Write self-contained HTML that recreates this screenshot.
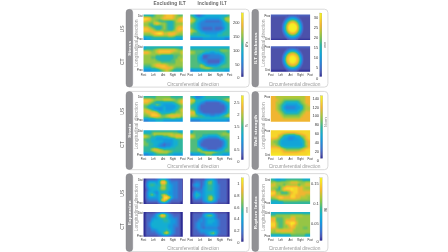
<!DOCTYPE html><html><head><meta charset="utf-8"><style>html,body{margin:0;padding:0;background:#fff;}svg{display:block;will-change:transform;}</style></head><body><svg width="448" height="252" viewBox="0 0 448 252" font-family="Liberation Sans, sans-serif"><defs><filter id="par" x="-20%" y="-20%" width="140%" height="140%" color-interpolation-filters="sRGB"><feGaussianBlur stdDeviation="0.7 1.1"/><feComponentTransfer><feFuncR type="table" tableValues="0.1765 0.2176 0.2586 0.2997 0.3027 0.2990 0.2952 0.2810 0.2624 0.2437 0.2250 0.2063 0.1877 0.1702 0.1547 0.1391 0.1236 0.1080 0.0924 0.0784 0.0784 0.0784 0.0784 0.0784 0.0784 0.0784 0.0909 0.1064 0.1220 0.1376 0.1531 0.1687 0.1998 0.2465 0.2932 0.3399 0.3866 0.4332 0.4781 0.5154 0.5528 0.5901 0.6275 0.6648 0.7021 0.7412 0.7804 0.8196 0.8588 0.8980 0.9373 0.9548 0.9579 0.9610 0.9641 0.9673 0.9681 0.9672 0.9664 0.9655 0.9645 0.9633 0.9620 0.9608"/><feFuncG type="table" tableValues="0.1765 0.2225 0.2686 0.3147 0.3406 0.3630 0.3854 0.4052 0.4239 0.4426 0.4613 0.4799 0.4986 0.5160 0.5316 0.5472 0.5627 0.5783 0.5938 0.6091 0.6215 0.6340 0.6464 0.6589 0.6713 0.6838 0.6898 0.6941 0.6985 0.7028 0.7072 0.7115 0.7178 0.7259 0.7340 0.7420 0.7501 0.7582 0.7653 0.7684 0.7716 0.7747 0.7778 0.7809 0.7840 0.7731 0.7607 0.7482 0.7358 0.7233 0.7109 0.7176 0.7370 0.7565 0.7759 0.7954 0.8174 0.8414 0.8654 0.8894 0.9117 0.9241 0.9366 0.9490"/><feFuncB type="table" tableValues="0.5882 0.6131 0.6380 0.6629 0.6931 0.7242 0.7554 0.7734 0.7859 0.7983 0.8108 0.8232 0.8357 0.8449 0.8492 0.8536 0.8580 0.8623 0.8667 0.8698 0.8624 0.8549 0.8474 0.8400 0.8325 0.8250 0.7986 0.7675 0.7364 0.7053 0.6741 0.6430 0.6041 0.5574 0.5107 0.4641 0.4174 0.3707 0.3296 0.3109 0.2923 0.2736 0.2549 0.2362 0.2176 0.2129 0.2098 0.2067 0.2035 0.2004 0.1973 0.1933 0.1886 0.1839 0.1793 0.1746 0.1696 0.1642 0.1589 0.1536 0.1485 0.1447 0.1410 0.1373"/><feFuncA type="identity"/></feComponentTransfer></filter></defs><rect width="448" height="252" fill="#fff"/><text x="169.70" y="3.89" font-size="4.75" text-anchor="middle" dominant-baseline="central" fill="#666" font-weight="bold" letter-spacing="0.12">Excluding ILT</text><text x="212.20" y="3.83" font-size="4.50" text-anchor="middle" dominant-baseline="central" fill="#666" font-weight="bold" letter-spacing="0.12">Including ILT</text><rect x="127" y="9.20" width="122.2" height="77.90" rx="3.5" fill="#fff" stroke="#d6d6d6" stroke-width="0.9"/><rect x="126.0" y="9.30" width="6.7" height="77.70" rx="3.3" fill="#919195" stroke="#828286" stroke-width="0.4"/><text x="129.20" y="48.15" font-size="4.40" text-anchor="middle" dominant-baseline="central" fill="#ffffff" transform="rotate(-90 129.20 48.15)" font-weight="bold" letter-spacing="0.3">Stress</text><rect x="253" y="9.20" width="74.9" height="77.90" rx="3.5" fill="#fff" stroke="#d6d6d6" stroke-width="0.9"/><rect x="251.9" y="9.30" width="6.7" height="77.70" rx="3.3" fill="#919195" stroke="#828286" stroke-width="0.4"/><text x="255.20" y="48.15" font-size="4.40" text-anchor="middle" dominant-baseline="central" fill="#ffffff" transform="rotate(-90 255.20 48.15)" font-weight="bold" letter-spacing="0.3">ILT thickness</text><text x="121.65" y="29.00" font-size="5.00" text-anchor="middle" dominant-baseline="central" fill="#555" transform="rotate(-90 121.65 29.00)" >US</text><text x="121.65" y="61.70" font-size="5.00" text-anchor="middle" dominant-baseline="central" fill="#555" transform="rotate(-90 121.65 61.70)" >CT</text><clipPath id="c1"><rect x="143.50" y="14.50" width="39.30" height="25.60"/></clipPath><g clip-path="url(#c1)"><g filter="url(#par)" shape-rendering="crispEdges"><linearGradient id="h2" gradientUnits="userSpaceOnUse" x1="144.73" y1="0" x2="181.57" y2="0"><stop offset="0.000" stop-color="#737373"/><stop offset="0.067" stop-color="#737373"/><stop offset="0.133" stop-color="#737373"/><stop offset="0.200" stop-color="#737373"/><stop offset="0.267" stop-color="#8c8c8c"/><stop offset="0.333" stop-color="#a6a6a6"/><stop offset="0.400" stop-color="#a6a6a6"/><stop offset="0.467" stop-color="#a6a6a6"/><stop offset="0.533" stop-color="#bfbfbf"/><stop offset="0.600" stop-color="#d9d9d9"/><stop offset="0.667" stop-color="#d9d9d9"/><stop offset="0.733" stop-color="#d9d9d9"/><stop offset="0.800" stop-color="#bfbfbf"/><stop offset="0.867" stop-color="#a6a6a6"/><stop offset="0.933" stop-color="#8c8c8c"/><stop offset="1.000" stop-color="#8c8c8c"/></linearGradient><rect x="138.59" y="9.33" width="49.12" height="2.66" fill="url(#h2)"/><linearGradient id="h3" gradientUnits="userSpaceOnUse" x1="144.73" y1="0" x2="181.57" y2="0"><stop offset="0.000" stop-color="#737373"/><stop offset="0.067" stop-color="#737373"/><stop offset="0.133" stop-color="#737373"/><stop offset="0.200" stop-color="#737373"/><stop offset="0.267" stop-color="#8c8c8c"/><stop offset="0.333" stop-color="#a6a6a6"/><stop offset="0.400" stop-color="#a6a6a6"/><stop offset="0.467" stop-color="#a6a6a6"/><stop offset="0.533" stop-color="#bfbfbf"/><stop offset="0.600" stop-color="#d9d9d9"/><stop offset="0.667" stop-color="#d9d9d9"/><stop offset="0.733" stop-color="#d9d9d9"/><stop offset="0.800" stop-color="#bfbfbf"/><stop offset="0.867" stop-color="#a6a6a6"/><stop offset="0.933" stop-color="#8c8c8c"/><stop offset="1.000" stop-color="#8c8c8c"/></linearGradient><rect x="138.59" y="11.89" width="49.12" height="2.66" fill="url(#h3)"/><linearGradient id="h4" gradientUnits="userSpaceOnUse" x1="144.73" y1="0" x2="181.57" y2="0"><stop offset="0.000" stop-color="#737373"/><stop offset="0.067" stop-color="#737373"/><stop offset="0.133" stop-color="#737373"/><stop offset="0.200" stop-color="#737373"/><stop offset="0.267" stop-color="#8c8c8c"/><stop offset="0.333" stop-color="#a6a6a6"/><stop offset="0.400" stop-color="#a6a6a6"/><stop offset="0.467" stop-color="#a6a6a6"/><stop offset="0.533" stop-color="#bfbfbf"/><stop offset="0.600" stop-color="#d9d9d9"/><stop offset="0.667" stop-color="#d9d9d9"/><stop offset="0.733" stop-color="#d9d9d9"/><stop offset="0.800" stop-color="#bfbfbf"/><stop offset="0.867" stop-color="#a6a6a6"/><stop offset="0.933" stop-color="#8c8c8c"/><stop offset="1.000" stop-color="#8c8c8c"/></linearGradient><rect x="138.59" y="14.45" width="49.12" height="2.66" fill="url(#h4)"/><linearGradient id="h5" gradientUnits="userSpaceOnUse" x1="144.73" y1="0" x2="181.57" y2="0"><stop offset="0.000" stop-color="#f2f2f2"/><stop offset="0.067" stop-color="#f2f2f2"/><stop offset="0.133" stop-color="#d9d9d9"/><stop offset="0.200" stop-color="#a6a6a6"/><stop offset="0.267" stop-color="#a6a6a6"/><stop offset="0.333" stop-color="#a6a6a6"/><stop offset="0.400" stop-color="#a6a6a6"/><stop offset="0.467" stop-color="#bfbfbf"/><stop offset="0.533" stop-color="#d9d9d9"/><stop offset="0.600" stop-color="#d9d9d9"/><stop offset="0.667" stop-color="#d9d9d9"/><stop offset="0.733" stop-color="#d9d9d9"/><stop offset="0.800" stop-color="#bfbfbf"/><stop offset="0.867" stop-color="#a6a6a6"/><stop offset="0.933" stop-color="#bfbfbf"/><stop offset="1.000" stop-color="#d9d9d9"/></linearGradient><rect x="138.59" y="17.01" width="49.12" height="2.66" fill="url(#h5)"/><linearGradient id="h6" gradientUnits="userSpaceOnUse" x1="144.73" y1="0" x2="181.57" y2="0"><stop offset="0.000" stop-color="#d9d9d9"/><stop offset="0.067" stop-color="#bfbfbf"/><stop offset="0.133" stop-color="#bfbfbf"/><stop offset="0.200" stop-color="#a6a6a6"/><stop offset="0.267" stop-color="#a6a6a6"/><stop offset="0.333" stop-color="#8c8c8c"/><stop offset="0.400" stop-color="#737373"/><stop offset="0.467" stop-color="#737373"/><stop offset="0.533" stop-color="#737373"/><stop offset="0.600" stop-color="#737373"/><stop offset="0.667" stop-color="#737373"/><stop offset="0.733" stop-color="#737373"/><stop offset="0.800" stop-color="#8c8c8c"/><stop offset="0.867" stop-color="#bfbfbf"/><stop offset="0.933" stop-color="#d9d9d9"/><stop offset="1.000" stop-color="#d9d9d9"/></linearGradient><rect x="138.59" y="19.57" width="49.12" height="2.66" fill="url(#h6)"/><linearGradient id="h7" gradientUnits="userSpaceOnUse" x1="144.73" y1="0" x2="181.57" y2="0"><stop offset="0.000" stop-color="#a6a6a6"/><stop offset="0.067" stop-color="#a6a6a6"/><stop offset="0.133" stop-color="#8c8c8c"/><stop offset="0.200" stop-color="#8c8c8c"/><stop offset="0.267" stop-color="#bfbfbf"/><stop offset="0.333" stop-color="#d9d9d9"/><stop offset="0.400" stop-color="#bfbfbf"/><stop offset="0.467" stop-color="#a6a6a6"/><stop offset="0.533" stop-color="#a6a6a6"/><stop offset="0.600" stop-color="#8c8c8c"/><stop offset="0.667" stop-color="#737373"/><stop offset="0.733" stop-color="#737373"/><stop offset="0.800" stop-color="#8c8c8c"/><stop offset="0.867" stop-color="#a6a6a6"/><stop offset="0.933" stop-color="#a6a6a6"/><stop offset="1.000" stop-color="#a6a6a6"/></linearGradient><rect x="138.59" y="22.13" width="49.12" height="2.66" fill="url(#h7)"/><linearGradient id="h8" gradientUnits="userSpaceOnUse" x1="144.73" y1="0" x2="181.57" y2="0"><stop offset="0.000" stop-color="#a6a6a6"/><stop offset="0.067" stop-color="#a6a6a6"/><stop offset="0.133" stop-color="#8c8c8c"/><stop offset="0.200" stop-color="#737373"/><stop offset="0.267" stop-color="#737373"/><stop offset="0.333" stop-color="#737373"/><stop offset="0.400" stop-color="#737373"/><stop offset="0.467" stop-color="#8c8c8c"/><stop offset="0.533" stop-color="#a6a6a6"/><stop offset="0.600" stop-color="#8c8c8c"/><stop offset="0.667" stop-color="#737373"/><stop offset="0.733" stop-color="#737373"/><stop offset="0.800" stop-color="#8c8c8c"/><stop offset="0.867" stop-color="#a6a6a6"/><stop offset="0.933" stop-color="#bfbfbf"/><stop offset="1.000" stop-color="#bfbfbf"/></linearGradient><rect x="138.59" y="24.69" width="49.12" height="2.66" fill="url(#h8)"/><linearGradient id="h9" gradientUnits="userSpaceOnUse" x1="144.73" y1="0" x2="181.57" y2="0"><stop offset="0.000" stop-color="#d9d9d9"/><stop offset="0.067" stop-color="#d9d9d9"/><stop offset="0.133" stop-color="#bfbfbf"/><stop offset="0.200" stop-color="#a6a6a6"/><stop offset="0.267" stop-color="#8c8c8c"/><stop offset="0.333" stop-color="#737373"/><stop offset="0.400" stop-color="#737373"/><stop offset="0.467" stop-color="#8c8c8c"/><stop offset="0.533" stop-color="#a6a6a6"/><stop offset="0.600" stop-color="#8c8c8c"/><stop offset="0.667" stop-color="#737373"/><stop offset="0.733" stop-color="#737373"/><stop offset="0.800" stop-color="#8c8c8c"/><stop offset="0.867" stop-color="#bfbfbf"/><stop offset="0.933" stop-color="#d9d9d9"/><stop offset="1.000" stop-color="#d9d9d9"/></linearGradient><rect x="138.59" y="27.25" width="49.12" height="2.66" fill="url(#h9)"/><linearGradient id="h10" gradientUnits="userSpaceOnUse" x1="144.73" y1="0" x2="181.57" y2="0"><stop offset="0.000" stop-color="#d9d9d9"/><stop offset="0.067" stop-color="#d9d9d9"/><stop offset="0.133" stop-color="#d9d9d9"/><stop offset="0.200" stop-color="#d9d9d9"/><stop offset="0.267" stop-color="#bfbfbf"/><stop offset="0.333" stop-color="#a6a6a6"/><stop offset="0.400" stop-color="#a6a6a6"/><stop offset="0.467" stop-color="#a6a6a6"/><stop offset="0.533" stop-color="#8c8c8c"/><stop offset="0.600" stop-color="#8c8c8c"/><stop offset="0.667" stop-color="#8c8c8c"/><stop offset="0.733" stop-color="#8c8c8c"/><stop offset="0.800" stop-color="#a6a6a6"/><stop offset="0.867" stop-color="#bfbfbf"/><stop offset="0.933" stop-color="#d9d9d9"/><stop offset="1.000" stop-color="#bfbfbf"/></linearGradient><rect x="138.59" y="29.81" width="49.12" height="2.66" fill="url(#h10)"/><linearGradient id="h11" gradientUnits="userSpaceOnUse" x1="144.73" y1="0" x2="181.57" y2="0"><stop offset="0.000" stop-color="#a6a6a6"/><stop offset="0.067" stop-color="#a6a6a6"/><stop offset="0.133" stop-color="#a6a6a6"/><stop offset="0.200" stop-color="#bfbfbf"/><stop offset="0.267" stop-color="#d9d9d9"/><stop offset="0.333" stop-color="#f2f2f2"/><stop offset="0.400" stop-color="#ffffff"/><stop offset="0.467" stop-color="#f2f2f2"/><stop offset="0.533" stop-color="#bfbfbf"/><stop offset="0.600" stop-color="#bfbfbf"/><stop offset="0.667" stop-color="#d9d9d9"/><stop offset="0.733" stop-color="#d9d9d9"/><stop offset="0.800" stop-color="#d9d9d9"/><stop offset="0.867" stop-color="#bfbfbf"/><stop offset="0.933" stop-color="#a6a6a6"/><stop offset="1.000" stop-color="#a6a6a6"/></linearGradient><rect x="138.59" y="32.37" width="49.12" height="2.66" fill="url(#h11)"/><linearGradient id="h12" gradientUnits="userSpaceOnUse" x1="144.73" y1="0" x2="181.57" y2="0"><stop offset="0.000" stop-color="#8c8c8c"/><stop offset="0.067" stop-color="#8c8c8c"/><stop offset="0.133" stop-color="#8c8c8c"/><stop offset="0.200" stop-color="#8c8c8c"/><stop offset="0.267" stop-color="#a6a6a6"/><stop offset="0.333" stop-color="#a6a6a6"/><stop offset="0.400" stop-color="#a6a6a6"/><stop offset="0.467" stop-color="#a6a6a6"/><stop offset="0.533" stop-color="#a6a6a6"/><stop offset="0.600" stop-color="#a6a6a6"/><stop offset="0.667" stop-color="#bfbfbf"/><stop offset="0.733" stop-color="#bfbfbf"/><stop offset="0.800" stop-color="#a6a6a6"/><stop offset="0.867" stop-color="#8c8c8c"/><stop offset="0.933" stop-color="#8c8c8c"/><stop offset="1.000" stop-color="#8c8c8c"/></linearGradient><rect x="138.59" y="34.93" width="49.12" height="2.66" fill="url(#h12)"/><linearGradient id="h13" gradientUnits="userSpaceOnUse" x1="144.73" y1="0" x2="181.57" y2="0"><stop offset="0.000" stop-color="#404040"/><stop offset="0.067" stop-color="#595959"/><stop offset="0.133" stop-color="#595959"/><stop offset="0.200" stop-color="#737373"/><stop offset="0.267" stop-color="#737373"/><stop offset="0.333" stop-color="#737373"/><stop offset="0.400" stop-color="#737373"/><stop offset="0.467" stop-color="#737373"/><stop offset="0.533" stop-color="#737373"/><stop offset="0.600" stop-color="#737373"/><stop offset="0.667" stop-color="#737373"/><stop offset="0.733" stop-color="#737373"/><stop offset="0.800" stop-color="#737373"/><stop offset="0.867" stop-color="#595959"/><stop offset="0.933" stop-color="#595959"/><stop offset="1.000" stop-color="#595959"/></linearGradient><rect x="138.59" y="37.49" width="49.12" height="2.66" fill="url(#h13)"/><linearGradient id="h14" gradientUnits="userSpaceOnUse" x1="144.73" y1="0" x2="181.57" y2="0"><stop offset="0.000" stop-color="#404040"/><stop offset="0.067" stop-color="#595959"/><stop offset="0.133" stop-color="#595959"/><stop offset="0.200" stop-color="#737373"/><stop offset="0.267" stop-color="#737373"/><stop offset="0.333" stop-color="#737373"/><stop offset="0.400" stop-color="#737373"/><stop offset="0.467" stop-color="#737373"/><stop offset="0.533" stop-color="#737373"/><stop offset="0.600" stop-color="#737373"/><stop offset="0.667" stop-color="#737373"/><stop offset="0.733" stop-color="#737373"/><stop offset="0.800" stop-color="#737373"/><stop offset="0.867" stop-color="#595959"/><stop offset="0.933" stop-color="#595959"/><stop offset="1.000" stop-color="#595959"/></linearGradient><rect x="138.59" y="40.05" width="49.12" height="2.66" fill="url(#h14)"/><linearGradient id="h15" gradientUnits="userSpaceOnUse" x1="144.73" y1="0" x2="181.57" y2="0"><stop offset="0.000" stop-color="#404040"/><stop offset="0.067" stop-color="#595959"/><stop offset="0.133" stop-color="#595959"/><stop offset="0.200" stop-color="#737373"/><stop offset="0.267" stop-color="#737373"/><stop offset="0.333" stop-color="#737373"/><stop offset="0.400" stop-color="#737373"/><stop offset="0.467" stop-color="#737373"/><stop offset="0.533" stop-color="#737373"/><stop offset="0.600" stop-color="#737373"/><stop offset="0.667" stop-color="#737373"/><stop offset="0.733" stop-color="#737373"/><stop offset="0.800" stop-color="#737373"/><stop offset="0.867" stop-color="#595959"/><stop offset="0.933" stop-color="#595959"/><stop offset="1.000" stop-color="#595959"/></linearGradient><rect x="138.59" y="42.61" width="49.12" height="2.66" fill="url(#h15)"/></g></g><clipPath id="c16"><rect x="190.30" y="14.50" width="39.30" height="25.60"/></clipPath><g clip-path="url(#c16)"><g filter="url(#par)" shape-rendering="crispEdges"><linearGradient id="h17" gradientUnits="userSpaceOnUse" x1="191.53" y1="0" x2="228.37" y2="0"><stop offset="0.000" stop-color="#808080"/><stop offset="0.067" stop-color="#666666"/><stop offset="0.133" stop-color="#333333"/><stop offset="0.200" stop-color="#1a1a1a"/><stop offset="0.267" stop-color="#333333"/><stop offset="0.333" stop-color="#4c4c4c"/><stop offset="0.400" stop-color="#666666"/><stop offset="0.467" stop-color="#666666"/><stop offset="0.533" stop-color="#666666"/><stop offset="0.600" stop-color="#666666"/><stop offset="0.667" stop-color="#666666"/><stop offset="0.733" stop-color="#666666"/><stop offset="0.800" stop-color="#666666"/><stop offset="0.867" stop-color="#666666"/><stop offset="0.933" stop-color="#666666"/><stop offset="1.000" stop-color="#808080"/></linearGradient><rect x="185.39" y="9.33" width="49.12" height="2.66" fill="url(#h17)"/><linearGradient id="h18" gradientUnits="userSpaceOnUse" x1="191.53" y1="0" x2="228.37" y2="0"><stop offset="0.000" stop-color="#808080"/><stop offset="0.067" stop-color="#666666"/><stop offset="0.133" stop-color="#333333"/><stop offset="0.200" stop-color="#1a1a1a"/><stop offset="0.267" stop-color="#333333"/><stop offset="0.333" stop-color="#4c4c4c"/><stop offset="0.400" stop-color="#666666"/><stop offset="0.467" stop-color="#666666"/><stop offset="0.533" stop-color="#666666"/><stop offset="0.600" stop-color="#666666"/><stop offset="0.667" stop-color="#666666"/><stop offset="0.733" stop-color="#666666"/><stop offset="0.800" stop-color="#666666"/><stop offset="0.867" stop-color="#666666"/><stop offset="0.933" stop-color="#666666"/><stop offset="1.000" stop-color="#808080"/></linearGradient><rect x="185.39" y="11.89" width="49.12" height="2.66" fill="url(#h18)"/><linearGradient id="h19" gradientUnits="userSpaceOnUse" x1="191.53" y1="0" x2="228.37" y2="0"><stop offset="0.000" stop-color="#808080"/><stop offset="0.067" stop-color="#666666"/><stop offset="0.133" stop-color="#333333"/><stop offset="0.200" stop-color="#1a1a1a"/><stop offset="0.267" stop-color="#333333"/><stop offset="0.333" stop-color="#4c4c4c"/><stop offset="0.400" stop-color="#666666"/><stop offset="0.467" stop-color="#666666"/><stop offset="0.533" stop-color="#666666"/><stop offset="0.600" stop-color="#666666"/><stop offset="0.667" stop-color="#666666"/><stop offset="0.733" stop-color="#666666"/><stop offset="0.800" stop-color="#666666"/><stop offset="0.867" stop-color="#666666"/><stop offset="0.933" stop-color="#666666"/><stop offset="1.000" stop-color="#808080"/></linearGradient><rect x="185.39" y="14.45" width="49.12" height="2.66" fill="url(#h19)"/><linearGradient id="h20" gradientUnits="userSpaceOnUse" x1="191.53" y1="0" x2="228.37" y2="0"><stop offset="0.000" stop-color="#b2b2b2"/><stop offset="0.067" stop-color="#999999"/><stop offset="0.133" stop-color="#808080"/><stop offset="0.200" stop-color="#666666"/><stop offset="0.267" stop-color="#666666"/><stop offset="0.333" stop-color="#666666"/><stop offset="0.400" stop-color="#4c4c4c"/><stop offset="0.467" stop-color="#4c4c4c"/><stop offset="0.533" stop-color="#4c4c4c"/><stop offset="0.600" stop-color="#4c4c4c"/><stop offset="0.667" stop-color="#4c4c4c"/><stop offset="0.733" stop-color="#4c4c4c"/><stop offset="0.800" stop-color="#666666"/><stop offset="0.867" stop-color="#808080"/><stop offset="0.933" stop-color="#b2b2b2"/><stop offset="1.000" stop-color="#b2b2b2"/></linearGradient><rect x="185.39" y="17.01" width="49.12" height="2.66" fill="url(#h20)"/><linearGradient id="h21" gradientUnits="userSpaceOnUse" x1="191.53" y1="0" x2="228.37" y2="0"><stop offset="0.000" stop-color="#cccccc"/><stop offset="0.067" stop-color="#b2b2b2"/><stop offset="0.133" stop-color="#808080"/><stop offset="0.200" stop-color="#666666"/><stop offset="0.267" stop-color="#4c4c4c"/><stop offset="0.333" stop-color="#333333"/><stop offset="0.400" stop-color="#1a1a1a"/><stop offset="0.467" stop-color="#1a1a1a"/><stop offset="0.533" stop-color="#1a1a1a"/><stop offset="0.600" stop-color="#1a1a1a"/><stop offset="0.667" stop-color="#1a1a1a"/><stop offset="0.733" stop-color="#1a1a1a"/><stop offset="0.800" stop-color="#333333"/><stop offset="0.867" stop-color="#666666"/><stop offset="0.933" stop-color="#999999"/><stop offset="1.000" stop-color="#b2b2b2"/></linearGradient><rect x="185.39" y="19.57" width="49.12" height="2.66" fill="url(#h21)"/><linearGradient id="h22" gradientUnits="userSpaceOnUse" x1="191.53" y1="0" x2="228.37" y2="0"><stop offset="0.000" stop-color="#999999"/><stop offset="0.067" stop-color="#808080"/><stop offset="0.133" stop-color="#666666"/><stop offset="0.200" stop-color="#4c4c4c"/><stop offset="0.267" stop-color="#333333"/><stop offset="0.333" stop-color="#333333"/><stop offset="0.400" stop-color="#333333"/><stop offset="0.467" stop-color="#333333"/><stop offset="0.533" stop-color="#333333"/><stop offset="0.600" stop-color="#333333"/><stop offset="0.667" stop-color="#333333"/><stop offset="0.733" stop-color="#333333"/><stop offset="0.800" stop-color="#333333"/><stop offset="0.867" stop-color="#4c4c4c"/><stop offset="0.933" stop-color="#666666"/><stop offset="1.000" stop-color="#808080"/></linearGradient><rect x="185.39" y="22.13" width="49.12" height="2.66" fill="url(#h22)"/><linearGradient id="h23" gradientUnits="userSpaceOnUse" x1="191.53" y1="0" x2="228.37" y2="0"><stop offset="0.000" stop-color="#808080"/><stop offset="0.067" stop-color="#808080"/><stop offset="0.133" stop-color="#666666"/><stop offset="0.200" stop-color="#4c4c4c"/><stop offset="0.267" stop-color="#333333"/><stop offset="0.333" stop-color="#333333"/><stop offset="0.400" stop-color="#333333"/><stop offset="0.467" stop-color="#333333"/><stop offset="0.533" stop-color="#333333"/><stop offset="0.600" stop-color="#333333"/><stop offset="0.667" stop-color="#333333"/><stop offset="0.733" stop-color="#333333"/><stop offset="0.800" stop-color="#333333"/><stop offset="0.867" stop-color="#4c4c4c"/><stop offset="0.933" stop-color="#666666"/><stop offset="1.000" stop-color="#808080"/></linearGradient><rect x="185.39" y="24.69" width="49.12" height="2.66" fill="url(#h23)"/><linearGradient id="h24" gradientUnits="userSpaceOnUse" x1="191.53" y1="0" x2="228.37" y2="0"><stop offset="0.000" stop-color="#999999"/><stop offset="0.067" stop-color="#808080"/><stop offset="0.133" stop-color="#666666"/><stop offset="0.200" stop-color="#4c4c4c"/><stop offset="0.267" stop-color="#333333"/><stop offset="0.333" stop-color="#1a1a1a"/><stop offset="0.400" stop-color="#1a1a1a"/><stop offset="0.467" stop-color="#1a1a1a"/><stop offset="0.533" stop-color="#1a1a1a"/><stop offset="0.600" stop-color="#333333"/><stop offset="0.667" stop-color="#1a1a1a"/><stop offset="0.733" stop-color="#1a1a1a"/><stop offset="0.800" stop-color="#1a1a1a"/><stop offset="0.867" stop-color="#333333"/><stop offset="0.933" stop-color="#666666"/><stop offset="1.000" stop-color="#808080"/></linearGradient><rect x="185.39" y="27.25" width="49.12" height="2.66" fill="url(#h24)"/><linearGradient id="h25" gradientUnits="userSpaceOnUse" x1="191.53" y1="0" x2="228.37" y2="0"><stop offset="0.000" stop-color="#cccccc"/><stop offset="0.067" stop-color="#b2b2b2"/><stop offset="0.133" stop-color="#999999"/><stop offset="0.200" stop-color="#666666"/><stop offset="0.267" stop-color="#4c4c4c"/><stop offset="0.333" stop-color="#333333"/><stop offset="0.400" stop-color="#333333"/><stop offset="0.467" stop-color="#333333"/><stop offset="0.533" stop-color="#333333"/><stop offset="0.600" stop-color="#333333"/><stop offset="0.667" stop-color="#333333"/><stop offset="0.733" stop-color="#333333"/><stop offset="0.800" stop-color="#4c4c4c"/><stop offset="0.867" stop-color="#666666"/><stop offset="0.933" stop-color="#808080"/><stop offset="1.000" stop-color="#808080"/></linearGradient><rect x="185.39" y="29.81" width="49.12" height="2.66" fill="url(#h25)"/><linearGradient id="h26" gradientUnits="userSpaceOnUse" x1="191.53" y1="0" x2="228.37" y2="0"><stop offset="0.000" stop-color="#999999"/><stop offset="0.067" stop-color="#808080"/><stop offset="0.133" stop-color="#808080"/><stop offset="0.200" stop-color="#808080"/><stop offset="0.267" stop-color="#666666"/><stop offset="0.333" stop-color="#666666"/><stop offset="0.400" stop-color="#4c4c4c"/><stop offset="0.467" stop-color="#4c4c4c"/><stop offset="0.533" stop-color="#4c4c4c"/><stop offset="0.600" stop-color="#4c4c4c"/><stop offset="0.667" stop-color="#4c4c4c"/><stop offset="0.733" stop-color="#666666"/><stop offset="0.800" stop-color="#666666"/><stop offset="0.867" stop-color="#808080"/><stop offset="0.933" stop-color="#808080"/><stop offset="1.000" stop-color="#808080"/></linearGradient><rect x="185.39" y="32.37" width="49.12" height="2.66" fill="url(#h26)"/><linearGradient id="h27" gradientUnits="userSpaceOnUse" x1="191.53" y1="0" x2="228.37" y2="0"><stop offset="0.000" stop-color="#808080"/><stop offset="0.067" stop-color="#808080"/><stop offset="0.133" stop-color="#808080"/><stop offset="0.200" stop-color="#808080"/><stop offset="0.267" stop-color="#808080"/><stop offset="0.333" stop-color="#808080"/><stop offset="0.400" stop-color="#808080"/><stop offset="0.467" stop-color="#808080"/><stop offset="0.533" stop-color="#666666"/><stop offset="0.600" stop-color="#666666"/><stop offset="0.667" stop-color="#666666"/><stop offset="0.733" stop-color="#808080"/><stop offset="0.800" stop-color="#808080"/><stop offset="0.867" stop-color="#808080"/><stop offset="0.933" stop-color="#808080"/><stop offset="1.000" stop-color="#808080"/></linearGradient><rect x="185.39" y="34.93" width="49.12" height="2.66" fill="url(#h27)"/><linearGradient id="h28" gradientUnits="userSpaceOnUse" x1="191.53" y1="0" x2="228.37" y2="0"><stop offset="0.000" stop-color="#333333"/><stop offset="0.067" stop-color="#333333"/><stop offset="0.133" stop-color="#333333"/><stop offset="0.200" stop-color="#333333"/><stop offset="0.267" stop-color="#333333"/><stop offset="0.333" stop-color="#4c4c4c"/><stop offset="0.400" stop-color="#4c4c4c"/><stop offset="0.467" stop-color="#4c4c4c"/><stop offset="0.533" stop-color="#4c4c4c"/><stop offset="0.600" stop-color="#4c4c4c"/><stop offset="0.667" stop-color="#4c4c4c"/><stop offset="0.733" stop-color="#4c4c4c"/><stop offset="0.800" stop-color="#4c4c4c"/><stop offset="0.867" stop-color="#4c4c4c"/><stop offset="0.933" stop-color="#333333"/><stop offset="1.000" stop-color="#333333"/></linearGradient><rect x="185.39" y="37.49" width="49.12" height="2.66" fill="url(#h28)"/><linearGradient id="h29" gradientUnits="userSpaceOnUse" x1="191.53" y1="0" x2="228.37" y2="0"><stop offset="0.000" stop-color="#333333"/><stop offset="0.067" stop-color="#333333"/><stop offset="0.133" stop-color="#333333"/><stop offset="0.200" stop-color="#333333"/><stop offset="0.267" stop-color="#333333"/><stop offset="0.333" stop-color="#4c4c4c"/><stop offset="0.400" stop-color="#4c4c4c"/><stop offset="0.467" stop-color="#4c4c4c"/><stop offset="0.533" stop-color="#4c4c4c"/><stop offset="0.600" stop-color="#4c4c4c"/><stop offset="0.667" stop-color="#4c4c4c"/><stop offset="0.733" stop-color="#4c4c4c"/><stop offset="0.800" stop-color="#4c4c4c"/><stop offset="0.867" stop-color="#4c4c4c"/><stop offset="0.933" stop-color="#333333"/><stop offset="1.000" stop-color="#333333"/></linearGradient><rect x="185.39" y="40.05" width="49.12" height="2.66" fill="url(#h29)"/><linearGradient id="h30" gradientUnits="userSpaceOnUse" x1="191.53" y1="0" x2="228.37" y2="0"><stop offset="0.000" stop-color="#333333"/><stop offset="0.067" stop-color="#333333"/><stop offset="0.133" stop-color="#333333"/><stop offset="0.200" stop-color="#333333"/><stop offset="0.267" stop-color="#333333"/><stop offset="0.333" stop-color="#4c4c4c"/><stop offset="0.400" stop-color="#4c4c4c"/><stop offset="0.467" stop-color="#4c4c4c"/><stop offset="0.533" stop-color="#4c4c4c"/><stop offset="0.600" stop-color="#4c4c4c"/><stop offset="0.667" stop-color="#4c4c4c"/><stop offset="0.733" stop-color="#4c4c4c"/><stop offset="0.800" stop-color="#4c4c4c"/><stop offset="0.867" stop-color="#4c4c4c"/><stop offset="0.933" stop-color="#333333"/><stop offset="1.000" stop-color="#333333"/></linearGradient><rect x="185.39" y="42.61" width="49.12" height="2.66" fill="url(#h30)"/></g></g><clipPath id="c31"><rect x="143.50" y="46.30" width="39.30" height="25.40"/></clipPath><g clip-path="url(#c31)"><g filter="url(#par)" shape-rendering="crispEdges"><linearGradient id="h32" gradientUnits="userSpaceOnUse" x1="144.73" y1="0" x2="181.57" y2="0"><stop offset="0.000" stop-color="#595959"/><stop offset="0.067" stop-color="#737373"/><stop offset="0.133" stop-color="#737373"/><stop offset="0.200" stop-color="#737373"/><stop offset="0.267" stop-color="#737373"/><stop offset="0.333" stop-color="#737373"/><stop offset="0.400" stop-color="#737373"/><stop offset="0.467" stop-color="#737373"/><stop offset="0.533" stop-color="#737373"/><stop offset="0.600" stop-color="#737373"/><stop offset="0.667" stop-color="#737373"/><stop offset="0.733" stop-color="#737373"/><stop offset="0.800" stop-color="#737373"/><stop offset="0.867" stop-color="#737373"/><stop offset="0.933" stop-color="#737373"/><stop offset="1.000" stop-color="#595959"/></linearGradient><rect x="138.59" y="41.17" width="49.12" height="2.64" fill="url(#h32)"/><linearGradient id="h33" gradientUnits="userSpaceOnUse" x1="144.73" y1="0" x2="181.57" y2="0"><stop offset="0.000" stop-color="#595959"/><stop offset="0.067" stop-color="#737373"/><stop offset="0.133" stop-color="#737373"/><stop offset="0.200" stop-color="#737373"/><stop offset="0.267" stop-color="#737373"/><stop offset="0.333" stop-color="#737373"/><stop offset="0.400" stop-color="#737373"/><stop offset="0.467" stop-color="#737373"/><stop offset="0.533" stop-color="#737373"/><stop offset="0.600" stop-color="#737373"/><stop offset="0.667" stop-color="#737373"/><stop offset="0.733" stop-color="#737373"/><stop offset="0.800" stop-color="#737373"/><stop offset="0.867" stop-color="#737373"/><stop offset="0.933" stop-color="#737373"/><stop offset="1.000" stop-color="#595959"/></linearGradient><rect x="138.59" y="43.71" width="49.12" height="2.64" fill="url(#h33)"/><linearGradient id="h34" gradientUnits="userSpaceOnUse" x1="144.73" y1="0" x2="181.57" y2="0"><stop offset="0.000" stop-color="#595959"/><stop offset="0.067" stop-color="#737373"/><stop offset="0.133" stop-color="#737373"/><stop offset="0.200" stop-color="#737373"/><stop offset="0.267" stop-color="#737373"/><stop offset="0.333" stop-color="#737373"/><stop offset="0.400" stop-color="#737373"/><stop offset="0.467" stop-color="#737373"/><stop offset="0.533" stop-color="#737373"/><stop offset="0.600" stop-color="#737373"/><stop offset="0.667" stop-color="#737373"/><stop offset="0.733" stop-color="#737373"/><stop offset="0.800" stop-color="#737373"/><stop offset="0.867" stop-color="#737373"/><stop offset="0.933" stop-color="#737373"/><stop offset="1.000" stop-color="#595959"/></linearGradient><rect x="138.59" y="46.25" width="49.12" height="2.64" fill="url(#h34)"/><linearGradient id="h35" gradientUnits="userSpaceOnUse" x1="144.73" y1="0" x2="181.57" y2="0"><stop offset="0.000" stop-color="#8c8c8c"/><stop offset="0.067" stop-color="#8c8c8c"/><stop offset="0.133" stop-color="#8c8c8c"/><stop offset="0.200" stop-color="#8c8c8c"/><stop offset="0.267" stop-color="#a6a6a6"/><stop offset="0.333" stop-color="#bfbfbf"/><stop offset="0.400" stop-color="#d9d9d9"/><stop offset="0.467" stop-color="#d9d9d9"/><stop offset="0.533" stop-color="#d9d9d9"/><stop offset="0.600" stop-color="#d9d9d9"/><stop offset="0.667" stop-color="#d9d9d9"/><stop offset="0.733" stop-color="#d9d9d9"/><stop offset="0.800" stop-color="#d9d9d9"/><stop offset="0.867" stop-color="#bfbfbf"/><stop offset="0.933" stop-color="#a6a6a6"/><stop offset="1.000" stop-color="#a6a6a6"/></linearGradient><rect x="138.59" y="48.79" width="49.12" height="2.64" fill="url(#h35)"/><linearGradient id="h36" gradientUnits="userSpaceOnUse" x1="144.73" y1="0" x2="181.57" y2="0"><stop offset="0.000" stop-color="#d9d9d9"/><stop offset="0.067" stop-color="#d9d9d9"/><stop offset="0.133" stop-color="#bfbfbf"/><stop offset="0.200" stop-color="#a6a6a6"/><stop offset="0.267" stop-color="#a6a6a6"/><stop offset="0.333" stop-color="#bfbfbf"/><stop offset="0.400" stop-color="#d9d9d9"/><stop offset="0.467" stop-color="#d9d9d9"/><stop offset="0.533" stop-color="#d9d9d9"/><stop offset="0.600" stop-color="#d9d9d9"/><stop offset="0.667" stop-color="#d9d9d9"/><stop offset="0.733" stop-color="#bfbfbf"/><stop offset="0.800" stop-color="#a6a6a6"/><stop offset="0.867" stop-color="#a6a6a6"/><stop offset="0.933" stop-color="#a6a6a6"/><stop offset="1.000" stop-color="#bfbfbf"/></linearGradient><rect x="138.59" y="51.33" width="49.12" height="2.64" fill="url(#h36)"/><linearGradient id="h37" gradientUnits="userSpaceOnUse" x1="144.73" y1="0" x2="181.57" y2="0"><stop offset="0.000" stop-color="#a6a6a6"/><stop offset="0.067" stop-color="#a6a6a6"/><stop offset="0.133" stop-color="#a6a6a6"/><stop offset="0.200" stop-color="#a6a6a6"/><stop offset="0.267" stop-color="#a6a6a6"/><stop offset="0.333" stop-color="#8c8c8c"/><stop offset="0.400" stop-color="#8c8c8c"/><stop offset="0.467" stop-color="#737373"/><stop offset="0.533" stop-color="#737373"/><stop offset="0.600" stop-color="#737373"/><stop offset="0.667" stop-color="#737373"/><stop offset="0.733" stop-color="#737373"/><stop offset="0.800" stop-color="#8c8c8c"/><stop offset="0.867" stop-color="#8c8c8c"/><stop offset="0.933" stop-color="#8c8c8c"/><stop offset="1.000" stop-color="#a6a6a6"/></linearGradient><rect x="138.59" y="53.87" width="49.12" height="2.64" fill="url(#h37)"/><linearGradient id="h38" gradientUnits="userSpaceOnUse" x1="144.73" y1="0" x2="181.57" y2="0"><stop offset="0.000" stop-color="#a6a6a6"/><stop offset="0.067" stop-color="#a6a6a6"/><stop offset="0.133" stop-color="#a6a6a6"/><stop offset="0.200" stop-color="#8c8c8c"/><stop offset="0.267" stop-color="#8c8c8c"/><stop offset="0.333" stop-color="#737373"/><stop offset="0.400" stop-color="#737373"/><stop offset="0.467" stop-color="#737373"/><stop offset="0.533" stop-color="#737373"/><stop offset="0.600" stop-color="#737373"/><stop offset="0.667" stop-color="#737373"/><stop offset="0.733" stop-color="#737373"/><stop offset="0.800" stop-color="#8c8c8c"/><stop offset="0.867" stop-color="#8c8c8c"/><stop offset="0.933" stop-color="#a6a6a6"/><stop offset="1.000" stop-color="#a6a6a6"/></linearGradient><rect x="138.59" y="56.41" width="49.12" height="2.64" fill="url(#h38)"/><linearGradient id="h39" gradientUnits="userSpaceOnUse" x1="144.73" y1="0" x2="181.57" y2="0"><stop offset="0.000" stop-color="#a6a6a6"/><stop offset="0.067" stop-color="#a6a6a6"/><stop offset="0.133" stop-color="#a6a6a6"/><stop offset="0.200" stop-color="#a6a6a6"/><stop offset="0.267" stop-color="#a6a6a6"/><stop offset="0.333" stop-color="#8c8c8c"/><stop offset="0.400" stop-color="#737373"/><stop offset="0.467" stop-color="#737373"/><stop offset="0.533" stop-color="#737373"/><stop offset="0.600" stop-color="#737373"/><stop offset="0.667" stop-color="#737373"/><stop offset="0.733" stop-color="#8c8c8c"/><stop offset="0.800" stop-color="#8c8c8c"/><stop offset="0.867" stop-color="#a6a6a6"/><stop offset="0.933" stop-color="#a6a6a6"/><stop offset="1.000" stop-color="#bfbfbf"/></linearGradient><rect x="138.59" y="58.95" width="49.12" height="2.64" fill="url(#h39)"/><linearGradient id="h40" gradientUnits="userSpaceOnUse" x1="144.73" y1="0" x2="181.57" y2="0"><stop offset="0.000" stop-color="#a6a6a6"/><stop offset="0.067" stop-color="#a6a6a6"/><stop offset="0.133" stop-color="#a6a6a6"/><stop offset="0.200" stop-color="#a6a6a6"/><stop offset="0.267" stop-color="#a6a6a6"/><stop offset="0.333" stop-color="#a6a6a6"/><stop offset="0.400" stop-color="#a6a6a6"/><stop offset="0.467" stop-color="#8c8c8c"/><stop offset="0.533" stop-color="#8c8c8c"/><stop offset="0.600" stop-color="#8c8c8c"/><stop offset="0.667" stop-color="#8c8c8c"/><stop offset="0.733" stop-color="#8c8c8c"/><stop offset="0.800" stop-color="#8c8c8c"/><stop offset="0.867" stop-color="#a6a6a6"/><stop offset="0.933" stop-color="#a6a6a6"/><stop offset="1.000" stop-color="#a6a6a6"/></linearGradient><rect x="138.59" y="61.49" width="49.12" height="2.64" fill="url(#h40)"/><linearGradient id="h41" gradientUnits="userSpaceOnUse" x1="144.73" y1="0" x2="181.57" y2="0"><stop offset="0.000" stop-color="#8c8c8c"/><stop offset="0.067" stop-color="#8c8c8c"/><stop offset="0.133" stop-color="#8c8c8c"/><stop offset="0.200" stop-color="#a6a6a6"/><stop offset="0.267" stop-color="#bfbfbf"/><stop offset="0.333" stop-color="#d9d9d9"/><stop offset="0.400" stop-color="#d9d9d9"/><stop offset="0.467" stop-color="#d9d9d9"/><stop offset="0.533" stop-color="#d9d9d9"/><stop offset="0.600" stop-color="#bfbfbf"/><stop offset="0.667" stop-color="#a6a6a6"/><stop offset="0.733" stop-color="#a6a6a6"/><stop offset="0.800" stop-color="#a6a6a6"/><stop offset="0.867" stop-color="#a6a6a6"/><stop offset="0.933" stop-color="#a6a6a6"/><stop offset="1.000" stop-color="#a6a6a6"/></linearGradient><rect x="138.59" y="64.03" width="49.12" height="2.64" fill="url(#h41)"/><linearGradient id="h42" gradientUnits="userSpaceOnUse" x1="144.73" y1="0" x2="181.57" y2="0"><stop offset="0.000" stop-color="#737373"/><stop offset="0.067" stop-color="#737373"/><stop offset="0.133" stop-color="#737373"/><stop offset="0.200" stop-color="#8c8c8c"/><stop offset="0.267" stop-color="#8c8c8c"/><stop offset="0.333" stop-color="#a6a6a6"/><stop offset="0.400" stop-color="#bfbfbf"/><stop offset="0.467" stop-color="#d9d9d9"/><stop offset="0.533" stop-color="#d9d9d9"/><stop offset="0.600" stop-color="#d9d9d9"/><stop offset="0.667" stop-color="#d9d9d9"/><stop offset="0.733" stop-color="#d9d9d9"/><stop offset="0.800" stop-color="#a6a6a6"/><stop offset="0.867" stop-color="#8c8c8c"/><stop offset="0.933" stop-color="#8c8c8c"/><stop offset="1.000" stop-color="#8c8c8c"/></linearGradient><rect x="138.59" y="66.57" width="49.12" height="2.64" fill="url(#h42)"/><linearGradient id="h43" gradientUnits="userSpaceOnUse" x1="144.73" y1="0" x2="181.57" y2="0"><stop offset="0.000" stop-color="#404040"/><stop offset="0.067" stop-color="#404040"/><stop offset="0.133" stop-color="#404040"/><stop offset="0.200" stop-color="#595959"/><stop offset="0.267" stop-color="#595959"/><stop offset="0.333" stop-color="#595959"/><stop offset="0.400" stop-color="#737373"/><stop offset="0.467" stop-color="#8c8c8c"/><stop offset="0.533" stop-color="#a6a6a6"/><stop offset="0.600" stop-color="#bfbfbf"/><stop offset="0.667" stop-color="#a6a6a6"/><stop offset="0.733" stop-color="#8c8c8c"/><stop offset="0.800" stop-color="#737373"/><stop offset="0.867" stop-color="#737373"/><stop offset="0.933" stop-color="#737373"/><stop offset="1.000" stop-color="#737373"/></linearGradient><rect x="138.59" y="69.11" width="49.12" height="2.64" fill="url(#h43)"/><linearGradient id="h44" gradientUnits="userSpaceOnUse" x1="144.73" y1="0" x2="181.57" y2="0"><stop offset="0.000" stop-color="#404040"/><stop offset="0.067" stop-color="#404040"/><stop offset="0.133" stop-color="#404040"/><stop offset="0.200" stop-color="#595959"/><stop offset="0.267" stop-color="#595959"/><stop offset="0.333" stop-color="#595959"/><stop offset="0.400" stop-color="#737373"/><stop offset="0.467" stop-color="#8c8c8c"/><stop offset="0.533" stop-color="#a6a6a6"/><stop offset="0.600" stop-color="#bfbfbf"/><stop offset="0.667" stop-color="#a6a6a6"/><stop offset="0.733" stop-color="#8c8c8c"/><stop offset="0.800" stop-color="#737373"/><stop offset="0.867" stop-color="#737373"/><stop offset="0.933" stop-color="#737373"/><stop offset="1.000" stop-color="#737373"/></linearGradient><rect x="138.59" y="71.65" width="49.12" height="2.64" fill="url(#h44)"/><linearGradient id="h45" gradientUnits="userSpaceOnUse" x1="144.73" y1="0" x2="181.57" y2="0"><stop offset="0.000" stop-color="#404040"/><stop offset="0.067" stop-color="#404040"/><stop offset="0.133" stop-color="#404040"/><stop offset="0.200" stop-color="#595959"/><stop offset="0.267" stop-color="#595959"/><stop offset="0.333" stop-color="#595959"/><stop offset="0.400" stop-color="#737373"/><stop offset="0.467" stop-color="#8c8c8c"/><stop offset="0.533" stop-color="#a6a6a6"/><stop offset="0.600" stop-color="#bfbfbf"/><stop offset="0.667" stop-color="#a6a6a6"/><stop offset="0.733" stop-color="#8c8c8c"/><stop offset="0.800" stop-color="#737373"/><stop offset="0.867" stop-color="#737373"/><stop offset="0.933" stop-color="#737373"/><stop offset="1.000" stop-color="#737373"/></linearGradient><rect x="138.59" y="74.19" width="49.12" height="2.64" fill="url(#h45)"/></g></g><clipPath id="c46"><rect x="190.30" y="46.30" width="39.30" height="25.40"/></clipPath><g clip-path="url(#c46)"><g filter="url(#par)" shape-rendering="crispEdges"><rect x="185.39" y="41.17" width="49.12" height="2.64" fill="#666666"/><rect x="185.39" y="43.71" width="49.12" height="2.64" fill="#666666"/><rect x="185.39" y="46.25" width="49.12" height="2.64" fill="#666666"/><linearGradient id="h47" gradientUnits="userSpaceOnUse" x1="191.53" y1="0" x2="228.37" y2="0"><stop offset="0.000" stop-color="#8c8c8c"/><stop offset="0.067" stop-color="#8c8c8c"/><stop offset="0.133" stop-color="#8c8c8c"/><stop offset="0.200" stop-color="#8c8c8c"/><stop offset="0.267" stop-color="#8c8c8c"/><stop offset="0.333" stop-color="#8c8c8c"/><stop offset="0.400" stop-color="#8c8c8c"/><stop offset="0.467" stop-color="#8c8c8c"/><stop offset="0.533" stop-color="#8c8c8c"/><stop offset="0.600" stop-color="#8c8c8c"/><stop offset="0.667" stop-color="#8c8c8c"/><stop offset="0.733" stop-color="#8c8c8c"/><stop offset="0.800" stop-color="#a6a6a6"/><stop offset="0.867" stop-color="#a6a6a6"/><stop offset="0.933" stop-color="#a6a6a6"/><stop offset="1.000" stop-color="#999999"/></linearGradient><rect x="185.39" y="48.79" width="49.12" height="2.64" fill="url(#h47)"/><linearGradient id="h48" gradientUnits="userSpaceOnUse" x1="191.53" y1="0" x2="228.37" y2="0"><stop offset="0.000" stop-color="#b2b2b2"/><stop offset="0.067" stop-color="#a6a6a6"/><stop offset="0.133" stop-color="#8c8c8c"/><stop offset="0.200" stop-color="#8c8c8c"/><stop offset="0.267" stop-color="#8c8c8c"/><stop offset="0.333" stop-color="#808080"/><stop offset="0.400" stop-color="#666666"/><stop offset="0.467" stop-color="#666666"/><stop offset="0.533" stop-color="#4c4c4c"/><stop offset="0.600" stop-color="#4c4c4c"/><stop offset="0.667" stop-color="#666666"/><stop offset="0.733" stop-color="#666666"/><stop offset="0.800" stop-color="#808080"/><stop offset="0.867" stop-color="#8c8c8c"/><stop offset="0.933" stop-color="#8c8c8c"/><stop offset="1.000" stop-color="#8c8c8c"/></linearGradient><rect x="185.39" y="51.33" width="49.12" height="2.64" fill="url(#h48)"/><linearGradient id="h49" gradientUnits="userSpaceOnUse" x1="191.53" y1="0" x2="228.37" y2="0"><stop offset="0.000" stop-color="#8c8c8c"/><stop offset="0.067" stop-color="#8c8c8c"/><stop offset="0.133" stop-color="#8c8c8c"/><stop offset="0.200" stop-color="#808080"/><stop offset="0.267" stop-color="#666666"/><stop offset="0.333" stop-color="#1a1a1a"/><stop offset="0.400" stop-color="#1a1a1a"/><stop offset="0.467" stop-color="#1a1a1a"/><stop offset="0.533" stop-color="#333333"/><stop offset="0.600" stop-color="#333333"/><stop offset="0.667" stop-color="#333333"/><stop offset="0.733" stop-color="#333333"/><stop offset="0.800" stop-color="#4c4c4c"/><stop offset="0.867" stop-color="#666666"/><stop offset="0.933" stop-color="#8c8c8c"/><stop offset="1.000" stop-color="#8c8c8c"/></linearGradient><rect x="185.39" y="53.87" width="49.12" height="2.64" fill="url(#h49)"/><linearGradient id="h50" gradientUnits="userSpaceOnUse" x1="191.53" y1="0" x2="228.37" y2="0"><stop offset="0.000" stop-color="#8c8c8c"/><stop offset="0.067" stop-color="#8c8c8c"/><stop offset="0.133" stop-color="#8c8c8c"/><stop offset="0.200" stop-color="#666666"/><stop offset="0.267" stop-color="#4c4c4c"/><stop offset="0.333" stop-color="#1a1a1a"/><stop offset="0.400" stop-color="#1a1a1a"/><stop offset="0.467" stop-color="#333333"/><stop offset="0.533" stop-color="#333333"/><stop offset="0.600" stop-color="#333333"/><stop offset="0.667" stop-color="#333333"/><stop offset="0.733" stop-color="#333333"/><stop offset="0.800" stop-color="#333333"/><stop offset="0.867" stop-color="#4c4c4c"/><stop offset="0.933" stop-color="#808080"/><stop offset="1.000" stop-color="#8c8c8c"/></linearGradient><rect x="185.39" y="56.41" width="49.12" height="2.64" fill="url(#h50)"/><linearGradient id="h51" gradientUnits="userSpaceOnUse" x1="191.53" y1="0" x2="228.37" y2="0"><stop offset="0.000" stop-color="#8c8c8c"/><stop offset="0.067" stop-color="#8c8c8c"/><stop offset="0.133" stop-color="#8c8c8c"/><stop offset="0.200" stop-color="#666666"/><stop offset="0.267" stop-color="#4c4c4c"/><stop offset="0.333" stop-color="#333333"/><stop offset="0.400" stop-color="#333333"/><stop offset="0.467" stop-color="#1a1a1a"/><stop offset="0.533" stop-color="#1a1a1a"/><stop offset="0.600" stop-color="#1a1a1a"/><stop offset="0.667" stop-color="#1a1a1a"/><stop offset="0.733" stop-color="#1a1a1a"/><stop offset="0.800" stop-color="#333333"/><stop offset="0.867" stop-color="#4c4c4c"/><stop offset="0.933" stop-color="#808080"/><stop offset="1.000" stop-color="#8c8c8c"/></linearGradient><rect x="185.39" y="58.95" width="49.12" height="2.64" fill="url(#h51)"/><linearGradient id="h52" gradientUnits="userSpaceOnUse" x1="191.53" y1="0" x2="228.37" y2="0"><stop offset="0.000" stop-color="#8c8c8c"/><stop offset="0.067" stop-color="#8c8c8c"/><stop offset="0.133" stop-color="#8c8c8c"/><stop offset="0.200" stop-color="#808080"/><stop offset="0.267" stop-color="#666666"/><stop offset="0.333" stop-color="#4c4c4c"/><stop offset="0.400" stop-color="#333333"/><stop offset="0.467" stop-color="#1a1a1a"/><stop offset="0.533" stop-color="#1a1a1a"/><stop offset="0.600" stop-color="#1a1a1a"/><stop offset="0.667" stop-color="#1a1a1a"/><stop offset="0.733" stop-color="#1a1a1a"/><stop offset="0.800" stop-color="#4c4c4c"/><stop offset="0.867" stop-color="#666666"/><stop offset="0.933" stop-color="#808080"/><stop offset="1.000" stop-color="#8c8c8c"/></linearGradient><rect x="185.39" y="61.49" width="49.12" height="2.64" fill="url(#h52)"/><linearGradient id="h53" gradientUnits="userSpaceOnUse" x1="191.53" y1="0" x2="228.37" y2="0"><stop offset="0.000" stop-color="#8c8c8c"/><stop offset="0.067" stop-color="#8c8c8c"/><stop offset="0.133" stop-color="#8c8c8c"/><stop offset="0.200" stop-color="#8c8c8c"/><stop offset="0.267" stop-color="#b2b2b2"/><stop offset="0.333" stop-color="#999999"/><stop offset="0.400" stop-color="#666666"/><stop offset="0.467" stop-color="#4c4c4c"/><stop offset="0.533" stop-color="#4c4c4c"/><stop offset="0.600" stop-color="#4c4c4c"/><stop offset="0.667" stop-color="#4c4c4c"/><stop offset="0.733" stop-color="#666666"/><stop offset="0.800" stop-color="#808080"/><stop offset="0.867" stop-color="#8c8c8c"/><stop offset="0.933" stop-color="#8c8c8c"/><stop offset="1.000" stop-color="#8c8c8c"/></linearGradient><rect x="185.39" y="64.03" width="49.12" height="2.64" fill="url(#h53)"/><linearGradient id="h54" gradientUnits="userSpaceOnUse" x1="191.53" y1="0" x2="228.37" y2="0"><stop offset="0.000" stop-color="#8c8c8c"/><stop offset="0.067" stop-color="#8c8c8c"/><stop offset="0.133" stop-color="#8c8c8c"/><stop offset="0.200" stop-color="#8c8c8c"/><stop offset="0.267" stop-color="#999999"/><stop offset="0.333" stop-color="#b2b2b2"/><stop offset="0.400" stop-color="#cccccc"/><stop offset="0.467" stop-color="#cccccc"/><stop offset="0.533" stop-color="#b2b2b2"/><stop offset="0.600" stop-color="#999999"/><stop offset="0.667" stop-color="#8c8c8c"/><stop offset="0.733" stop-color="#8c8c8c"/><stop offset="0.800" stop-color="#8c8c8c"/><stop offset="0.867" stop-color="#8c8c8c"/><stop offset="0.933" stop-color="#8c8c8c"/><stop offset="1.000" stop-color="#8c8c8c"/></linearGradient><rect x="185.39" y="66.57" width="49.12" height="2.64" fill="url(#h54)"/><linearGradient id="h55" gradientUnits="userSpaceOnUse" x1="191.53" y1="0" x2="228.37" y2="0"><stop offset="0.000" stop-color="#333333"/><stop offset="0.067" stop-color="#4c4c4c"/><stop offset="0.133" stop-color="#4c4c4c"/><stop offset="0.200" stop-color="#4c4c4c"/><stop offset="0.267" stop-color="#666666"/><stop offset="0.333" stop-color="#666666"/><stop offset="0.400" stop-color="#666666"/><stop offset="0.467" stop-color="#666666"/><stop offset="0.533" stop-color="#666666"/><stop offset="0.600" stop-color="#666666"/><stop offset="0.667" stop-color="#666666"/><stop offset="0.733" stop-color="#666666"/><stop offset="0.800" stop-color="#666666"/><stop offset="0.867" stop-color="#666666"/><stop offset="0.933" stop-color="#4c4c4c"/><stop offset="1.000" stop-color="#4c4c4c"/></linearGradient><rect x="185.39" y="69.11" width="49.12" height="2.64" fill="url(#h55)"/><linearGradient id="h56" gradientUnits="userSpaceOnUse" x1="191.53" y1="0" x2="228.37" y2="0"><stop offset="0.000" stop-color="#333333"/><stop offset="0.067" stop-color="#4c4c4c"/><stop offset="0.133" stop-color="#4c4c4c"/><stop offset="0.200" stop-color="#4c4c4c"/><stop offset="0.267" stop-color="#666666"/><stop offset="0.333" stop-color="#666666"/><stop offset="0.400" stop-color="#666666"/><stop offset="0.467" stop-color="#666666"/><stop offset="0.533" stop-color="#666666"/><stop offset="0.600" stop-color="#666666"/><stop offset="0.667" stop-color="#666666"/><stop offset="0.733" stop-color="#666666"/><stop offset="0.800" stop-color="#666666"/><stop offset="0.867" stop-color="#666666"/><stop offset="0.933" stop-color="#4c4c4c"/><stop offset="1.000" stop-color="#4c4c4c"/></linearGradient><rect x="185.39" y="71.65" width="49.12" height="2.64" fill="url(#h56)"/><linearGradient id="h57" gradientUnits="userSpaceOnUse" x1="191.53" y1="0" x2="228.37" y2="0"><stop offset="0.000" stop-color="#333333"/><stop offset="0.067" stop-color="#4c4c4c"/><stop offset="0.133" stop-color="#4c4c4c"/><stop offset="0.200" stop-color="#4c4c4c"/><stop offset="0.267" stop-color="#666666"/><stop offset="0.333" stop-color="#666666"/><stop offset="0.400" stop-color="#666666"/><stop offset="0.467" stop-color="#666666"/><stop offset="0.533" stop-color="#666666"/><stop offset="0.600" stop-color="#666666"/><stop offset="0.667" stop-color="#666666"/><stop offset="0.733" stop-color="#666666"/><stop offset="0.800" stop-color="#666666"/><stop offset="0.867" stop-color="#666666"/><stop offset="0.933" stop-color="#4c4c4c"/><stop offset="1.000" stop-color="#4c4c4c"/></linearGradient><rect x="185.39" y="74.19" width="49.12" height="2.64" fill="url(#h57)"/></g></g><clipPath id="c58"><rect x="270.80" y="14.50" width="39.30" height="25.60"/></clipPath><g clip-path="url(#c58)"><g filter="url(#par)" shape-rendering="crispEdges"><rect x="192.20" y="11.89" width="196.50" height="1.38" fill="#1a1a1a"/><rect x="192.20" y="13.17" width="196.50" height="1.38" fill="#1a1a1a"/><rect x="192.20" y="14.45" width="196.50" height="1.38" fill="#1a1a1a"/><rect x="192.20" y="15.73" width="196.50" height="1.38" fill="#0d0d0d"/><rect x="192.20" y="17.01" width="196.50" height="1.38" fill="#0d0d0d"/><rect x="192.20" y="18.29" width="196.50" height="1.38" fill="#0d0d0d"/><rect x="192.20" y="19.57" width="196.50" height="1.38" fill="#0d0d0d"/><rect x="192.20" y="20.85" width="196.50" height="1.38" fill="#0d0d0d"/><rect x="192.20" y="22.13" width="196.50" height="1.38" fill="#0d0d0d"/><rect x="192.20" y="23.41" width="196.50" height="1.38" fill="#0d0d0d"/><rect x="192.20" y="24.69" width="196.50" height="1.38" fill="#0d0d0d"/><rect x="192.20" y="25.97" width="196.50" height="1.38" fill="#0d0d0d"/><rect x="192.20" y="27.25" width="196.50" height="1.38" fill="#0d0d0d"/><rect x="192.20" y="28.53" width="196.50" height="1.38" fill="#0d0d0d"/><rect x="192.20" y="29.81" width="196.50" height="1.38" fill="#0d0d0d"/><rect x="192.20" y="31.09" width="196.50" height="1.38" fill="#0d0d0d"/><rect x="192.20" y="32.37" width="196.50" height="1.38" fill="#0d0d0d"/><rect x="192.20" y="33.65" width="196.50" height="1.38" fill="#0d0d0d"/><rect x="192.20" y="34.93" width="196.50" height="1.38" fill="#0d0d0d"/><rect x="192.20" y="36.21" width="196.50" height="1.38" fill="#0d0d0d"/><rect x="192.20" y="37.49" width="196.50" height="1.38" fill="#0d0d0d"/><rect x="192.20" y="38.77" width="196.50" height="1.38" fill="#000000"/><rect x="192.20" y="40.05" width="196.50" height="1.38" fill="#000000"/><rect x="192.20" y="41.33" width="196.50" height="1.38" fill="#000000"/><radialGradient id="rg59"><stop offset="0.000" stop-color="#ffffff"/><stop offset="0.250" stop-color="#fcfcfc"/><stop offset="0.330" stop-color="#f2f2f2"/><stop offset="0.420" stop-color="#cccccc"/><stop offset="0.540" stop-color="#999999"/><stop offset="0.670" stop-color="#666666"/><stop offset="0.790" stop-color="#333333"/><stop offset="0.920" stop-color="#111111"/><stop offset="1.000" stop-color="#0c0c0c"/></radialGradient><ellipse cx="292.60" cy="27.70" rx="12.00" ry="13.50" fill="url(#rg59)"/></g></g><clipPath id="c60"><rect x="270.80" y="46.30" width="39.30" height="25.40"/></clipPath><g clip-path="url(#c60)"><g filter="url(#par)" shape-rendering="crispEdges"><rect x="192.20" y="43.71" width="196.50" height="1.37" fill="#1a1a1a"/><rect x="192.20" y="44.98" width="196.50" height="1.37" fill="#1a1a1a"/><rect x="192.20" y="46.25" width="196.50" height="1.37" fill="#1a1a1a"/><rect x="192.20" y="47.52" width="196.50" height="1.37" fill="#0d0d0d"/><rect x="192.20" y="48.79" width="196.50" height="1.37" fill="#0d0d0d"/><rect x="192.20" y="50.06" width="196.50" height="1.37" fill="#0d0d0d"/><rect x="192.20" y="51.33" width="196.50" height="1.37" fill="#0d0d0d"/><rect x="192.20" y="52.60" width="196.50" height="1.37" fill="#0d0d0d"/><rect x="192.20" y="53.87" width="196.50" height="1.37" fill="#0d0d0d"/><rect x="192.20" y="55.14" width="196.50" height="1.37" fill="#0d0d0d"/><rect x="192.20" y="56.41" width="196.50" height="1.37" fill="#0d0d0d"/><rect x="192.20" y="57.68" width="196.50" height="1.37" fill="#0d0d0d"/><rect x="192.20" y="58.95" width="196.50" height="1.37" fill="#0d0d0d"/><rect x="192.20" y="60.22" width="196.50" height="1.37" fill="#0d0d0d"/><rect x="192.20" y="61.49" width="196.50" height="1.37" fill="#0d0d0d"/><rect x="192.20" y="62.76" width="196.50" height="1.37" fill="#0d0d0d"/><rect x="192.20" y="64.03" width="196.50" height="1.37" fill="#0d0d0d"/><rect x="192.20" y="65.30" width="196.50" height="1.37" fill="#0d0d0d"/><rect x="192.20" y="66.57" width="196.50" height="1.37" fill="#0d0d0d"/><rect x="192.20" y="67.84" width="196.50" height="1.37" fill="#0d0d0d"/><rect x="192.20" y="69.11" width="196.50" height="1.37" fill="#0d0d0d"/><rect x="192.20" y="70.38" width="196.50" height="1.37" fill="#000000"/><rect x="192.20" y="71.65" width="196.50" height="1.37" fill="#000000"/><rect x="192.20" y="72.92" width="196.50" height="1.37" fill="#000000"/><radialGradient id="rg61"><stop offset="0.000" stop-color="#ffffff"/><stop offset="0.170" stop-color="#fcfcfc"/><stop offset="0.250" stop-color="#f2f2f2"/><stop offset="0.460" stop-color="#cccccc"/><stop offset="0.570" stop-color="#999999"/><stop offset="0.670" stop-color="#666666"/><stop offset="0.790" stop-color="#333333"/><stop offset="0.920" stop-color="#111111"/><stop offset="1.000" stop-color="#0c0c0c"/></radialGradient><ellipse cx="292.60" cy="59.50" rx="12.00" ry="12.90" fill="url(#rg61)"/></g></g><text x="142.60" y="16.07" font-size="2.70" text-anchor="end" dominant-baseline="central" fill="#222" >Dist</text><text x="142.60" y="39.38" font-size="2.70" text-anchor="end" dominant-baseline="central" fill="#222" >Prox</text><text x="270.00" y="16.07" font-size="2.70" text-anchor="end" dominant-baseline="central" fill="#222" >Prox</text><text x="270.00" y="39.38" font-size="2.70" text-anchor="end" dominant-baseline="central" fill="#222" >Dist</text><text x="142.60" y="47.87" font-size="2.70" text-anchor="end" dominant-baseline="central" fill="#222" >Dist</text><text x="142.60" y="70.97" font-size="2.70" text-anchor="end" dominant-baseline="central" fill="#222" >Prox</text><text x="270.00" y="47.87" font-size="2.70" text-anchor="end" dominant-baseline="central" fill="#222" >Prox</text><text x="270.00" y="70.97" font-size="2.70" text-anchor="end" dominant-baseline="central" fill="#222" >Dist</text><text x="143.50" y="75.38" font-size="2.70" text-anchor="middle" dominant-baseline="central" fill="#333" >Post</text><text x="153.32" y="75.38" font-size="2.70" text-anchor="middle" dominant-baseline="central" fill="#333" >Left</text><text x="163.15" y="75.38" font-size="2.70" text-anchor="middle" dominant-baseline="central" fill="#333" >Ant</text><text x="172.97" y="75.38" font-size="2.70" text-anchor="middle" dominant-baseline="central" fill="#333" >Right</text><text x="182.80" y="75.38" font-size="2.70" text-anchor="middle" dominant-baseline="central" fill="#333" >Post</text><text x="190.30" y="75.38" font-size="2.70" text-anchor="middle" dominant-baseline="central" fill="#333" >Post</text><text x="200.12" y="75.38" font-size="2.70" text-anchor="middle" dominant-baseline="central" fill="#333" >Left</text><text x="209.95" y="75.38" font-size="2.70" text-anchor="middle" dominant-baseline="central" fill="#333" >Ant</text><text x="219.78" y="75.38" font-size="2.70" text-anchor="middle" dominant-baseline="central" fill="#333" >Right</text><text x="229.60" y="75.38" font-size="2.70" text-anchor="middle" dominant-baseline="central" fill="#333" >Post</text><text x="270.80" y="75.38" font-size="2.70" text-anchor="middle" dominant-baseline="central" fill="#333" >Post</text><text x="280.62" y="75.38" font-size="2.70" text-anchor="middle" dominant-baseline="central" fill="#333" >Left</text><text x="290.45" y="75.38" font-size="2.70" text-anchor="middle" dominant-baseline="central" fill="#333" >Ant</text><text x="300.28" y="75.38" font-size="2.70" text-anchor="middle" dominant-baseline="central" fill="#333" >Right</text><text x="310.10" y="75.38" font-size="2.70" text-anchor="middle" dominant-baseline="central" fill="#333" >Post</text><text x="136.25" y="43.10" font-size="5.00" text-anchor="middle" dominant-baseline="central" fill="#9c9c9c" transform="rotate(-90 136.25 43.10)" >Longitudinal direction</text><text x="263.15" y="43.10" font-size="5.00" text-anchor="middle" dominant-baseline="central" fill="#9c9c9c" transform="rotate(-90 263.15 43.10)" >Longitudinal direction</text><text x="193.00" y="84.20" font-size="4.80" text-anchor="middle" dominant-baseline="central" fill="#999" >Circumferential direction</text><text x="294.50" y="84.20" font-size="4.80" text-anchor="middle" dominant-baseline="central" fill="#999" >Circumferential direction</text><linearGradient id="g62" x1="0" y1="0" x2="0" y2="1"><stop offset="0.000" stop-color="#f5f223"/><stop offset="0.062" stop-color="#f6e327"/><stop offset="0.125" stop-color="#f7cc2c"/><stop offset="0.188" stop-color="#f4b831"/><stop offset="0.250" stop-color="#d3be34"/><stop offset="0.312" stop-color="#acc73b"/><stop offset="0.375" stop-color="#87c44e"/><stop offset="0.438" stop-color="#5cbe71"/><stop offset="0.500" stop-color="#2fb69f"/><stop offset="0.562" stop-color="#1db2bf"/><stop offset="0.625" stop-color="#14aad5"/><stop offset="0.688" stop-color="#149edc"/><stop offset="0.750" stop-color="#218edb"/><stop offset="0.812" stop-color="#317ed4"/><stop offset="0.875" stop-color="#436cc8"/><stop offset="0.938" stop-color="#4d56b0"/><stop offset="1.000" stop-color="#2d2d96"/></linearGradient><rect x="241.20" y="12.90" width="2.30" height="63.90" fill="url(#g62)" stroke="#666" stroke-width="0.15"/><text x="239.60" y="22.90" font-size="4.00" text-anchor="end" dominant-baseline="central" fill="#383838" >200</text><text x="239.60" y="36.60" font-size="4.00" text-anchor="end" dominant-baseline="central" fill="#383838" >150</text><text x="239.60" y="50.35" font-size="4.00" text-anchor="end" dominant-baseline="central" fill="#383838" >100</text><text x="239.60" y="64.10" font-size="4.00" text-anchor="end" dominant-baseline="central" fill="#383838" >50</text><text x="239.60" y="77.80" font-size="4.00" text-anchor="end" dominant-baseline="central" fill="#383838" >0</text><text x="246.82" y="44.50" font-size="3.30" text-anchor="middle" dominant-baseline="central" fill="#444" transform="rotate(-90 246.82 44.50)" >kPa</text><linearGradient id="g63" x1="0" y1="0" x2="0" y2="1"><stop offset="0.000" stop-color="#f5f223"/><stop offset="0.062" stop-color="#f6e327"/><stop offset="0.125" stop-color="#f7cc2c"/><stop offset="0.188" stop-color="#f4b831"/><stop offset="0.250" stop-color="#d3be34"/><stop offset="0.312" stop-color="#acc73b"/><stop offset="0.375" stop-color="#87c44e"/><stop offset="0.438" stop-color="#5cbe71"/><stop offset="0.500" stop-color="#2fb69f"/><stop offset="0.562" stop-color="#1db2bf"/><stop offset="0.625" stop-color="#14aad5"/><stop offset="0.688" stop-color="#149edc"/><stop offset="0.750" stop-color="#218edb"/><stop offset="0.812" stop-color="#317ed4"/><stop offset="0.875" stop-color="#436cc8"/><stop offset="0.938" stop-color="#4d56b0"/><stop offset="1.000" stop-color="#2d2d96"/></linearGradient><rect x="319.60" y="13.00" width="2.30" height="63.60" fill="url(#g63)" stroke="#666" stroke-width="0.15"/><text x="318.20" y="17.20" font-size="4.00" text-anchor="end" dominant-baseline="central" fill="#383838" >30</text><text x="318.20" y="27.30" font-size="4.00" text-anchor="end" dominant-baseline="central" fill="#383838" >25</text><text x="318.20" y="37.50" font-size="4.00" text-anchor="end" dominant-baseline="central" fill="#383838" >20</text><text x="318.20" y="47.60" font-size="4.00" text-anchor="end" dominant-baseline="central" fill="#383838" >15</text><text x="318.20" y="57.70" font-size="4.00" text-anchor="end" dominant-baseline="central" fill="#383838" >10</text><text x="318.20" y="67.90" font-size="4.00" text-anchor="end" dominant-baseline="central" fill="#383838" >5</text><text x="318.20" y="78.00" font-size="4.00" text-anchor="end" dominant-baseline="central" fill="#383838" >0</text><text x="325.22" y="44.80" font-size="3.30" text-anchor="middle" dominant-baseline="central" fill="#444" transform="rotate(-90 325.22 44.80)" >mm</text><rect x="127" y="91.40" width="122.2" height="78.30" rx="3.5" fill="#fff" stroke="#d6d6d6" stroke-width="0.9"/><rect x="126.0" y="91.50" width="6.7" height="78.10" rx="3.3" fill="#919195" stroke="#828286" stroke-width="0.4"/><text x="129.20" y="130.55" font-size="4.40" text-anchor="middle" dominant-baseline="central" fill="#ffffff" transform="rotate(-90 129.20 130.55)" font-weight="bold" letter-spacing="0.3">Strain</text><rect x="253" y="91.40" width="74.9" height="78.30" rx="3.5" fill="#fff" stroke="#d6d6d6" stroke-width="0.9"/><rect x="251.9" y="91.50" width="6.7" height="78.10" rx="3.3" fill="#919195" stroke="#828286" stroke-width="0.4"/><text x="255.20" y="130.55" font-size="4.40" text-anchor="middle" dominant-baseline="central" fill="#ffffff" transform="rotate(-90 255.20 130.55)" font-weight="bold" letter-spacing="0.3">Wall strength</text><text x="121.65" y="111.20" font-size="5.00" text-anchor="middle" dominant-baseline="central" fill="#555" transform="rotate(-90 121.65 111.20)" >US</text><text x="121.65" y="144.60" font-size="5.00" text-anchor="middle" dominant-baseline="central" fill="#555" transform="rotate(-90 121.65 144.60)" >CT</text><clipPath id="c64"><rect x="143.50" y="96.10" width="39.30" height="25.60"/></clipPath><g clip-path="url(#c64)"><g filter="url(#par)" shape-rendering="crispEdges"><linearGradient id="h65" gradientUnits="userSpaceOnUse" x1="144.73" y1="0" x2="181.57" y2="0"><stop offset="0.000" stop-color="#808080"/><stop offset="0.067" stop-color="#808080"/><stop offset="0.133" stop-color="#808080"/><stop offset="0.200" stop-color="#808080"/><stop offset="0.267" stop-color="#808080"/><stop offset="0.333" stop-color="#999999"/><stop offset="0.400" stop-color="#999999"/><stop offset="0.467" stop-color="#999999"/><stop offset="0.533" stop-color="#999999"/><stop offset="0.600" stop-color="#999999"/><stop offset="0.667" stop-color="#999999"/><stop offset="0.733" stop-color="#808080"/><stop offset="0.800" stop-color="#808080"/><stop offset="0.867" stop-color="#808080"/><stop offset="0.933" stop-color="#808080"/><stop offset="1.000" stop-color="#808080"/></linearGradient><rect x="138.59" y="90.93" width="49.12" height="2.66" fill="url(#h65)"/><linearGradient id="h66" gradientUnits="userSpaceOnUse" x1="144.73" y1="0" x2="181.57" y2="0"><stop offset="0.000" stop-color="#808080"/><stop offset="0.067" stop-color="#808080"/><stop offset="0.133" stop-color="#808080"/><stop offset="0.200" stop-color="#808080"/><stop offset="0.267" stop-color="#808080"/><stop offset="0.333" stop-color="#999999"/><stop offset="0.400" stop-color="#999999"/><stop offset="0.467" stop-color="#999999"/><stop offset="0.533" stop-color="#999999"/><stop offset="0.600" stop-color="#999999"/><stop offset="0.667" stop-color="#999999"/><stop offset="0.733" stop-color="#808080"/><stop offset="0.800" stop-color="#808080"/><stop offset="0.867" stop-color="#808080"/><stop offset="0.933" stop-color="#808080"/><stop offset="1.000" stop-color="#808080"/></linearGradient><rect x="138.59" y="93.49" width="49.12" height="2.66" fill="url(#h66)"/><linearGradient id="h67" gradientUnits="userSpaceOnUse" x1="144.73" y1="0" x2="181.57" y2="0"><stop offset="0.000" stop-color="#808080"/><stop offset="0.067" stop-color="#808080"/><stop offset="0.133" stop-color="#808080"/><stop offset="0.200" stop-color="#808080"/><stop offset="0.267" stop-color="#808080"/><stop offset="0.333" stop-color="#999999"/><stop offset="0.400" stop-color="#999999"/><stop offset="0.467" stop-color="#999999"/><stop offset="0.533" stop-color="#999999"/><stop offset="0.600" stop-color="#999999"/><stop offset="0.667" stop-color="#999999"/><stop offset="0.733" stop-color="#808080"/><stop offset="0.800" stop-color="#808080"/><stop offset="0.867" stop-color="#808080"/><stop offset="0.933" stop-color="#808080"/><stop offset="1.000" stop-color="#808080"/></linearGradient><rect x="138.59" y="96.05" width="49.12" height="2.66" fill="url(#h67)"/><linearGradient id="h68" gradientUnits="userSpaceOnUse" x1="144.73" y1="0" x2="181.57" y2="0"><stop offset="0.000" stop-color="#e6e6e6"/><stop offset="0.067" stop-color="#e6e6e6"/><stop offset="0.133" stop-color="#e6e6e6"/><stop offset="0.200" stop-color="#cccccc"/><stop offset="0.267" stop-color="#b2b2b2"/><stop offset="0.333" stop-color="#b2b2b2"/><stop offset="0.400" stop-color="#b2b2b2"/><stop offset="0.467" stop-color="#b2b2b2"/><stop offset="0.533" stop-color="#cccccc"/><stop offset="0.600" stop-color="#cccccc"/><stop offset="0.667" stop-color="#cccccc"/><stop offset="0.733" stop-color="#cccccc"/><stop offset="0.800" stop-color="#b2b2b2"/><stop offset="0.867" stop-color="#999999"/><stop offset="0.933" stop-color="#b2b2b2"/><stop offset="1.000" stop-color="#cccccc"/></linearGradient><rect x="138.59" y="98.61" width="49.12" height="2.66" fill="url(#h68)"/><linearGradient id="h69" gradientUnits="userSpaceOnUse" x1="144.73" y1="0" x2="181.57" y2="0"><stop offset="0.000" stop-color="#cccccc"/><stop offset="0.067" stop-color="#cccccc"/><stop offset="0.133" stop-color="#b2b2b2"/><stop offset="0.200" stop-color="#999999"/><stop offset="0.267" stop-color="#808080"/><stop offset="0.333" stop-color="#666666"/><stop offset="0.400" stop-color="#666666"/><stop offset="0.467" stop-color="#666666"/><stop offset="0.533" stop-color="#666666"/><stop offset="0.600" stop-color="#666666"/><stop offset="0.667" stop-color="#666666"/><stop offset="0.733" stop-color="#666666"/><stop offset="0.800" stop-color="#808080"/><stop offset="0.867" stop-color="#999999"/><stop offset="0.933" stop-color="#b2b2b2"/><stop offset="1.000" stop-color="#cccccc"/></linearGradient><rect x="138.59" y="101.17" width="49.12" height="2.66" fill="url(#h69)"/><linearGradient id="h70" gradientUnits="userSpaceOnUse" x1="144.73" y1="0" x2="181.57" y2="0"><stop offset="0.000" stop-color="#999999"/><stop offset="0.067" stop-color="#999999"/><stop offset="0.133" stop-color="#808080"/><stop offset="0.200" stop-color="#666666"/><stop offset="0.267" stop-color="#808080"/><stop offset="0.333" stop-color="#b2b2b2"/><stop offset="0.400" stop-color="#999999"/><stop offset="0.467" stop-color="#666666"/><stop offset="0.533" stop-color="#4c4c4c"/><stop offset="0.600" stop-color="#4c4c4c"/><stop offset="0.667" stop-color="#4c4c4c"/><stop offset="0.733" stop-color="#4c4c4c"/><stop offset="0.800" stop-color="#4c4c4c"/><stop offset="0.867" stop-color="#666666"/><stop offset="0.933" stop-color="#808080"/><stop offset="1.000" stop-color="#999999"/></linearGradient><rect x="138.59" y="103.73" width="49.12" height="2.66" fill="url(#h70)"/><linearGradient id="h71" gradientUnits="userSpaceOnUse" x1="144.73" y1="0" x2="181.57" y2="0"><stop offset="0.000" stop-color="#999999"/><stop offset="0.067" stop-color="#808080"/><stop offset="0.133" stop-color="#666666"/><stop offset="0.200" stop-color="#666666"/><stop offset="0.267" stop-color="#4c4c4c"/><stop offset="0.333" stop-color="#4c4c4c"/><stop offset="0.400" stop-color="#4c4c4c"/><stop offset="0.467" stop-color="#4c4c4c"/><stop offset="0.533" stop-color="#666666"/><stop offset="0.600" stop-color="#4c4c4c"/><stop offset="0.667" stop-color="#4c4c4c"/><stop offset="0.733" stop-color="#4c4c4c"/><stop offset="0.800" stop-color="#4c4c4c"/><stop offset="0.867" stop-color="#666666"/><stop offset="0.933" stop-color="#808080"/><stop offset="1.000" stop-color="#999999"/></linearGradient><rect x="138.59" y="106.29" width="49.12" height="2.66" fill="url(#h71)"/><linearGradient id="h72" gradientUnits="userSpaceOnUse" x1="144.73" y1="0" x2="181.57" y2="0"><stop offset="0.000" stop-color="#cccccc"/><stop offset="0.067" stop-color="#cccccc"/><stop offset="0.133" stop-color="#b2b2b2"/><stop offset="0.200" stop-color="#808080"/><stop offset="0.267" stop-color="#666666"/><stop offset="0.333" stop-color="#4c4c4c"/><stop offset="0.400" stop-color="#333333"/><stop offset="0.467" stop-color="#4c4c4c"/><stop offset="0.533" stop-color="#666666"/><stop offset="0.600" stop-color="#4c4c4c"/><stop offset="0.667" stop-color="#4c4c4c"/><stop offset="0.733" stop-color="#4c4c4c"/><stop offset="0.800" stop-color="#666666"/><stop offset="0.867" stop-color="#808080"/><stop offset="0.933" stop-color="#999999"/><stop offset="1.000" stop-color="#cccccc"/></linearGradient><rect x="138.59" y="108.85" width="49.12" height="2.66" fill="url(#h72)"/><linearGradient id="h73" gradientUnits="userSpaceOnUse" x1="144.73" y1="0" x2="181.57" y2="0"><stop offset="0.000" stop-color="#b2b2b2"/><stop offset="0.067" stop-color="#cccccc"/><stop offset="0.133" stop-color="#cccccc"/><stop offset="0.200" stop-color="#cccccc"/><stop offset="0.267" stop-color="#cccccc"/><stop offset="0.333" stop-color="#b2b2b2"/><stop offset="0.400" stop-color="#808080"/><stop offset="0.467" stop-color="#666666"/><stop offset="0.533" stop-color="#666666"/><stop offset="0.600" stop-color="#666666"/><stop offset="0.667" stop-color="#666666"/><stop offset="0.733" stop-color="#808080"/><stop offset="0.800" stop-color="#808080"/><stop offset="0.867" stop-color="#999999"/><stop offset="0.933" stop-color="#999999"/><stop offset="1.000" stop-color="#b2b2b2"/></linearGradient><rect x="138.59" y="111.41" width="49.12" height="2.66" fill="url(#h73)"/><linearGradient id="h74" gradientUnits="userSpaceOnUse" x1="144.73" y1="0" x2="181.57" y2="0"><stop offset="0.000" stop-color="#999999"/><stop offset="0.067" stop-color="#999999"/><stop offset="0.133" stop-color="#b2b2b2"/><stop offset="0.200" stop-color="#e6e6e6"/><stop offset="0.267" stop-color="#e6e6e6"/><stop offset="0.333" stop-color="#e6e6e6"/><stop offset="0.400" stop-color="#cccccc"/><stop offset="0.467" stop-color="#999999"/><stop offset="0.533" stop-color="#999999"/><stop offset="0.600" stop-color="#b2b2b2"/><stop offset="0.667" stop-color="#cccccc"/><stop offset="0.733" stop-color="#cccccc"/><stop offset="0.800" stop-color="#cccccc"/><stop offset="0.867" stop-color="#cccccc"/><stop offset="0.933" stop-color="#cccccc"/><stop offset="1.000" stop-color="#b2b2b2"/></linearGradient><rect x="138.59" y="113.97" width="49.12" height="2.66" fill="url(#h74)"/><linearGradient id="h75" gradientUnits="userSpaceOnUse" x1="144.73" y1="0" x2="181.57" y2="0"><stop offset="0.000" stop-color="#808080"/><stop offset="0.067" stop-color="#808080"/><stop offset="0.133" stop-color="#808080"/><stop offset="0.200" stop-color="#808080"/><stop offset="0.267" stop-color="#999999"/><stop offset="0.333" stop-color="#999999"/><stop offset="0.400" stop-color="#999999"/><stop offset="0.467" stop-color="#999999"/><stop offset="0.533" stop-color="#999999"/><stop offset="0.600" stop-color="#999999"/><stop offset="0.667" stop-color="#999999"/><stop offset="0.733" stop-color="#b2b2b2"/><stop offset="0.800" stop-color="#b2b2b2"/><stop offset="0.867" stop-color="#999999"/><stop offset="0.933" stop-color="#999999"/><stop offset="1.000" stop-color="#808080"/></linearGradient><rect x="138.59" y="116.53" width="49.12" height="2.66" fill="url(#h75)"/><linearGradient id="h76" gradientUnits="userSpaceOnUse" x1="144.73" y1="0" x2="181.57" y2="0"><stop offset="0.000" stop-color="#333333"/><stop offset="0.067" stop-color="#333333"/><stop offset="0.133" stop-color="#4c4c4c"/><stop offset="0.200" stop-color="#4c4c4c"/><stop offset="0.267" stop-color="#4c4c4c"/><stop offset="0.333" stop-color="#666666"/><stop offset="0.400" stop-color="#666666"/><stop offset="0.467" stop-color="#666666"/><stop offset="0.533" stop-color="#4c4c4c"/><stop offset="0.600" stop-color="#4c4c4c"/><stop offset="0.667" stop-color="#4c4c4c"/><stop offset="0.733" stop-color="#4c4c4c"/><stop offset="0.800" stop-color="#4c4c4c"/><stop offset="0.867" stop-color="#4c4c4c"/><stop offset="0.933" stop-color="#4c4c4c"/><stop offset="1.000" stop-color="#4c4c4c"/></linearGradient><rect x="138.59" y="119.09" width="49.12" height="2.66" fill="url(#h76)"/><linearGradient id="h77" gradientUnits="userSpaceOnUse" x1="144.73" y1="0" x2="181.57" y2="0"><stop offset="0.000" stop-color="#333333"/><stop offset="0.067" stop-color="#333333"/><stop offset="0.133" stop-color="#4c4c4c"/><stop offset="0.200" stop-color="#4c4c4c"/><stop offset="0.267" stop-color="#4c4c4c"/><stop offset="0.333" stop-color="#666666"/><stop offset="0.400" stop-color="#666666"/><stop offset="0.467" stop-color="#666666"/><stop offset="0.533" stop-color="#4c4c4c"/><stop offset="0.600" stop-color="#4c4c4c"/><stop offset="0.667" stop-color="#4c4c4c"/><stop offset="0.733" stop-color="#4c4c4c"/><stop offset="0.800" stop-color="#4c4c4c"/><stop offset="0.867" stop-color="#4c4c4c"/><stop offset="0.933" stop-color="#4c4c4c"/><stop offset="1.000" stop-color="#4c4c4c"/></linearGradient><rect x="138.59" y="121.65" width="49.12" height="2.66" fill="url(#h77)"/><linearGradient id="h78" gradientUnits="userSpaceOnUse" x1="144.73" y1="0" x2="181.57" y2="0"><stop offset="0.000" stop-color="#333333"/><stop offset="0.067" stop-color="#333333"/><stop offset="0.133" stop-color="#4c4c4c"/><stop offset="0.200" stop-color="#4c4c4c"/><stop offset="0.267" stop-color="#4c4c4c"/><stop offset="0.333" stop-color="#666666"/><stop offset="0.400" stop-color="#666666"/><stop offset="0.467" stop-color="#666666"/><stop offset="0.533" stop-color="#4c4c4c"/><stop offset="0.600" stop-color="#4c4c4c"/><stop offset="0.667" stop-color="#4c4c4c"/><stop offset="0.733" stop-color="#4c4c4c"/><stop offset="0.800" stop-color="#4c4c4c"/><stop offset="0.867" stop-color="#4c4c4c"/><stop offset="0.933" stop-color="#4c4c4c"/><stop offset="1.000" stop-color="#4c4c4c"/></linearGradient><rect x="138.59" y="124.21" width="49.12" height="2.66" fill="url(#h78)"/></g></g><clipPath id="c79"><rect x="190.30" y="96.10" width="39.30" height="25.60"/></clipPath><g clip-path="url(#c79)"><g filter="url(#par)" shape-rendering="crispEdges"><linearGradient id="h80" gradientUnits="userSpaceOnUse" x1="191.53" y1="0" x2="228.37" y2="0"><stop offset="0.000" stop-color="#808080"/><stop offset="0.067" stop-color="#666666"/><stop offset="0.133" stop-color="#333333"/><stop offset="0.200" stop-color="#333333"/><stop offset="0.267" stop-color="#4c4c4c"/><stop offset="0.333" stop-color="#666666"/><stop offset="0.400" stop-color="#808080"/><stop offset="0.467" stop-color="#808080"/><stop offset="0.533" stop-color="#808080"/><stop offset="0.600" stop-color="#808080"/><stop offset="0.667" stop-color="#808080"/><stop offset="0.733" stop-color="#808080"/><stop offset="0.800" stop-color="#808080"/><stop offset="0.867" stop-color="#808080"/><stop offset="0.933" stop-color="#808080"/><stop offset="1.000" stop-color="#808080"/></linearGradient><rect x="185.39" y="90.93" width="49.12" height="2.66" fill="url(#h80)"/><linearGradient id="h81" gradientUnits="userSpaceOnUse" x1="191.53" y1="0" x2="228.37" y2="0"><stop offset="0.000" stop-color="#808080"/><stop offset="0.067" stop-color="#666666"/><stop offset="0.133" stop-color="#333333"/><stop offset="0.200" stop-color="#333333"/><stop offset="0.267" stop-color="#4c4c4c"/><stop offset="0.333" stop-color="#666666"/><stop offset="0.400" stop-color="#808080"/><stop offset="0.467" stop-color="#808080"/><stop offset="0.533" stop-color="#808080"/><stop offset="0.600" stop-color="#808080"/><stop offset="0.667" stop-color="#808080"/><stop offset="0.733" stop-color="#808080"/><stop offset="0.800" stop-color="#808080"/><stop offset="0.867" stop-color="#808080"/><stop offset="0.933" stop-color="#808080"/><stop offset="1.000" stop-color="#808080"/></linearGradient><rect x="185.39" y="93.49" width="49.12" height="2.66" fill="url(#h81)"/><linearGradient id="h82" gradientUnits="userSpaceOnUse" x1="191.53" y1="0" x2="228.37" y2="0"><stop offset="0.000" stop-color="#808080"/><stop offset="0.067" stop-color="#666666"/><stop offset="0.133" stop-color="#333333"/><stop offset="0.200" stop-color="#333333"/><stop offset="0.267" stop-color="#4c4c4c"/><stop offset="0.333" stop-color="#666666"/><stop offset="0.400" stop-color="#808080"/><stop offset="0.467" stop-color="#808080"/><stop offset="0.533" stop-color="#808080"/><stop offset="0.600" stop-color="#808080"/><stop offset="0.667" stop-color="#808080"/><stop offset="0.733" stop-color="#808080"/><stop offset="0.800" stop-color="#808080"/><stop offset="0.867" stop-color="#808080"/><stop offset="0.933" stop-color="#808080"/><stop offset="1.000" stop-color="#808080"/></linearGradient><rect x="185.39" y="96.05" width="49.12" height="2.66" fill="url(#h82)"/><linearGradient id="h83" gradientUnits="userSpaceOnUse" x1="191.53" y1="0" x2="228.37" y2="0"><stop offset="0.000" stop-color="#cccccc"/><stop offset="0.067" stop-color="#cccccc"/><stop offset="0.133" stop-color="#808080"/><stop offset="0.200" stop-color="#808080"/><stop offset="0.267" stop-color="#808080"/><stop offset="0.333" stop-color="#808080"/><stop offset="0.400" stop-color="#666666"/><stop offset="0.467" stop-color="#666666"/><stop offset="0.533" stop-color="#666666"/><stop offset="0.600" stop-color="#666666"/><stop offset="0.667" stop-color="#666666"/><stop offset="0.733" stop-color="#808080"/><stop offset="0.800" stop-color="#808080"/><stop offset="0.867" stop-color="#999999"/><stop offset="0.933" stop-color="#b2b2b2"/><stop offset="1.000" stop-color="#cccccc"/></linearGradient><rect x="185.39" y="98.61" width="49.12" height="2.66" fill="url(#h83)"/><linearGradient id="h84" gradientUnits="userSpaceOnUse" x1="191.53" y1="0" x2="228.37" y2="0"><stop offset="0.000" stop-color="#b2b2b2"/><stop offset="0.067" stop-color="#999999"/><stop offset="0.133" stop-color="#666666"/><stop offset="0.200" stop-color="#666666"/><stop offset="0.267" stop-color="#4c4c4c"/><stop offset="0.333" stop-color="#333333"/><stop offset="0.400" stop-color="#1a1a1a"/><stop offset="0.467" stop-color="#1a1a1a"/><stop offset="0.533" stop-color="#1a1a1a"/><stop offset="0.600" stop-color="#1a1a1a"/><stop offset="0.667" stop-color="#1a1a1a"/><stop offset="0.733" stop-color="#1a1a1a"/><stop offset="0.800" stop-color="#333333"/><stop offset="0.867" stop-color="#4c4c4c"/><stop offset="0.933" stop-color="#666666"/><stop offset="1.000" stop-color="#808080"/></linearGradient><rect x="185.39" y="101.17" width="49.12" height="2.66" fill="url(#h84)"/><linearGradient id="h85" gradientUnits="userSpaceOnUse" x1="191.53" y1="0" x2="228.37" y2="0"><stop offset="0.000" stop-color="#808080"/><stop offset="0.067" stop-color="#666666"/><stop offset="0.133" stop-color="#666666"/><stop offset="0.200" stop-color="#4c4c4c"/><stop offset="0.267" stop-color="#1a1a1a"/><stop offset="0.333" stop-color="#1a1a1a"/><stop offset="0.400" stop-color="#1a1a1a"/><stop offset="0.467" stop-color="#1a1a1a"/><stop offset="0.533" stop-color="#1a1a1a"/><stop offset="0.600" stop-color="#1a1a1a"/><stop offset="0.667" stop-color="#1a1a1a"/><stop offset="0.733" stop-color="#1a1a1a"/><stop offset="0.800" stop-color="#1a1a1a"/><stop offset="0.867" stop-color="#1a1a1a"/><stop offset="0.933" stop-color="#4c4c4c"/><stop offset="1.000" stop-color="#666666"/></linearGradient><rect x="185.39" y="103.73" width="49.12" height="2.66" fill="url(#h85)"/><linearGradient id="h86" gradientUnits="userSpaceOnUse" x1="191.53" y1="0" x2="228.37" y2="0"><stop offset="0.000" stop-color="#808080"/><stop offset="0.067" stop-color="#808080"/><stop offset="0.133" stop-color="#666666"/><stop offset="0.200" stop-color="#333333"/><stop offset="0.267" stop-color="#1a1a1a"/><stop offset="0.333" stop-color="#1a1a1a"/><stop offset="0.400" stop-color="#1a1a1a"/><stop offset="0.467" stop-color="#1a1a1a"/><stop offset="0.533" stop-color="#1a1a1a"/><stop offset="0.600" stop-color="#1a1a1a"/><stop offset="0.667" stop-color="#1a1a1a"/><stop offset="0.733" stop-color="#1a1a1a"/><stop offset="0.800" stop-color="#1a1a1a"/><stop offset="0.867" stop-color="#1a1a1a"/><stop offset="0.933" stop-color="#333333"/><stop offset="1.000" stop-color="#666666"/></linearGradient><rect x="185.39" y="106.29" width="49.12" height="2.66" fill="url(#h86)"/><linearGradient id="h87" gradientUnits="userSpaceOnUse" x1="191.53" y1="0" x2="228.37" y2="0"><stop offset="0.000" stop-color="#999999"/><stop offset="0.067" stop-color="#808080"/><stop offset="0.133" stop-color="#666666"/><stop offset="0.200" stop-color="#333333"/><stop offset="0.267" stop-color="#1a1a1a"/><stop offset="0.333" stop-color="#1a1a1a"/><stop offset="0.400" stop-color="#1a1a1a"/><stop offset="0.467" stop-color="#1a1a1a"/><stop offset="0.533" stop-color="#1a1a1a"/><stop offset="0.600" stop-color="#1a1a1a"/><stop offset="0.667" stop-color="#1a1a1a"/><stop offset="0.733" stop-color="#1a1a1a"/><stop offset="0.800" stop-color="#1a1a1a"/><stop offset="0.867" stop-color="#1a1a1a"/><stop offset="0.933" stop-color="#333333"/><stop offset="1.000" stop-color="#808080"/></linearGradient><rect x="185.39" y="108.85" width="49.12" height="2.66" fill="url(#h87)"/><linearGradient id="h88" gradientUnits="userSpaceOnUse" x1="191.53" y1="0" x2="228.37" y2="0"><stop offset="0.000" stop-color="#cccccc"/><stop offset="0.067" stop-color="#cccccc"/><stop offset="0.133" stop-color="#666666"/><stop offset="0.200" stop-color="#4c4c4c"/><stop offset="0.267" stop-color="#333333"/><stop offset="0.333" stop-color="#1a1a1a"/><stop offset="0.400" stop-color="#1a1a1a"/><stop offset="0.467" stop-color="#1a1a1a"/><stop offset="0.533" stop-color="#1a1a1a"/><stop offset="0.600" stop-color="#1a1a1a"/><stop offset="0.667" stop-color="#1a1a1a"/><stop offset="0.733" stop-color="#1a1a1a"/><stop offset="0.800" stop-color="#1a1a1a"/><stop offset="0.867" stop-color="#333333"/><stop offset="0.933" stop-color="#4c4c4c"/><stop offset="1.000" stop-color="#808080"/></linearGradient><rect x="185.39" y="111.41" width="49.12" height="2.66" fill="url(#h88)"/><linearGradient id="h89" gradientUnits="userSpaceOnUse" x1="191.53" y1="0" x2="228.37" y2="0"><stop offset="0.000" stop-color="#b2b2b2"/><stop offset="0.067" stop-color="#b2b2b2"/><stop offset="0.133" stop-color="#999999"/><stop offset="0.200" stop-color="#808080"/><stop offset="0.267" stop-color="#808080"/><stop offset="0.333" stop-color="#666666"/><stop offset="0.400" stop-color="#4c4c4c"/><stop offset="0.467" stop-color="#4c4c4c"/><stop offset="0.533" stop-color="#333333"/><stop offset="0.600" stop-color="#333333"/><stop offset="0.667" stop-color="#4c4c4c"/><stop offset="0.733" stop-color="#4c4c4c"/><stop offset="0.800" stop-color="#666666"/><stop offset="0.867" stop-color="#808080"/><stop offset="0.933" stop-color="#999999"/><stop offset="1.000" stop-color="#b2b2b2"/></linearGradient><rect x="185.39" y="113.97" width="49.12" height="2.66" fill="url(#h89)"/><rect x="185.39" y="116.53" width="49.12" height="2.66" fill="#808080"/><linearGradient id="h90" gradientUnits="userSpaceOnUse" x1="191.53" y1="0" x2="228.37" y2="0"><stop offset="0.000" stop-color="#333333"/><stop offset="0.067" stop-color="#333333"/><stop offset="0.133" stop-color="#333333"/><stop offset="0.200" stop-color="#333333"/><stop offset="0.267" stop-color="#4c4c4c"/><stop offset="0.333" stop-color="#4c4c4c"/><stop offset="0.400" stop-color="#4c4c4c"/><stop offset="0.467" stop-color="#4c4c4c"/><stop offset="0.533" stop-color="#4c4c4c"/><stop offset="0.600" stop-color="#4c4c4c"/><stop offset="0.667" stop-color="#4c4c4c"/><stop offset="0.733" stop-color="#4c4c4c"/><stop offset="0.800" stop-color="#4c4c4c"/><stop offset="0.867" stop-color="#4c4c4c"/><stop offset="0.933" stop-color="#4c4c4c"/><stop offset="1.000" stop-color="#333333"/></linearGradient><rect x="185.39" y="119.09" width="49.12" height="2.66" fill="url(#h90)"/><linearGradient id="h91" gradientUnits="userSpaceOnUse" x1="191.53" y1="0" x2="228.37" y2="0"><stop offset="0.000" stop-color="#333333"/><stop offset="0.067" stop-color="#333333"/><stop offset="0.133" stop-color="#333333"/><stop offset="0.200" stop-color="#333333"/><stop offset="0.267" stop-color="#4c4c4c"/><stop offset="0.333" stop-color="#4c4c4c"/><stop offset="0.400" stop-color="#4c4c4c"/><stop offset="0.467" stop-color="#4c4c4c"/><stop offset="0.533" stop-color="#4c4c4c"/><stop offset="0.600" stop-color="#4c4c4c"/><stop offset="0.667" stop-color="#4c4c4c"/><stop offset="0.733" stop-color="#4c4c4c"/><stop offset="0.800" stop-color="#4c4c4c"/><stop offset="0.867" stop-color="#4c4c4c"/><stop offset="0.933" stop-color="#4c4c4c"/><stop offset="1.000" stop-color="#333333"/></linearGradient><rect x="185.39" y="121.65" width="49.12" height="2.66" fill="url(#h91)"/><linearGradient id="h92" gradientUnits="userSpaceOnUse" x1="191.53" y1="0" x2="228.37" y2="0"><stop offset="0.000" stop-color="#333333"/><stop offset="0.067" stop-color="#333333"/><stop offset="0.133" stop-color="#333333"/><stop offset="0.200" stop-color="#333333"/><stop offset="0.267" stop-color="#4c4c4c"/><stop offset="0.333" stop-color="#4c4c4c"/><stop offset="0.400" stop-color="#4c4c4c"/><stop offset="0.467" stop-color="#4c4c4c"/><stop offset="0.533" stop-color="#4c4c4c"/><stop offset="0.600" stop-color="#4c4c4c"/><stop offset="0.667" stop-color="#4c4c4c"/><stop offset="0.733" stop-color="#4c4c4c"/><stop offset="0.800" stop-color="#4c4c4c"/><stop offset="0.867" stop-color="#4c4c4c"/><stop offset="0.933" stop-color="#4c4c4c"/><stop offset="1.000" stop-color="#333333"/></linearGradient><rect x="185.39" y="124.21" width="49.12" height="2.66" fill="url(#h92)"/></g></g><clipPath id="c93"><rect x="143.50" y="130.30" width="39.30" height="25.50"/></clipPath><g clip-path="url(#c93)"><g filter="url(#par)" shape-rendering="crispEdges"><linearGradient id="h94" gradientUnits="userSpaceOnUse" x1="144.73" y1="0" x2="181.57" y2="0"><stop offset="0.000" stop-color="#666666"/><stop offset="0.067" stop-color="#666666"/><stop offset="0.133" stop-color="#666666"/><stop offset="0.200" stop-color="#808080"/><stop offset="0.267" stop-color="#808080"/><stop offset="0.333" stop-color="#808080"/><stop offset="0.400" stop-color="#808080"/><stop offset="0.467" stop-color="#808080"/><stop offset="0.533" stop-color="#808080"/><stop offset="0.600" stop-color="#808080"/><stop offset="0.667" stop-color="#808080"/><stop offset="0.733" stop-color="#808080"/><stop offset="0.800" stop-color="#808080"/><stop offset="0.867" stop-color="#808080"/><stop offset="0.933" stop-color="#666666"/><stop offset="1.000" stop-color="#666666"/></linearGradient><rect x="138.59" y="125.15" width="49.12" height="2.65" fill="url(#h94)"/><linearGradient id="h95" gradientUnits="userSpaceOnUse" x1="144.73" y1="0" x2="181.57" y2="0"><stop offset="0.000" stop-color="#666666"/><stop offset="0.067" stop-color="#666666"/><stop offset="0.133" stop-color="#666666"/><stop offset="0.200" stop-color="#808080"/><stop offset="0.267" stop-color="#808080"/><stop offset="0.333" stop-color="#808080"/><stop offset="0.400" stop-color="#808080"/><stop offset="0.467" stop-color="#808080"/><stop offset="0.533" stop-color="#808080"/><stop offset="0.600" stop-color="#808080"/><stop offset="0.667" stop-color="#808080"/><stop offset="0.733" stop-color="#808080"/><stop offset="0.800" stop-color="#808080"/><stop offset="0.867" stop-color="#808080"/><stop offset="0.933" stop-color="#666666"/><stop offset="1.000" stop-color="#666666"/></linearGradient><rect x="138.59" y="127.70" width="49.12" height="2.65" fill="url(#h95)"/><linearGradient id="h96" gradientUnits="userSpaceOnUse" x1="144.73" y1="0" x2="181.57" y2="0"><stop offset="0.000" stop-color="#666666"/><stop offset="0.067" stop-color="#666666"/><stop offset="0.133" stop-color="#666666"/><stop offset="0.200" stop-color="#808080"/><stop offset="0.267" stop-color="#808080"/><stop offset="0.333" stop-color="#808080"/><stop offset="0.400" stop-color="#808080"/><stop offset="0.467" stop-color="#808080"/><stop offset="0.533" stop-color="#808080"/><stop offset="0.600" stop-color="#808080"/><stop offset="0.667" stop-color="#808080"/><stop offset="0.733" stop-color="#808080"/><stop offset="0.800" stop-color="#808080"/><stop offset="0.867" stop-color="#808080"/><stop offset="0.933" stop-color="#666666"/><stop offset="1.000" stop-color="#666666"/></linearGradient><rect x="138.59" y="130.25" width="49.12" height="2.65" fill="url(#h96)"/><linearGradient id="h97" gradientUnits="userSpaceOnUse" x1="144.73" y1="0" x2="181.57" y2="0"><stop offset="0.000" stop-color="#808080"/><stop offset="0.067" stop-color="#808080"/><stop offset="0.133" stop-color="#808080"/><stop offset="0.200" stop-color="#999999"/><stop offset="0.267" stop-color="#cccccc"/><stop offset="0.333" stop-color="#cccccc"/><stop offset="0.400" stop-color="#cccccc"/><stop offset="0.467" stop-color="#cccccc"/><stop offset="0.533" stop-color="#cccccc"/><stop offset="0.600" stop-color="#cccccc"/><stop offset="0.667" stop-color="#cccccc"/><stop offset="0.733" stop-color="#cccccc"/><stop offset="0.800" stop-color="#b2b2b2"/><stop offset="0.867" stop-color="#b2b2b2"/><stop offset="0.933" stop-color="#b2b2b2"/><stop offset="1.000" stop-color="#999999"/></linearGradient><rect x="138.59" y="132.80" width="49.12" height="2.65" fill="url(#h97)"/><linearGradient id="h98" gradientUnits="userSpaceOnUse" x1="144.73" y1="0" x2="181.57" y2="0"><stop offset="0.000" stop-color="#cccccc"/><stop offset="0.067" stop-color="#b2b2b2"/><stop offset="0.133" stop-color="#999999"/><stop offset="0.200" stop-color="#808080"/><stop offset="0.267" stop-color="#808080"/><stop offset="0.333" stop-color="#666666"/><stop offset="0.400" stop-color="#666666"/><stop offset="0.467" stop-color="#666666"/><stop offset="0.533" stop-color="#808080"/><stop offset="0.600" stop-color="#808080"/><stop offset="0.667" stop-color="#999999"/><stop offset="0.733" stop-color="#b2b2b2"/><stop offset="0.800" stop-color="#b2b2b2"/><stop offset="0.867" stop-color="#cccccc"/><stop offset="0.933" stop-color="#cccccc"/><stop offset="1.000" stop-color="#cccccc"/></linearGradient><rect x="138.59" y="135.35" width="49.12" height="2.65" fill="url(#h98)"/><linearGradient id="h99" gradientUnits="userSpaceOnUse" x1="144.73" y1="0" x2="181.57" y2="0"><stop offset="0.000" stop-color="#808080"/><stop offset="0.067" stop-color="#808080"/><stop offset="0.133" stop-color="#808080"/><stop offset="0.200" stop-color="#666666"/><stop offset="0.267" stop-color="#666666"/><stop offset="0.333" stop-color="#4c4c4c"/><stop offset="0.400" stop-color="#4c4c4c"/><stop offset="0.467" stop-color="#4c4c4c"/><stop offset="0.533" stop-color="#4c4c4c"/><stop offset="0.600" stop-color="#4c4c4c"/><stop offset="0.667" stop-color="#4c4c4c"/><stop offset="0.733" stop-color="#4c4c4c"/><stop offset="0.800" stop-color="#666666"/><stop offset="0.867" stop-color="#808080"/><stop offset="0.933" stop-color="#808080"/><stop offset="1.000" stop-color="#808080"/></linearGradient><rect x="138.59" y="137.90" width="49.12" height="2.65" fill="url(#h99)"/><linearGradient id="h100" gradientUnits="userSpaceOnUse" x1="144.73" y1="0" x2="181.57" y2="0"><stop offset="0.000" stop-color="#999999"/><stop offset="0.067" stop-color="#808080"/><stop offset="0.133" stop-color="#808080"/><stop offset="0.200" stop-color="#666666"/><stop offset="0.267" stop-color="#666666"/><stop offset="0.333" stop-color="#666666"/><stop offset="0.400" stop-color="#666666"/><stop offset="0.467" stop-color="#666666"/><stop offset="0.533" stop-color="#4c4c4c"/><stop offset="0.600" stop-color="#4c4c4c"/><stop offset="0.667" stop-color="#4c4c4c"/><stop offset="0.733" stop-color="#4c4c4c"/><stop offset="0.800" stop-color="#666666"/><stop offset="0.867" stop-color="#666666"/><stop offset="0.933" stop-color="#808080"/><stop offset="1.000" stop-color="#808080"/></linearGradient><rect x="138.59" y="140.45" width="49.12" height="2.65" fill="url(#h100)"/><linearGradient id="h101" gradientUnits="userSpaceOnUse" x1="144.73" y1="0" x2="181.57" y2="0"><stop offset="0.000" stop-color="#999999"/><stop offset="0.067" stop-color="#999999"/><stop offset="0.133" stop-color="#808080"/><stop offset="0.200" stop-color="#808080"/><stop offset="0.267" stop-color="#666666"/><stop offset="0.333" stop-color="#666666"/><stop offset="0.400" stop-color="#4c4c4c"/><stop offset="0.467" stop-color="#333333"/><stop offset="0.533" stop-color="#1a1a1a"/><stop offset="0.600" stop-color="#333333"/><stop offset="0.667" stop-color="#333333"/><stop offset="0.733" stop-color="#4c4c4c"/><stop offset="0.800" stop-color="#666666"/><stop offset="0.867" stop-color="#666666"/><stop offset="0.933" stop-color="#808080"/><stop offset="1.000" stop-color="#808080"/></linearGradient><rect x="138.59" y="143.00" width="49.12" height="2.65" fill="url(#h101)"/><linearGradient id="h102" gradientUnits="userSpaceOnUse" x1="144.73" y1="0" x2="181.57" y2="0"><stop offset="0.000" stop-color="#808080"/><stop offset="0.067" stop-color="#808080"/><stop offset="0.133" stop-color="#808080"/><stop offset="0.200" stop-color="#666666"/><stop offset="0.267" stop-color="#666666"/><stop offset="0.333" stop-color="#4c4c4c"/><stop offset="0.400" stop-color="#333333"/><stop offset="0.467" stop-color="#333333"/><stop offset="0.533" stop-color="#333333"/><stop offset="0.600" stop-color="#4c4c4c"/><stop offset="0.667" stop-color="#4c4c4c"/><stop offset="0.733" stop-color="#666666"/><stop offset="0.800" stop-color="#666666"/><stop offset="0.867" stop-color="#808080"/><stop offset="0.933" stop-color="#808080"/><stop offset="1.000" stop-color="#808080"/></linearGradient><rect x="138.59" y="145.55" width="49.12" height="2.65" fill="url(#h102)"/><linearGradient id="h103" gradientUnits="userSpaceOnUse" x1="144.73" y1="0" x2="181.57" y2="0"><stop offset="0.000" stop-color="#808080"/><stop offset="0.067" stop-color="#808080"/><stop offset="0.133" stop-color="#808080"/><stop offset="0.200" stop-color="#b2b2b2"/><stop offset="0.267" stop-color="#cccccc"/><stop offset="0.333" stop-color="#cccccc"/><stop offset="0.400" stop-color="#b2b2b2"/><stop offset="0.467" stop-color="#999999"/><stop offset="0.533" stop-color="#808080"/><stop offset="0.600" stop-color="#808080"/><stop offset="0.667" stop-color="#808080"/><stop offset="0.733" stop-color="#808080"/><stop offset="0.800" stop-color="#808080"/><stop offset="0.867" stop-color="#808080"/><stop offset="0.933" stop-color="#808080"/><stop offset="1.000" stop-color="#808080"/></linearGradient><rect x="138.59" y="148.10" width="49.12" height="2.65" fill="url(#h103)"/><linearGradient id="h104" gradientUnits="userSpaceOnUse" x1="144.73" y1="0" x2="181.57" y2="0"><stop offset="0.000" stop-color="#808080"/><stop offset="0.067" stop-color="#808080"/><stop offset="0.133" stop-color="#808080"/><stop offset="0.200" stop-color="#808080"/><stop offset="0.267" stop-color="#999999"/><stop offset="0.333" stop-color="#b2b2b2"/><stop offset="0.400" stop-color="#cccccc"/><stop offset="0.467" stop-color="#cccccc"/><stop offset="0.533" stop-color="#cccccc"/><stop offset="0.600" stop-color="#cccccc"/><stop offset="0.667" stop-color="#b2b2b2"/><stop offset="0.733" stop-color="#999999"/><stop offset="0.800" stop-color="#808080"/><stop offset="0.867" stop-color="#808080"/><stop offset="0.933" stop-color="#808080"/><stop offset="1.000" stop-color="#808080"/></linearGradient><rect x="138.59" y="150.65" width="49.12" height="2.65" fill="url(#h104)"/><linearGradient id="h105" gradientUnits="userSpaceOnUse" x1="144.73" y1="0" x2="181.57" y2="0"><stop offset="0.000" stop-color="#333333"/><stop offset="0.067" stop-color="#333333"/><stop offset="0.133" stop-color="#4c4c4c"/><stop offset="0.200" stop-color="#4c4c4c"/><stop offset="0.267" stop-color="#666666"/><stop offset="0.333" stop-color="#808080"/><stop offset="0.400" stop-color="#808080"/><stop offset="0.467" stop-color="#808080"/><stop offset="0.533" stop-color="#808080"/><stop offset="0.600" stop-color="#808080"/><stop offset="0.667" stop-color="#666666"/><stop offset="0.733" stop-color="#666666"/><stop offset="0.800" stop-color="#4c4c4c"/><stop offset="0.867" stop-color="#4c4c4c"/><stop offset="0.933" stop-color="#4c4c4c"/><stop offset="1.000" stop-color="#4c4c4c"/></linearGradient><rect x="138.59" y="153.20" width="49.12" height="2.65" fill="url(#h105)"/><linearGradient id="h106" gradientUnits="userSpaceOnUse" x1="144.73" y1="0" x2="181.57" y2="0"><stop offset="0.000" stop-color="#333333"/><stop offset="0.067" stop-color="#333333"/><stop offset="0.133" stop-color="#4c4c4c"/><stop offset="0.200" stop-color="#4c4c4c"/><stop offset="0.267" stop-color="#666666"/><stop offset="0.333" stop-color="#808080"/><stop offset="0.400" stop-color="#808080"/><stop offset="0.467" stop-color="#808080"/><stop offset="0.533" stop-color="#808080"/><stop offset="0.600" stop-color="#808080"/><stop offset="0.667" stop-color="#666666"/><stop offset="0.733" stop-color="#666666"/><stop offset="0.800" stop-color="#4c4c4c"/><stop offset="0.867" stop-color="#4c4c4c"/><stop offset="0.933" stop-color="#4c4c4c"/><stop offset="1.000" stop-color="#4c4c4c"/></linearGradient><rect x="138.59" y="155.75" width="49.12" height="2.65" fill="url(#h106)"/><linearGradient id="h107" gradientUnits="userSpaceOnUse" x1="144.73" y1="0" x2="181.57" y2="0"><stop offset="0.000" stop-color="#333333"/><stop offset="0.067" stop-color="#333333"/><stop offset="0.133" stop-color="#4c4c4c"/><stop offset="0.200" stop-color="#4c4c4c"/><stop offset="0.267" stop-color="#666666"/><stop offset="0.333" stop-color="#808080"/><stop offset="0.400" stop-color="#808080"/><stop offset="0.467" stop-color="#808080"/><stop offset="0.533" stop-color="#808080"/><stop offset="0.600" stop-color="#808080"/><stop offset="0.667" stop-color="#666666"/><stop offset="0.733" stop-color="#666666"/><stop offset="0.800" stop-color="#4c4c4c"/><stop offset="0.867" stop-color="#4c4c4c"/><stop offset="0.933" stop-color="#4c4c4c"/><stop offset="1.000" stop-color="#4c4c4c"/></linearGradient><rect x="138.59" y="158.30" width="49.12" height="2.65" fill="url(#h107)"/></g></g><clipPath id="c108"><rect x="190.30" y="130.30" width="39.30" height="25.50"/></clipPath><g clip-path="url(#c108)"><g filter="url(#par)" shape-rendering="crispEdges"><linearGradient id="h109" gradientUnits="userSpaceOnUse" x1="191.53" y1="0" x2="228.37" y2="0"><stop offset="0.000" stop-color="#666666"/><stop offset="0.067" stop-color="#8c8c8c"/><stop offset="0.133" stop-color="#8c8c8c"/><stop offset="0.200" stop-color="#8c8c8c"/><stop offset="0.267" stop-color="#8c8c8c"/><stop offset="0.333" stop-color="#8c8c8c"/><stop offset="0.400" stop-color="#8c8c8c"/><stop offset="0.467" stop-color="#8c8c8c"/><stop offset="0.533" stop-color="#8c8c8c"/><stop offset="0.600" stop-color="#8c8c8c"/><stop offset="0.667" stop-color="#8c8c8c"/><stop offset="0.733" stop-color="#8c8c8c"/><stop offset="0.800" stop-color="#8c8c8c"/><stop offset="0.867" stop-color="#8c8c8c"/><stop offset="0.933" stop-color="#8c8c8c"/><stop offset="1.000" stop-color="#666666"/></linearGradient><rect x="185.39" y="125.15" width="49.12" height="2.65" fill="url(#h109)"/><linearGradient id="h110" gradientUnits="userSpaceOnUse" x1="191.53" y1="0" x2="228.37" y2="0"><stop offset="0.000" stop-color="#666666"/><stop offset="0.067" stop-color="#8c8c8c"/><stop offset="0.133" stop-color="#8c8c8c"/><stop offset="0.200" stop-color="#8c8c8c"/><stop offset="0.267" stop-color="#8c8c8c"/><stop offset="0.333" stop-color="#8c8c8c"/><stop offset="0.400" stop-color="#8c8c8c"/><stop offset="0.467" stop-color="#8c8c8c"/><stop offset="0.533" stop-color="#8c8c8c"/><stop offset="0.600" stop-color="#8c8c8c"/><stop offset="0.667" stop-color="#8c8c8c"/><stop offset="0.733" stop-color="#8c8c8c"/><stop offset="0.800" stop-color="#8c8c8c"/><stop offset="0.867" stop-color="#8c8c8c"/><stop offset="0.933" stop-color="#8c8c8c"/><stop offset="1.000" stop-color="#666666"/></linearGradient><rect x="185.39" y="127.70" width="49.12" height="2.65" fill="url(#h110)"/><linearGradient id="h111" gradientUnits="userSpaceOnUse" x1="191.53" y1="0" x2="228.37" y2="0"><stop offset="0.000" stop-color="#666666"/><stop offset="0.067" stop-color="#8c8c8c"/><stop offset="0.133" stop-color="#8c8c8c"/><stop offset="0.200" stop-color="#8c8c8c"/><stop offset="0.267" stop-color="#8c8c8c"/><stop offset="0.333" stop-color="#8c8c8c"/><stop offset="0.400" stop-color="#8c8c8c"/><stop offset="0.467" stop-color="#8c8c8c"/><stop offset="0.533" stop-color="#8c8c8c"/><stop offset="0.600" stop-color="#8c8c8c"/><stop offset="0.667" stop-color="#8c8c8c"/><stop offset="0.733" stop-color="#8c8c8c"/><stop offset="0.800" stop-color="#8c8c8c"/><stop offset="0.867" stop-color="#8c8c8c"/><stop offset="0.933" stop-color="#8c8c8c"/><stop offset="1.000" stop-color="#666666"/></linearGradient><rect x="185.39" y="130.25" width="49.12" height="2.65" fill="url(#h111)"/><linearGradient id="h112" gradientUnits="userSpaceOnUse" x1="191.53" y1="0" x2="228.37" y2="0"><stop offset="0.000" stop-color="#999999"/><stop offset="0.067" stop-color="#999999"/><stop offset="0.133" stop-color="#8c8c8c"/><stop offset="0.200" stop-color="#8c8c8c"/><stop offset="0.267" stop-color="#8c8c8c"/><stop offset="0.333" stop-color="#8c8c8c"/><stop offset="0.400" stop-color="#8c8c8c"/><stop offset="0.467" stop-color="#8c8c8c"/><stop offset="0.533" stop-color="#8c8c8c"/><stop offset="0.600" stop-color="#8c8c8c"/><stop offset="0.667" stop-color="#8c8c8c"/><stop offset="0.733" stop-color="#999999"/><stop offset="0.800" stop-color="#999999"/><stop offset="0.867" stop-color="#b2b2b2"/><stop offset="0.933" stop-color="#b2b2b2"/><stop offset="1.000" stop-color="#b2b2b2"/></linearGradient><rect x="185.39" y="132.80" width="49.12" height="2.65" fill="url(#h112)"/><linearGradient id="h113" gradientUnits="userSpaceOnUse" x1="191.53" y1="0" x2="228.37" y2="0"><stop offset="0.000" stop-color="#cccccc"/><stop offset="0.067" stop-color="#b2b2b2"/><stop offset="0.133" stop-color="#8c8c8c"/><stop offset="0.200" stop-color="#8c8c8c"/><stop offset="0.267" stop-color="#8c8c8c"/><stop offset="0.333" stop-color="#666666"/><stop offset="0.400" stop-color="#666666"/><stop offset="0.467" stop-color="#4c4c4c"/><stop offset="0.533" stop-color="#4c4c4c"/><stop offset="0.600" stop-color="#4c4c4c"/><stop offset="0.667" stop-color="#4c4c4c"/><stop offset="0.733" stop-color="#666666"/><stop offset="0.800" stop-color="#8c8c8c"/><stop offset="0.867" stop-color="#8c8c8c"/><stop offset="0.933" stop-color="#8c8c8c"/><stop offset="1.000" stop-color="#999999"/></linearGradient><rect x="185.39" y="135.35" width="49.12" height="2.65" fill="url(#h113)"/><linearGradient id="h114" gradientUnits="userSpaceOnUse" x1="191.53" y1="0" x2="228.37" y2="0"><stop offset="0.000" stop-color="#8c8c8c"/><stop offset="0.067" stop-color="#8c8c8c"/><stop offset="0.133" stop-color="#8c8c8c"/><stop offset="0.200" stop-color="#8c8c8c"/><stop offset="0.267" stop-color="#4c4c4c"/><stop offset="0.333" stop-color="#333333"/><stop offset="0.400" stop-color="#1a1a1a"/><stop offset="0.467" stop-color="#1a1a1a"/><stop offset="0.533" stop-color="#1a1a1a"/><stop offset="0.600" stop-color="#1a1a1a"/><stop offset="0.667" stop-color="#1a1a1a"/><stop offset="0.733" stop-color="#1a1a1a"/><stop offset="0.800" stop-color="#4c4c4c"/><stop offset="0.867" stop-color="#666666"/><stop offset="0.933" stop-color="#8c8c8c"/><stop offset="1.000" stop-color="#8c8c8c"/></linearGradient><rect x="185.39" y="137.90" width="49.12" height="2.65" fill="url(#h114)"/><linearGradient id="h115" gradientUnits="userSpaceOnUse" x1="191.53" y1="0" x2="228.37" y2="0"><stop offset="0.000" stop-color="#8c8c8c"/><stop offset="0.067" stop-color="#8c8c8c"/><stop offset="0.133" stop-color="#8c8c8c"/><stop offset="0.200" stop-color="#4c4c4c"/><stop offset="0.267" stop-color="#333333"/><stop offset="0.333" stop-color="#1a1a1a"/><stop offset="0.400" stop-color="#1a1a1a"/><stop offset="0.467" stop-color="#1a1a1a"/><stop offset="0.533" stop-color="#1a1a1a"/><stop offset="0.600" stop-color="#1a1a1a"/><stop offset="0.667" stop-color="#1a1a1a"/><stop offset="0.733" stop-color="#1a1a1a"/><stop offset="0.800" stop-color="#1a1a1a"/><stop offset="0.867" stop-color="#333333"/><stop offset="0.933" stop-color="#666666"/><stop offset="1.000" stop-color="#8c8c8c"/></linearGradient><rect x="185.39" y="140.45" width="49.12" height="2.65" fill="url(#h115)"/><linearGradient id="h116" gradientUnits="userSpaceOnUse" x1="191.53" y1="0" x2="228.37" y2="0"><stop offset="0.000" stop-color="#8c8c8c"/><stop offset="0.067" stop-color="#8c8c8c"/><stop offset="0.133" stop-color="#8c8c8c"/><stop offset="0.200" stop-color="#4c4c4c"/><stop offset="0.267" stop-color="#1a1a1a"/><stop offset="0.333" stop-color="#1a1a1a"/><stop offset="0.400" stop-color="#1a1a1a"/><stop offset="0.467" stop-color="#1a1a1a"/><stop offset="0.533" stop-color="#1a1a1a"/><stop offset="0.600" stop-color="#1a1a1a"/><stop offset="0.667" stop-color="#1a1a1a"/><stop offset="0.733" stop-color="#1a1a1a"/><stop offset="0.800" stop-color="#1a1a1a"/><stop offset="0.867" stop-color="#333333"/><stop offset="0.933" stop-color="#666666"/><stop offset="1.000" stop-color="#8c8c8c"/></linearGradient><rect x="185.39" y="143.00" width="49.12" height="2.65" fill="url(#h116)"/><linearGradient id="h117" gradientUnits="userSpaceOnUse" x1="191.53" y1="0" x2="228.37" y2="0"><stop offset="0.000" stop-color="#8c8c8c"/><stop offset="0.067" stop-color="#8c8c8c"/><stop offset="0.133" stop-color="#8c8c8c"/><stop offset="0.200" stop-color="#666666"/><stop offset="0.267" stop-color="#333333"/><stop offset="0.333" stop-color="#1a1a1a"/><stop offset="0.400" stop-color="#1a1a1a"/><stop offset="0.467" stop-color="#1a1a1a"/><stop offset="0.533" stop-color="#1a1a1a"/><stop offset="0.600" stop-color="#1a1a1a"/><stop offset="0.667" stop-color="#1a1a1a"/><stop offset="0.733" stop-color="#1a1a1a"/><stop offset="0.800" stop-color="#1a1a1a"/><stop offset="0.867" stop-color="#4c4c4c"/><stop offset="0.933" stop-color="#666666"/><stop offset="1.000" stop-color="#8c8c8c"/></linearGradient><rect x="185.39" y="145.55" width="49.12" height="2.65" fill="url(#h117)"/><linearGradient id="h118" gradientUnits="userSpaceOnUse" x1="191.53" y1="0" x2="228.37" y2="0"><stop offset="0.000" stop-color="#8c8c8c"/><stop offset="0.067" stop-color="#8c8c8c"/><stop offset="0.133" stop-color="#8c8c8c"/><stop offset="0.200" stop-color="#b2b2b2"/><stop offset="0.267" stop-color="#8c8c8c"/><stop offset="0.333" stop-color="#4c4c4c"/><stop offset="0.400" stop-color="#333333"/><stop offset="0.467" stop-color="#1a1a1a"/><stop offset="0.533" stop-color="#1a1a1a"/><stop offset="0.600" stop-color="#1a1a1a"/><stop offset="0.667" stop-color="#1a1a1a"/><stop offset="0.733" stop-color="#333333"/><stop offset="0.800" stop-color="#4c4c4c"/><stop offset="0.867" stop-color="#666666"/><stop offset="0.933" stop-color="#8c8c8c"/><stop offset="1.000" stop-color="#8c8c8c"/></linearGradient><rect x="185.39" y="148.10" width="49.12" height="2.65" fill="url(#h118)"/><linearGradient id="h119" gradientUnits="userSpaceOnUse" x1="191.53" y1="0" x2="228.37" y2="0"><stop offset="0.000" stop-color="#8c8c8c"/><stop offset="0.067" stop-color="#8c8c8c"/><stop offset="0.133" stop-color="#8c8c8c"/><stop offset="0.200" stop-color="#8c8c8c"/><stop offset="0.267" stop-color="#b2b2b2"/><stop offset="0.333" stop-color="#cccccc"/><stop offset="0.400" stop-color="#cccccc"/><stop offset="0.467" stop-color="#cccccc"/><stop offset="0.533" stop-color="#cccccc"/><stop offset="0.600" stop-color="#cccccc"/><stop offset="0.667" stop-color="#b2b2b2"/><stop offset="0.733" stop-color="#999999"/><stop offset="0.800" stop-color="#8c8c8c"/><stop offset="0.867" stop-color="#8c8c8c"/><stop offset="0.933" stop-color="#8c8c8c"/><stop offset="1.000" stop-color="#8c8c8c"/></linearGradient><rect x="185.39" y="150.65" width="49.12" height="2.65" fill="url(#h119)"/><linearGradient id="h120" gradientUnits="userSpaceOnUse" x1="191.53" y1="0" x2="228.37" y2="0"><stop offset="0.000" stop-color="#333333"/><stop offset="0.067" stop-color="#4c4c4c"/><stop offset="0.133" stop-color="#4c4c4c"/><stop offset="0.200" stop-color="#4c4c4c"/><stop offset="0.267" stop-color="#666666"/><stop offset="0.333" stop-color="#666666"/><stop offset="0.400" stop-color="#8c8c8c"/><stop offset="0.467" stop-color="#8c8c8c"/><stop offset="0.533" stop-color="#8c8c8c"/><stop offset="0.600" stop-color="#666666"/><stop offset="0.667" stop-color="#666666"/><stop offset="0.733" stop-color="#666666"/><stop offset="0.800" stop-color="#666666"/><stop offset="0.867" stop-color="#4c4c4c"/><stop offset="0.933" stop-color="#4c4c4c"/><stop offset="1.000" stop-color="#4c4c4c"/></linearGradient><rect x="185.39" y="153.20" width="49.12" height="2.65" fill="url(#h120)"/><linearGradient id="h121" gradientUnits="userSpaceOnUse" x1="191.53" y1="0" x2="228.37" y2="0"><stop offset="0.000" stop-color="#333333"/><stop offset="0.067" stop-color="#4c4c4c"/><stop offset="0.133" stop-color="#4c4c4c"/><stop offset="0.200" stop-color="#4c4c4c"/><stop offset="0.267" stop-color="#666666"/><stop offset="0.333" stop-color="#666666"/><stop offset="0.400" stop-color="#8c8c8c"/><stop offset="0.467" stop-color="#8c8c8c"/><stop offset="0.533" stop-color="#8c8c8c"/><stop offset="0.600" stop-color="#666666"/><stop offset="0.667" stop-color="#666666"/><stop offset="0.733" stop-color="#666666"/><stop offset="0.800" stop-color="#666666"/><stop offset="0.867" stop-color="#4c4c4c"/><stop offset="0.933" stop-color="#4c4c4c"/><stop offset="1.000" stop-color="#4c4c4c"/></linearGradient><rect x="185.39" y="155.75" width="49.12" height="2.65" fill="url(#h121)"/><linearGradient id="h122" gradientUnits="userSpaceOnUse" x1="191.53" y1="0" x2="228.37" y2="0"><stop offset="0.000" stop-color="#333333"/><stop offset="0.067" stop-color="#4c4c4c"/><stop offset="0.133" stop-color="#4c4c4c"/><stop offset="0.200" stop-color="#4c4c4c"/><stop offset="0.267" stop-color="#666666"/><stop offset="0.333" stop-color="#666666"/><stop offset="0.400" stop-color="#8c8c8c"/><stop offset="0.467" stop-color="#8c8c8c"/><stop offset="0.533" stop-color="#8c8c8c"/><stop offset="0.600" stop-color="#666666"/><stop offset="0.667" stop-color="#666666"/><stop offset="0.733" stop-color="#666666"/><stop offset="0.800" stop-color="#666666"/><stop offset="0.867" stop-color="#4c4c4c"/><stop offset="0.933" stop-color="#4c4c4c"/><stop offset="1.000" stop-color="#4c4c4c"/></linearGradient><rect x="185.39" y="158.30" width="49.12" height="2.65" fill="url(#h122)"/></g></g><clipPath id="c123"><rect x="270.80" y="96.10" width="39.30" height="25.60"/></clipPath><g clip-path="url(#c123)"><g filter="url(#par)" shape-rendering="crispEdges"><linearGradient id="h124" gradientUnits="userSpaceOnUse" x1="272.03" y1="0" x2="308.87" y2="0"><stop offset="0.000" stop-color="#cccccc"/><stop offset="0.067" stop-color="#cccccc"/><stop offset="0.133" stop-color="#b2b2b2"/><stop offset="0.200" stop-color="#b2b2b2"/><stop offset="0.267" stop-color="#b2b2b2"/><stop offset="0.333" stop-color="#b2b2b2"/><stop offset="0.400" stop-color="#b2b2b2"/><stop offset="0.467" stop-color="#b2b2b2"/><stop offset="0.533" stop-color="#b2b2b2"/><stop offset="0.600" stop-color="#b2b2b2"/><stop offset="0.667" stop-color="#b2b2b2"/><stop offset="0.733" stop-color="#b2b2b2"/><stop offset="0.800" stop-color="#b2b2b2"/><stop offset="0.867" stop-color="#b2b2b2"/><stop offset="0.933" stop-color="#cccccc"/><stop offset="1.000" stop-color="#cccccc"/></linearGradient><rect x="265.89" y="90.93" width="49.12" height="2.66" fill="url(#h124)"/><linearGradient id="h125" gradientUnits="userSpaceOnUse" x1="272.03" y1="0" x2="308.87" y2="0"><stop offset="0.000" stop-color="#cccccc"/><stop offset="0.067" stop-color="#cccccc"/><stop offset="0.133" stop-color="#b2b2b2"/><stop offset="0.200" stop-color="#b2b2b2"/><stop offset="0.267" stop-color="#b2b2b2"/><stop offset="0.333" stop-color="#b2b2b2"/><stop offset="0.400" stop-color="#b2b2b2"/><stop offset="0.467" stop-color="#b2b2b2"/><stop offset="0.533" stop-color="#b2b2b2"/><stop offset="0.600" stop-color="#b2b2b2"/><stop offset="0.667" stop-color="#b2b2b2"/><stop offset="0.733" stop-color="#b2b2b2"/><stop offset="0.800" stop-color="#b2b2b2"/><stop offset="0.867" stop-color="#b2b2b2"/><stop offset="0.933" stop-color="#cccccc"/><stop offset="1.000" stop-color="#cccccc"/></linearGradient><rect x="265.89" y="93.49" width="49.12" height="2.66" fill="url(#h125)"/><linearGradient id="h126" gradientUnits="userSpaceOnUse" x1="272.03" y1="0" x2="308.87" y2="0"><stop offset="0.000" stop-color="#cccccc"/><stop offset="0.067" stop-color="#cccccc"/><stop offset="0.133" stop-color="#b2b2b2"/><stop offset="0.200" stop-color="#b2b2b2"/><stop offset="0.267" stop-color="#b2b2b2"/><stop offset="0.333" stop-color="#b2b2b2"/><stop offset="0.400" stop-color="#b2b2b2"/><stop offset="0.467" stop-color="#b2b2b2"/><stop offset="0.533" stop-color="#b2b2b2"/><stop offset="0.600" stop-color="#b2b2b2"/><stop offset="0.667" stop-color="#b2b2b2"/><stop offset="0.733" stop-color="#b2b2b2"/><stop offset="0.800" stop-color="#b2b2b2"/><stop offset="0.867" stop-color="#b2b2b2"/><stop offset="0.933" stop-color="#cccccc"/><stop offset="1.000" stop-color="#cccccc"/></linearGradient><rect x="265.89" y="96.05" width="49.12" height="2.66" fill="url(#h126)"/><linearGradient id="h127" gradientUnits="userSpaceOnUse" x1="272.03" y1="0" x2="308.87" y2="0"><stop offset="0.000" stop-color="#cccccc"/><stop offset="0.067" stop-color="#cccccc"/><stop offset="0.133" stop-color="#cccccc"/><stop offset="0.200" stop-color="#b2b2b2"/><stop offset="0.267" stop-color="#b2b2b2"/><stop offset="0.333" stop-color="#999999"/><stop offset="0.400" stop-color="#999999"/><stop offset="0.467" stop-color="#999999"/><stop offset="0.533" stop-color="#999999"/><stop offset="0.600" stop-color="#999999"/><stop offset="0.667" stop-color="#999999"/><stop offset="0.733" stop-color="#999999"/><stop offset="0.800" stop-color="#b2b2b2"/><stop offset="0.867" stop-color="#b2b2b2"/><stop offset="0.933" stop-color="#cccccc"/><stop offset="1.000" stop-color="#cccccc"/></linearGradient><rect x="265.89" y="98.61" width="49.12" height="2.66" fill="url(#h127)"/><linearGradient id="h128" gradientUnits="userSpaceOnUse" x1="272.03" y1="0" x2="308.87" y2="0"><stop offset="0.000" stop-color="#cccccc"/><stop offset="0.067" stop-color="#cccccc"/><stop offset="0.133" stop-color="#b2b2b2"/><stop offset="0.200" stop-color="#b2b2b2"/><stop offset="0.267" stop-color="#999999"/><stop offset="0.333" stop-color="#808080"/><stop offset="0.400" stop-color="#666666"/><stop offset="0.467" stop-color="#666666"/><stop offset="0.533" stop-color="#666666"/><stop offset="0.600" stop-color="#666666"/><stop offset="0.667" stop-color="#666666"/><stop offset="0.733" stop-color="#808080"/><stop offset="0.800" stop-color="#999999"/><stop offset="0.867" stop-color="#b2b2b2"/><stop offset="0.933" stop-color="#cccccc"/><stop offset="1.000" stop-color="#cccccc"/></linearGradient><rect x="265.89" y="101.17" width="49.12" height="2.66" fill="url(#h128)"/><linearGradient id="h129" gradientUnits="userSpaceOnUse" x1="272.03" y1="0" x2="308.87" y2="0"><stop offset="0.000" stop-color="#cccccc"/><stop offset="0.067" stop-color="#cccccc"/><stop offset="0.133" stop-color="#b2b2b2"/><stop offset="0.200" stop-color="#999999"/><stop offset="0.267" stop-color="#808080"/><stop offset="0.333" stop-color="#666666"/><stop offset="0.400" stop-color="#4c4c4c"/><stop offset="0.467" stop-color="#4c4c4c"/><stop offset="0.533" stop-color="#4c4c4c"/><stop offset="0.600" stop-color="#4c4c4c"/><stop offset="0.667" stop-color="#4c4c4c"/><stop offset="0.733" stop-color="#666666"/><stop offset="0.800" stop-color="#808080"/><stop offset="0.867" stop-color="#999999"/><stop offset="0.933" stop-color="#b2b2b2"/><stop offset="1.000" stop-color="#cccccc"/></linearGradient><rect x="265.89" y="103.73" width="49.12" height="2.66" fill="url(#h129)"/><linearGradient id="h130" gradientUnits="userSpaceOnUse" x1="272.03" y1="0" x2="308.87" y2="0"><stop offset="0.000" stop-color="#cccccc"/><stop offset="0.067" stop-color="#cccccc"/><stop offset="0.133" stop-color="#b2b2b2"/><stop offset="0.200" stop-color="#999999"/><stop offset="0.267" stop-color="#808080"/><stop offset="0.333" stop-color="#4c4c4c"/><stop offset="0.400" stop-color="#333333"/><stop offset="0.467" stop-color="#333333"/><stop offset="0.533" stop-color="#333333"/><stop offset="0.600" stop-color="#333333"/><stop offset="0.667" stop-color="#4c4c4c"/><stop offset="0.733" stop-color="#4c4c4c"/><stop offset="0.800" stop-color="#666666"/><stop offset="0.867" stop-color="#999999"/><stop offset="0.933" stop-color="#b2b2b2"/><stop offset="1.000" stop-color="#b2b2b2"/></linearGradient><rect x="265.89" y="106.29" width="49.12" height="2.66" fill="url(#h130)"/><linearGradient id="h131" gradientUnits="userSpaceOnUse" x1="272.03" y1="0" x2="308.87" y2="0"><stop offset="0.000" stop-color="#cccccc"/><stop offset="0.067" stop-color="#cccccc"/><stop offset="0.133" stop-color="#b2b2b2"/><stop offset="0.200" stop-color="#999999"/><stop offset="0.267" stop-color="#808080"/><stop offset="0.333" stop-color="#666666"/><stop offset="0.400" stop-color="#4c4c4c"/><stop offset="0.467" stop-color="#4c4c4c"/><stop offset="0.533" stop-color="#4c4c4c"/><stop offset="0.600" stop-color="#4c4c4c"/><stop offset="0.667" stop-color="#4c4c4c"/><stop offset="0.733" stop-color="#666666"/><stop offset="0.800" stop-color="#808080"/><stop offset="0.867" stop-color="#999999"/><stop offset="0.933" stop-color="#b2b2b2"/><stop offset="1.000" stop-color="#b2b2b2"/></linearGradient><rect x="265.89" y="108.85" width="49.12" height="2.66" fill="url(#h131)"/><linearGradient id="h132" gradientUnits="userSpaceOnUse" x1="272.03" y1="0" x2="308.87" y2="0"><stop offset="0.000" stop-color="#cccccc"/><stop offset="0.067" stop-color="#cccccc"/><stop offset="0.133" stop-color="#cccccc"/><stop offset="0.200" stop-color="#b2b2b2"/><stop offset="0.267" stop-color="#999999"/><stop offset="0.333" stop-color="#808080"/><stop offset="0.400" stop-color="#666666"/><stop offset="0.467" stop-color="#666666"/><stop offset="0.533" stop-color="#666666"/><stop offset="0.600" stop-color="#666666"/><stop offset="0.667" stop-color="#666666"/><stop offset="0.733" stop-color="#808080"/><stop offset="0.800" stop-color="#999999"/><stop offset="0.867" stop-color="#b2b2b2"/><stop offset="0.933" stop-color="#cccccc"/><stop offset="1.000" stop-color="#cccccc"/></linearGradient><rect x="265.89" y="111.41" width="49.12" height="2.66" fill="url(#h132)"/><linearGradient id="h133" gradientUnits="userSpaceOnUse" x1="272.03" y1="0" x2="308.87" y2="0"><stop offset="0.000" stop-color="#cccccc"/><stop offset="0.067" stop-color="#cccccc"/><stop offset="0.133" stop-color="#cccccc"/><stop offset="0.200" stop-color="#cccccc"/><stop offset="0.267" stop-color="#b2b2b2"/><stop offset="0.333" stop-color="#999999"/><stop offset="0.400" stop-color="#999999"/><stop offset="0.467" stop-color="#999999"/><stop offset="0.533" stop-color="#999999"/><stop offset="0.600" stop-color="#999999"/><stop offset="0.667" stop-color="#999999"/><stop offset="0.733" stop-color="#999999"/><stop offset="0.800" stop-color="#b2b2b2"/><stop offset="0.867" stop-color="#cccccc"/><stop offset="0.933" stop-color="#cccccc"/><stop offset="1.000" stop-color="#cccccc"/></linearGradient><rect x="265.89" y="113.97" width="49.12" height="2.66" fill="url(#h133)"/><linearGradient id="h134" gradientUnits="userSpaceOnUse" x1="272.03" y1="0" x2="308.87" y2="0"><stop offset="0.000" stop-color="#cccccc"/><stop offset="0.067" stop-color="#cccccc"/><stop offset="0.133" stop-color="#cccccc"/><stop offset="0.200" stop-color="#cccccc"/><stop offset="0.267" stop-color="#cccccc"/><stop offset="0.333" stop-color="#b2b2b2"/><stop offset="0.400" stop-color="#b2b2b2"/><stop offset="0.467" stop-color="#b2b2b2"/><stop offset="0.533" stop-color="#b2b2b2"/><stop offset="0.600" stop-color="#b2b2b2"/><stop offset="0.667" stop-color="#b2b2b2"/><stop offset="0.733" stop-color="#b2b2b2"/><stop offset="0.800" stop-color="#cccccc"/><stop offset="0.867" stop-color="#cccccc"/><stop offset="0.933" stop-color="#cccccc"/><stop offset="1.000" stop-color="#cccccc"/></linearGradient><rect x="265.89" y="116.53" width="49.12" height="2.66" fill="url(#h134)"/><rect x="265.89" y="119.09" width="49.12" height="2.66" fill="#cccccc"/><rect x="265.89" y="121.65" width="49.12" height="2.66" fill="#cccccc"/><rect x="265.89" y="124.21" width="49.12" height="2.66" fill="#cccccc"/></g></g><clipPath id="c135"><rect x="270.80" y="130.30" width="39.30" height="25.50"/></clipPath><g clip-path="url(#c135)"><g filter="url(#par)" shape-rendering="crispEdges"><rect x="265.89" y="125.15" width="49.12" height="2.65" fill="#e6e6e6"/><rect x="265.89" y="127.70" width="49.12" height="2.65" fill="#e6e6e6"/><rect x="265.89" y="130.25" width="49.12" height="2.65" fill="#e6e6e6"/><linearGradient id="h136" gradientUnits="userSpaceOnUse" x1="272.03" y1="0" x2="308.87" y2="0"><stop offset="0.000" stop-color="#e6e6e6"/><stop offset="0.067" stop-color="#e6e6e6"/><stop offset="0.133" stop-color="#e6e6e6"/><stop offset="0.200" stop-color="#e6e6e6"/><stop offset="0.267" stop-color="#cccccc"/><stop offset="0.333" stop-color="#b2b2b2"/><stop offset="0.400" stop-color="#999999"/><stop offset="0.467" stop-color="#999999"/><stop offset="0.533" stop-color="#999999"/><stop offset="0.600" stop-color="#999999"/><stop offset="0.667" stop-color="#b2b2b2"/><stop offset="0.733" stop-color="#cccccc"/><stop offset="0.800" stop-color="#d9d9d9"/><stop offset="0.867" stop-color="#e6e6e6"/><stop offset="0.933" stop-color="#e6e6e6"/><stop offset="1.000" stop-color="#e6e6e6"/></linearGradient><rect x="265.89" y="132.80" width="49.12" height="2.65" fill="url(#h136)"/><linearGradient id="h137" gradientUnits="userSpaceOnUse" x1="272.03" y1="0" x2="308.87" y2="0"><stop offset="0.000" stop-color="#e6e6e6"/><stop offset="0.067" stop-color="#e6e6e6"/><stop offset="0.133" stop-color="#e6e6e6"/><stop offset="0.200" stop-color="#b2b2b2"/><stop offset="0.267" stop-color="#999999"/><stop offset="0.333" stop-color="#666666"/><stop offset="0.400" stop-color="#666666"/><stop offset="0.467" stop-color="#4c4c4c"/><stop offset="0.533" stop-color="#4c4c4c"/><stop offset="0.600" stop-color="#4c4c4c"/><stop offset="0.667" stop-color="#666666"/><stop offset="0.733" stop-color="#666666"/><stop offset="0.800" stop-color="#999999"/><stop offset="0.867" stop-color="#b2b2b2"/><stop offset="0.933" stop-color="#d9d9d9"/><stop offset="1.000" stop-color="#e6e6e6"/></linearGradient><rect x="265.89" y="135.35" width="49.12" height="2.65" fill="url(#h137)"/><linearGradient id="h138" gradientUnits="userSpaceOnUse" x1="272.03" y1="0" x2="308.87" y2="0"><stop offset="0.000" stop-color="#cccccc"/><stop offset="0.067" stop-color="#cccccc"/><stop offset="0.133" stop-color="#b2b2b2"/><stop offset="0.200" stop-color="#999999"/><stop offset="0.267" stop-color="#666666"/><stop offset="0.333" stop-color="#595959"/><stop offset="0.400" stop-color="#4c4c4c"/><stop offset="0.467" stop-color="#333333"/><stop offset="0.533" stop-color="#333333"/><stop offset="0.600" stop-color="#4c4c4c"/><stop offset="0.667" stop-color="#4c4c4c"/><stop offset="0.733" stop-color="#595959"/><stop offset="0.800" stop-color="#666666"/><stop offset="0.867" stop-color="#999999"/><stop offset="0.933" stop-color="#cccccc"/><stop offset="1.000" stop-color="#e6e6e6"/></linearGradient><rect x="265.89" y="137.90" width="49.12" height="2.65" fill="url(#h138)"/><linearGradient id="h139" gradientUnits="userSpaceOnUse" x1="272.03" y1="0" x2="308.87" y2="0"><stop offset="0.000" stop-color="#b2b2b2"/><stop offset="0.067" stop-color="#999999"/><stop offset="0.133" stop-color="#999999"/><stop offset="0.200" stop-color="#808080"/><stop offset="0.267" stop-color="#595959"/><stop offset="0.333" stop-color="#595959"/><stop offset="0.400" stop-color="#595959"/><stop offset="0.467" stop-color="#595959"/><stop offset="0.533" stop-color="#595959"/><stop offset="0.600" stop-color="#595959"/><stop offset="0.667" stop-color="#595959"/><stop offset="0.733" stop-color="#595959"/><stop offset="0.800" stop-color="#666666"/><stop offset="0.867" stop-color="#808080"/><stop offset="0.933" stop-color="#b2b2b2"/><stop offset="1.000" stop-color="#cccccc"/></linearGradient><rect x="265.89" y="140.45" width="49.12" height="2.65" fill="url(#h139)"/><linearGradient id="h140" gradientUnits="userSpaceOnUse" x1="272.03" y1="0" x2="308.87" y2="0"><stop offset="0.000" stop-color="#b2b2b2"/><stop offset="0.067" stop-color="#b2b2b2"/><stop offset="0.133" stop-color="#999999"/><stop offset="0.200" stop-color="#808080"/><stop offset="0.267" stop-color="#595959"/><stop offset="0.333" stop-color="#595959"/><stop offset="0.400" stop-color="#595959"/><stop offset="0.467" stop-color="#595959"/><stop offset="0.533" stop-color="#595959"/><stop offset="0.600" stop-color="#595959"/><stop offset="0.667" stop-color="#595959"/><stop offset="0.733" stop-color="#595959"/><stop offset="0.800" stop-color="#595959"/><stop offset="0.867" stop-color="#808080"/><stop offset="0.933" stop-color="#b2b2b2"/><stop offset="1.000" stop-color="#cccccc"/></linearGradient><rect x="265.89" y="143.00" width="49.12" height="2.65" fill="url(#h140)"/><linearGradient id="h141" gradientUnits="userSpaceOnUse" x1="272.03" y1="0" x2="308.87" y2="0"><stop offset="0.000" stop-color="#cccccc"/><stop offset="0.067" stop-color="#cccccc"/><stop offset="0.133" stop-color="#cccccc"/><stop offset="0.200" stop-color="#b2b2b2"/><stop offset="0.267" stop-color="#808080"/><stop offset="0.333" stop-color="#666666"/><stop offset="0.400" stop-color="#666666"/><stop offset="0.467" stop-color="#666666"/><stop offset="0.533" stop-color="#666666"/><stop offset="0.600" stop-color="#666666"/><stop offset="0.667" stop-color="#666666"/><stop offset="0.733" stop-color="#666666"/><stop offset="0.800" stop-color="#666666"/><stop offset="0.867" stop-color="#808080"/><stop offset="0.933" stop-color="#999999"/><stop offset="1.000" stop-color="#cccccc"/></linearGradient><rect x="265.89" y="145.55" width="49.12" height="2.65" fill="url(#h141)"/><linearGradient id="h142" gradientUnits="userSpaceOnUse" x1="272.03" y1="0" x2="308.87" y2="0"><stop offset="0.000" stop-color="#e6e6e6"/><stop offset="0.067" stop-color="#e6e6e6"/><stop offset="0.133" stop-color="#e6e6e6"/><stop offset="0.200" stop-color="#e6e6e6"/><stop offset="0.267" stop-color="#cccccc"/><stop offset="0.333" stop-color="#b2b2b2"/><stop offset="0.400" stop-color="#999999"/><stop offset="0.467" stop-color="#999999"/><stop offset="0.533" stop-color="#999999"/><stop offset="0.600" stop-color="#999999"/><stop offset="0.667" stop-color="#999999"/><stop offset="0.733" stop-color="#999999"/><stop offset="0.800" stop-color="#b2b2b2"/><stop offset="0.867" stop-color="#cccccc"/><stop offset="0.933" stop-color="#e6e6e6"/><stop offset="1.000" stop-color="#e6e6e6"/></linearGradient><rect x="265.89" y="148.10" width="49.12" height="2.65" fill="url(#h142)"/><linearGradient id="h143" gradientUnits="userSpaceOnUse" x1="272.03" y1="0" x2="308.87" y2="0"><stop offset="0.000" stop-color="#e6e6e6"/><stop offset="0.067" stop-color="#e6e6e6"/><stop offset="0.133" stop-color="#e6e6e6"/><stop offset="0.200" stop-color="#e6e6e6"/><stop offset="0.267" stop-color="#e6e6e6"/><stop offset="0.333" stop-color="#cccccc"/><stop offset="0.400" stop-color="#cccccc"/><stop offset="0.467" stop-color="#cccccc"/><stop offset="0.533" stop-color="#cccccc"/><stop offset="0.600" stop-color="#cccccc"/><stop offset="0.667" stop-color="#cccccc"/><stop offset="0.733" stop-color="#d9d9d9"/><stop offset="0.800" stop-color="#e6e6e6"/><stop offset="0.867" stop-color="#e6e6e6"/><stop offset="0.933" stop-color="#e6e6e6"/><stop offset="1.000" stop-color="#e6e6e6"/></linearGradient><rect x="265.89" y="150.65" width="49.12" height="2.65" fill="url(#h143)"/><linearGradient id="h144" gradientUnits="userSpaceOnUse" x1="272.03" y1="0" x2="308.87" y2="0"><stop offset="0.000" stop-color="#f2f2f2"/><stop offset="0.067" stop-color="#f2f2f2"/><stop offset="0.133" stop-color="#f2f2f2"/><stop offset="0.200" stop-color="#f2f2f2"/><stop offset="0.267" stop-color="#e6e6e6"/><stop offset="0.333" stop-color="#e6e6e6"/><stop offset="0.400" stop-color="#e6e6e6"/><stop offset="0.467" stop-color="#e6e6e6"/><stop offset="0.533" stop-color="#e6e6e6"/><stop offset="0.600" stop-color="#e6e6e6"/><stop offset="0.667" stop-color="#e6e6e6"/><stop offset="0.733" stop-color="#e6e6e6"/><stop offset="0.800" stop-color="#e6e6e6"/><stop offset="0.867" stop-color="#e6e6e6"/><stop offset="0.933" stop-color="#e6e6e6"/><stop offset="1.000" stop-color="#f2f2f2"/></linearGradient><rect x="265.89" y="153.20" width="49.12" height="2.65" fill="url(#h144)"/><linearGradient id="h145" gradientUnits="userSpaceOnUse" x1="272.03" y1="0" x2="308.87" y2="0"><stop offset="0.000" stop-color="#f2f2f2"/><stop offset="0.067" stop-color="#f2f2f2"/><stop offset="0.133" stop-color="#f2f2f2"/><stop offset="0.200" stop-color="#f2f2f2"/><stop offset="0.267" stop-color="#e6e6e6"/><stop offset="0.333" stop-color="#e6e6e6"/><stop offset="0.400" stop-color="#e6e6e6"/><stop offset="0.467" stop-color="#e6e6e6"/><stop offset="0.533" stop-color="#e6e6e6"/><stop offset="0.600" stop-color="#e6e6e6"/><stop offset="0.667" stop-color="#e6e6e6"/><stop offset="0.733" stop-color="#e6e6e6"/><stop offset="0.800" stop-color="#e6e6e6"/><stop offset="0.867" stop-color="#e6e6e6"/><stop offset="0.933" stop-color="#e6e6e6"/><stop offset="1.000" stop-color="#f2f2f2"/></linearGradient><rect x="265.89" y="155.75" width="49.12" height="2.65" fill="url(#h145)"/><linearGradient id="h146" gradientUnits="userSpaceOnUse" x1="272.03" y1="0" x2="308.87" y2="0"><stop offset="0.000" stop-color="#f2f2f2"/><stop offset="0.067" stop-color="#f2f2f2"/><stop offset="0.133" stop-color="#f2f2f2"/><stop offset="0.200" stop-color="#f2f2f2"/><stop offset="0.267" stop-color="#e6e6e6"/><stop offset="0.333" stop-color="#e6e6e6"/><stop offset="0.400" stop-color="#e6e6e6"/><stop offset="0.467" stop-color="#e6e6e6"/><stop offset="0.533" stop-color="#e6e6e6"/><stop offset="0.600" stop-color="#e6e6e6"/><stop offset="0.667" stop-color="#e6e6e6"/><stop offset="0.733" stop-color="#e6e6e6"/><stop offset="0.800" stop-color="#e6e6e6"/><stop offset="0.867" stop-color="#e6e6e6"/><stop offset="0.933" stop-color="#e6e6e6"/><stop offset="1.000" stop-color="#f2f2f2"/></linearGradient><rect x="265.89" y="158.30" width="49.12" height="2.65" fill="url(#h146)"/></g></g><text x="142.60" y="97.67" font-size="2.70" text-anchor="end" dominant-baseline="central" fill="#222" >Dist</text><text x="142.60" y="120.97" font-size="2.70" text-anchor="end" dominant-baseline="central" fill="#222" >Prox</text><text x="270.00" y="97.67" font-size="2.70" text-anchor="end" dominant-baseline="central" fill="#222" >Prox</text><text x="270.00" y="120.97" font-size="2.70" text-anchor="end" dominant-baseline="central" fill="#222" >Dist</text><text x="142.60" y="131.88" font-size="2.70" text-anchor="end" dominant-baseline="central" fill="#222" >Dist</text><text x="142.60" y="155.08" font-size="2.70" text-anchor="end" dominant-baseline="central" fill="#222" >Prox</text><text x="270.00" y="131.88" font-size="2.70" text-anchor="end" dominant-baseline="central" fill="#222" >Prox</text><text x="270.00" y="155.08" font-size="2.70" text-anchor="end" dominant-baseline="central" fill="#222" >Dist</text><text x="143.50" y="159.48" font-size="2.70" text-anchor="middle" dominant-baseline="central" fill="#333" >Post</text><text x="153.32" y="159.48" font-size="2.70" text-anchor="middle" dominant-baseline="central" fill="#333" >Left</text><text x="163.15" y="159.48" font-size="2.70" text-anchor="middle" dominant-baseline="central" fill="#333" >Ant</text><text x="172.97" y="159.48" font-size="2.70" text-anchor="middle" dominant-baseline="central" fill="#333" >Right</text><text x="182.80" y="159.48" font-size="2.70" text-anchor="middle" dominant-baseline="central" fill="#333" >Post</text><text x="190.30" y="159.48" font-size="2.70" text-anchor="middle" dominant-baseline="central" fill="#333" >Post</text><text x="200.12" y="159.48" font-size="2.70" text-anchor="middle" dominant-baseline="central" fill="#333" >Left</text><text x="209.95" y="159.48" font-size="2.70" text-anchor="middle" dominant-baseline="central" fill="#333" >Ant</text><text x="219.78" y="159.48" font-size="2.70" text-anchor="middle" dominant-baseline="central" fill="#333" >Right</text><text x="229.60" y="159.48" font-size="2.70" text-anchor="middle" dominant-baseline="central" fill="#333" >Post</text><text x="270.80" y="159.48" font-size="2.70" text-anchor="middle" dominant-baseline="central" fill="#333" >Post</text><text x="280.62" y="159.48" font-size="2.70" text-anchor="middle" dominant-baseline="central" fill="#333" >Left</text><text x="290.45" y="159.48" font-size="2.70" text-anchor="middle" dominant-baseline="central" fill="#333" >Ant</text><text x="300.28" y="159.48" font-size="2.70" text-anchor="middle" dominant-baseline="central" fill="#333" >Right</text><text x="310.10" y="159.48" font-size="2.70" text-anchor="middle" dominant-baseline="central" fill="#333" >Post</text><text x="136.25" y="125.95" font-size="5.00" text-anchor="middle" dominant-baseline="central" fill="#9c9c9c" transform="rotate(-90 136.25 125.95)" >Longitudinal direction</text><text x="263.15" y="125.95" font-size="5.00" text-anchor="middle" dominant-baseline="central" fill="#9c9c9c" transform="rotate(-90 263.15 125.95)" >Longitudinal direction</text><text x="193.00" y="166.70" font-size="4.80" text-anchor="middle" dominant-baseline="central" fill="#999" >Circumferential direction</text><text x="294.50" y="166.70" font-size="4.80" text-anchor="middle" dominant-baseline="central" fill="#999" >Circumferential direction</text><linearGradient id="g147" x1="0" y1="0" x2="0" y2="1"><stop offset="0.000" stop-color="#f5f223"/><stop offset="0.062" stop-color="#f6e327"/><stop offset="0.125" stop-color="#f7cc2c"/><stop offset="0.188" stop-color="#f4b831"/><stop offset="0.250" stop-color="#d3be34"/><stop offset="0.312" stop-color="#acc73b"/><stop offset="0.375" stop-color="#87c44e"/><stop offset="0.438" stop-color="#5cbe71"/><stop offset="0.500" stop-color="#2fb69f"/><stop offset="0.562" stop-color="#1db2bf"/><stop offset="0.625" stop-color="#14aad5"/><stop offset="0.688" stop-color="#149edc"/><stop offset="0.750" stop-color="#218edb"/><stop offset="0.812" stop-color="#317ed4"/><stop offset="0.875" stop-color="#436cc8"/><stop offset="0.938" stop-color="#4d56b0"/><stop offset="1.000" stop-color="#2d2d96"/></linearGradient><rect x="241.20" y="95.60" width="2.30" height="64.10" fill="url(#g147)" stroke="#666" stroke-width="0.15"/><text x="239.60" y="102.90" font-size="4.00" text-anchor="end" dominant-baseline="central" fill="#383838" >2.5</text><text x="239.60" y="114.50" font-size="4.00" text-anchor="end" dominant-baseline="central" fill="#383838" >2</text><text x="239.60" y="126.10" font-size="4.00" text-anchor="end" dominant-baseline="central" fill="#383838" >1.5</text><text x="239.60" y="137.80" font-size="4.00" text-anchor="end" dominant-baseline="central" fill="#383838" >1</text><text x="239.60" y="149.40" font-size="4.00" text-anchor="end" dominant-baseline="central" fill="#383838" >0.5</text><text x="239.60" y="161.00" font-size="4.00" text-anchor="end" dominant-baseline="central" fill="#383838" >0</text><text x="246.62" y="125.50" font-size="3.30" text-anchor="middle" dominant-baseline="central" fill="#444" transform="rotate(-90 246.62 125.50)" >%</text><linearGradient id="g148" x1="0" y1="0" x2="0" y2="1"><stop offset="0.000" stop-color="#f5f223"/><stop offset="0.062" stop-color="#f6e327"/><stop offset="0.125" stop-color="#f7cc2c"/><stop offset="0.188" stop-color="#f4b831"/><stop offset="0.250" stop-color="#d3be34"/><stop offset="0.312" stop-color="#acc73b"/><stop offset="0.375" stop-color="#87c44e"/><stop offset="0.438" stop-color="#5cbe71"/><stop offset="0.500" stop-color="#2fb69f"/><stop offset="0.562" stop-color="#1db2bf"/><stop offset="0.625" stop-color="#14aad5"/><stop offset="0.688" stop-color="#149edc"/><stop offset="0.750" stop-color="#218edb"/><stop offset="0.812" stop-color="#317ed4"/><stop offset="0.875" stop-color="#436cc8"/><stop offset="0.938" stop-color="#4d56b0"/><stop offset="1.000" stop-color="#2d2d96"/></linearGradient><rect x="320.40" y="95.70" width="2.30" height="62.70" fill="url(#g148)" stroke="#666" stroke-width="0.15"/><text x="319.10" y="98.20" font-size="4.00" text-anchor="end" dominant-baseline="central" fill="#383838" >140</text><text x="319.10" y="107.06" font-size="4.00" text-anchor="end" dominant-baseline="central" fill="#383838" >120</text><text x="319.10" y="115.90" font-size="4.00" text-anchor="end" dominant-baseline="central" fill="#383838" >100</text><text x="319.10" y="124.80" font-size="4.00" text-anchor="end" dominant-baseline="central" fill="#383838" >80</text><text x="319.10" y="133.60" font-size="4.00" text-anchor="end" dominant-baseline="central" fill="#383838" >60</text><text x="319.10" y="142.50" font-size="4.00" text-anchor="end" dominant-baseline="central" fill="#383838" >40</text><text x="319.10" y="151.30" font-size="4.00" text-anchor="end" dominant-baseline="central" fill="#383838" >20</text><text x="319.10" y="160.20" font-size="4.00" text-anchor="end" dominant-baseline="central" fill="#383838" >0</text><text x="325.82" y="121.80" font-size="3.30" text-anchor="middle" dominant-baseline="central" fill="#444" transform="rotate(-90 325.82 121.80)" >N cm⁻²</text><rect x="127" y="173.60" width="122.2" height="78.00" rx="3.5" fill="#fff" stroke="#d6d6d6" stroke-width="0.9"/><rect x="126.0" y="173.70" width="6.7" height="77.80" rx="3.3" fill="#919195" stroke="#828286" stroke-width="0.4"/><text x="129.20" y="212.60" font-size="4.40" text-anchor="middle" dominant-baseline="central" fill="#ffffff" transform="rotate(-90 129.20 212.60)" font-weight="bold" letter-spacing="0.3">Expansion</text><rect x="253" y="173.60" width="74.9" height="78.00" rx="3.5" fill="#fff" stroke="#d6d6d6" stroke-width="0.9"/><rect x="251.9" y="173.70" width="6.7" height="77.80" rx="3.3" fill="#919195" stroke="#828286" stroke-width="0.4"/><text x="255.20" y="212.60" font-size="4.40" text-anchor="middle" dominant-baseline="central" fill="#ffffff" transform="rotate(-90 255.20 212.60)" font-weight="bold" letter-spacing="0.3">Rupture Index</text><text x="121.65" y="193.20" font-size="5.00" text-anchor="middle" dominant-baseline="central" fill="#555" transform="rotate(-90 121.65 193.20)" >US</text><text x="121.65" y="226.40" font-size="5.00" text-anchor="middle" dominant-baseline="central" fill="#555" transform="rotate(-90 121.65 226.40)" >CT</text><clipPath id="c149"><rect x="143.50" y="178.60" width="39.30" height="25.40"/></clipPath><g clip-path="url(#c149)"><g filter="url(#par)" shape-rendering="crispEdges"><linearGradient id="h150" gradientUnits="userSpaceOnUse" x1="144.73" y1="0" x2="181.57" y2="0"><stop offset="0.000" stop-color="#000000"/><stop offset="0.067" stop-color="#1a1a1a"/><stop offset="0.133" stop-color="#1a1a1a"/><stop offset="0.200" stop-color="#1a1a1a"/><stop offset="0.267" stop-color="#1a1a1a"/><stop offset="0.333" stop-color="#333333"/><stop offset="0.400" stop-color="#666666"/><stop offset="0.467" stop-color="#999999"/><stop offset="0.533" stop-color="#999999"/><stop offset="0.600" stop-color="#666666"/><stop offset="0.667" stop-color="#333333"/><stop offset="0.733" stop-color="#1a1a1a"/><stop offset="0.800" stop-color="#1a1a1a"/><stop offset="0.867" stop-color="#1a1a1a"/><stop offset="0.933" stop-color="#1a1a1a"/><stop offset="1.000" stop-color="#1a1a1a"/></linearGradient><rect x="138.59" y="173.47" width="49.12" height="2.64" fill="url(#h150)"/><linearGradient id="h151" gradientUnits="userSpaceOnUse" x1="144.73" y1="0" x2="181.57" y2="0"><stop offset="0.000" stop-color="#000000"/><stop offset="0.067" stop-color="#1a1a1a"/><stop offset="0.133" stop-color="#1a1a1a"/><stop offset="0.200" stop-color="#1a1a1a"/><stop offset="0.267" stop-color="#1a1a1a"/><stop offset="0.333" stop-color="#333333"/><stop offset="0.400" stop-color="#666666"/><stop offset="0.467" stop-color="#999999"/><stop offset="0.533" stop-color="#999999"/><stop offset="0.600" stop-color="#666666"/><stop offset="0.667" stop-color="#333333"/><stop offset="0.733" stop-color="#1a1a1a"/><stop offset="0.800" stop-color="#1a1a1a"/><stop offset="0.867" stop-color="#1a1a1a"/><stop offset="0.933" stop-color="#1a1a1a"/><stop offset="1.000" stop-color="#1a1a1a"/></linearGradient><rect x="138.59" y="176.01" width="49.12" height="2.64" fill="url(#h151)"/><linearGradient id="h152" gradientUnits="userSpaceOnUse" x1="144.73" y1="0" x2="181.57" y2="0"><stop offset="0.000" stop-color="#000000"/><stop offset="0.067" stop-color="#1a1a1a"/><stop offset="0.133" stop-color="#1a1a1a"/><stop offset="0.200" stop-color="#1a1a1a"/><stop offset="0.267" stop-color="#1a1a1a"/><stop offset="0.333" stop-color="#333333"/><stop offset="0.400" stop-color="#666666"/><stop offset="0.467" stop-color="#999999"/><stop offset="0.533" stop-color="#999999"/><stop offset="0.600" stop-color="#666666"/><stop offset="0.667" stop-color="#333333"/><stop offset="0.733" stop-color="#1a1a1a"/><stop offset="0.800" stop-color="#1a1a1a"/><stop offset="0.867" stop-color="#1a1a1a"/><stop offset="0.933" stop-color="#1a1a1a"/><stop offset="1.000" stop-color="#1a1a1a"/></linearGradient><rect x="138.59" y="178.55" width="49.12" height="2.64" fill="url(#h152)"/><linearGradient id="h153" gradientUnits="userSpaceOnUse" x1="144.73" y1="0" x2="181.57" y2="0"><stop offset="0.000" stop-color="#000000"/><stop offset="0.067" stop-color="#333333"/><stop offset="0.133" stop-color="#666666"/><stop offset="0.200" stop-color="#666666"/><stop offset="0.267" stop-color="#666666"/><stop offset="0.333" stop-color="#4c4c4c"/><stop offset="0.400" stop-color="#808080"/><stop offset="0.467" stop-color="#e6e6e6"/><stop offset="0.533" stop-color="#e6e6e6"/><stop offset="0.600" stop-color="#999999"/><stop offset="0.667" stop-color="#4c4c4c"/><stop offset="0.733" stop-color="#333333"/><stop offset="0.800" stop-color="#333333"/><stop offset="0.867" stop-color="#333333"/><stop offset="0.933" stop-color="#1a1a1a"/><stop offset="1.000" stop-color="#1a1a1a"/></linearGradient><rect x="138.59" y="181.09" width="49.12" height="2.64" fill="url(#h153)"/><linearGradient id="h154" gradientUnits="userSpaceOnUse" x1="144.73" y1="0" x2="181.57" y2="0"><stop offset="0.000" stop-color="#000000"/><stop offset="0.067" stop-color="#4c4c4c"/><stop offset="0.133" stop-color="#808080"/><stop offset="0.200" stop-color="#999999"/><stop offset="0.267" stop-color="#808080"/><stop offset="0.333" stop-color="#666666"/><stop offset="0.400" stop-color="#666666"/><stop offset="0.467" stop-color="#999999"/><stop offset="0.533" stop-color="#999999"/><stop offset="0.600" stop-color="#808080"/><stop offset="0.667" stop-color="#666666"/><stop offset="0.733" stop-color="#4c4c4c"/><stop offset="0.800" stop-color="#333333"/><stop offset="0.867" stop-color="#333333"/><stop offset="0.933" stop-color="#1a1a1a"/><stop offset="1.000" stop-color="#1a1a1a"/></linearGradient><rect x="138.59" y="183.63" width="49.12" height="2.64" fill="url(#h154)"/><linearGradient id="h155" gradientUnits="userSpaceOnUse" x1="144.73" y1="0" x2="181.57" y2="0"><stop offset="0.000" stop-color="#000000"/><stop offset="0.067" stop-color="#333333"/><stop offset="0.133" stop-color="#666666"/><stop offset="0.200" stop-color="#666666"/><stop offset="0.267" stop-color="#666666"/><stop offset="0.333" stop-color="#666666"/><stop offset="0.400" stop-color="#808080"/><stop offset="0.467" stop-color="#b2b2b2"/><stop offset="0.533" stop-color="#b2b2b2"/><stop offset="0.600" stop-color="#808080"/><stop offset="0.667" stop-color="#666666"/><stop offset="0.733" stop-color="#4c4c4c"/><stop offset="0.800" stop-color="#333333"/><stop offset="0.867" stop-color="#333333"/><stop offset="0.933" stop-color="#1a1a1a"/><stop offset="1.000" stop-color="#1a1a1a"/></linearGradient><rect x="138.59" y="186.17" width="49.12" height="2.64" fill="url(#h155)"/><linearGradient id="h156" gradientUnits="userSpaceOnUse" x1="144.73" y1="0" x2="181.57" y2="0"><stop offset="0.000" stop-color="#000000"/><stop offset="0.067" stop-color="#1a1a1a"/><stop offset="0.133" stop-color="#4c4c4c"/><stop offset="0.200" stop-color="#666666"/><stop offset="0.267" stop-color="#666666"/><stop offset="0.333" stop-color="#666666"/><stop offset="0.400" stop-color="#808080"/><stop offset="0.467" stop-color="#999999"/><stop offset="0.533" stop-color="#999999"/><stop offset="0.600" stop-color="#808080"/><stop offset="0.667" stop-color="#666666"/><stop offset="0.733" stop-color="#4c4c4c"/><stop offset="0.800" stop-color="#333333"/><stop offset="0.867" stop-color="#333333"/><stop offset="0.933" stop-color="#1a1a1a"/><stop offset="1.000" stop-color="#1a1a1a"/></linearGradient><rect x="138.59" y="188.71" width="49.12" height="2.64" fill="url(#h156)"/><linearGradient id="h157" gradientUnits="userSpaceOnUse" x1="144.73" y1="0" x2="181.57" y2="0"><stop offset="0.000" stop-color="#000000"/><stop offset="0.067" stop-color="#333333"/><stop offset="0.133" stop-color="#666666"/><stop offset="0.200" stop-color="#666666"/><stop offset="0.267" stop-color="#4c4c4c"/><stop offset="0.333" stop-color="#333333"/><stop offset="0.400" stop-color="#666666"/><stop offset="0.467" stop-color="#666666"/><stop offset="0.533" stop-color="#666666"/><stop offset="0.600" stop-color="#666666"/><stop offset="0.667" stop-color="#4c4c4c"/><stop offset="0.733" stop-color="#4c4c4c"/><stop offset="0.800" stop-color="#333333"/><stop offset="0.867" stop-color="#333333"/><stop offset="0.933" stop-color="#1a1a1a"/><stop offset="1.000" stop-color="#1a1a1a"/></linearGradient><rect x="138.59" y="191.25" width="49.12" height="2.64" fill="url(#h157)"/><linearGradient id="h158" gradientUnits="userSpaceOnUse" x1="144.73" y1="0" x2="181.57" y2="0"><stop offset="0.000" stop-color="#000000"/><stop offset="0.067" stop-color="#333333"/><stop offset="0.133" stop-color="#808080"/><stop offset="0.200" stop-color="#b2b2b2"/><stop offset="0.267" stop-color="#808080"/><stop offset="0.333" stop-color="#4c4c4c"/><stop offset="0.400" stop-color="#666666"/><stop offset="0.467" stop-color="#b2b2b2"/><stop offset="0.533" stop-color="#cccccc"/><stop offset="0.600" stop-color="#999999"/><stop offset="0.667" stop-color="#4c4c4c"/><stop offset="0.733" stop-color="#4c4c4c"/><stop offset="0.800" stop-color="#333333"/><stop offset="0.867" stop-color="#333333"/><stop offset="0.933" stop-color="#1a1a1a"/><stop offset="1.000" stop-color="#1a1a1a"/></linearGradient><rect x="138.59" y="193.79" width="49.12" height="2.64" fill="url(#h158)"/><linearGradient id="h159" gradientUnits="userSpaceOnUse" x1="144.73" y1="0" x2="181.57" y2="0"><stop offset="0.000" stop-color="#000000"/><stop offset="0.067" stop-color="#333333"/><stop offset="0.133" stop-color="#4c4c4c"/><stop offset="0.200" stop-color="#4c4c4c"/><stop offset="0.267" stop-color="#4c4c4c"/><stop offset="0.333" stop-color="#4c4c4c"/><stop offset="0.400" stop-color="#666666"/><stop offset="0.467" stop-color="#808080"/><stop offset="0.533" stop-color="#e6e6e6"/><stop offset="0.600" stop-color="#ffffff"/><stop offset="0.667" stop-color="#cccccc"/><stop offset="0.733" stop-color="#666666"/><stop offset="0.800" stop-color="#333333"/><stop offset="0.867" stop-color="#333333"/><stop offset="0.933" stop-color="#1a1a1a"/><stop offset="1.000" stop-color="#1a1a1a"/></linearGradient><rect x="138.59" y="196.33" width="49.12" height="2.64" fill="url(#h159)"/><linearGradient id="h160" gradientUnits="userSpaceOnUse" x1="144.73" y1="0" x2="181.57" y2="0"><stop offset="0.000" stop-color="#000000"/><stop offset="0.067" stop-color="#1a1a1a"/><stop offset="0.133" stop-color="#333333"/><stop offset="0.200" stop-color="#333333"/><stop offset="0.267" stop-color="#333333"/><stop offset="0.333" stop-color="#333333"/><stop offset="0.400" stop-color="#666666"/><stop offset="0.467" stop-color="#cccccc"/><stop offset="0.533" stop-color="#e6e6e6"/><stop offset="0.600" stop-color="#b2b2b2"/><stop offset="0.667" stop-color="#4c4c4c"/><stop offset="0.733" stop-color="#1a1a1a"/><stop offset="0.800" stop-color="#1a1a1a"/><stop offset="0.867" stop-color="#1a1a1a"/><stop offset="0.933" stop-color="#1a1a1a"/><stop offset="1.000" stop-color="#1a1a1a"/></linearGradient><rect x="138.59" y="198.87" width="49.12" height="2.64" fill="url(#h160)"/><linearGradient id="h161" gradientUnits="userSpaceOnUse" x1="144.73" y1="0" x2="181.57" y2="0"><stop offset="0.000" stop-color="#000000"/><stop offset="0.067" stop-color="#1a1a1a"/><stop offset="0.133" stop-color="#1a1a1a"/><stop offset="0.200" stop-color="#1a1a1a"/><stop offset="0.267" stop-color="#1a1a1a"/><stop offset="0.333" stop-color="#1a1a1a"/><stop offset="0.400" stop-color="#4c4c4c"/><stop offset="0.467" stop-color="#808080"/><stop offset="0.533" stop-color="#999999"/><stop offset="0.600" stop-color="#666666"/><stop offset="0.667" stop-color="#333333"/><stop offset="0.733" stop-color="#1a1a1a"/><stop offset="0.800" stop-color="#1a1a1a"/><stop offset="0.867" stop-color="#1a1a1a"/><stop offset="0.933" stop-color="#1a1a1a"/><stop offset="1.000" stop-color="#000000"/></linearGradient><rect x="138.59" y="201.41" width="49.12" height="2.64" fill="url(#h161)"/><linearGradient id="h162" gradientUnits="userSpaceOnUse" x1="144.73" y1="0" x2="181.57" y2="0"><stop offset="0.000" stop-color="#000000"/><stop offset="0.067" stop-color="#1a1a1a"/><stop offset="0.133" stop-color="#1a1a1a"/><stop offset="0.200" stop-color="#1a1a1a"/><stop offset="0.267" stop-color="#1a1a1a"/><stop offset="0.333" stop-color="#1a1a1a"/><stop offset="0.400" stop-color="#4c4c4c"/><stop offset="0.467" stop-color="#808080"/><stop offset="0.533" stop-color="#999999"/><stop offset="0.600" stop-color="#666666"/><stop offset="0.667" stop-color="#333333"/><stop offset="0.733" stop-color="#1a1a1a"/><stop offset="0.800" stop-color="#1a1a1a"/><stop offset="0.867" stop-color="#1a1a1a"/><stop offset="0.933" stop-color="#1a1a1a"/><stop offset="1.000" stop-color="#000000"/></linearGradient><rect x="138.59" y="203.95" width="49.12" height="2.64" fill="url(#h162)"/><linearGradient id="h163" gradientUnits="userSpaceOnUse" x1="144.73" y1="0" x2="181.57" y2="0"><stop offset="0.000" stop-color="#000000"/><stop offset="0.067" stop-color="#1a1a1a"/><stop offset="0.133" stop-color="#1a1a1a"/><stop offset="0.200" stop-color="#1a1a1a"/><stop offset="0.267" stop-color="#1a1a1a"/><stop offset="0.333" stop-color="#1a1a1a"/><stop offset="0.400" stop-color="#4c4c4c"/><stop offset="0.467" stop-color="#808080"/><stop offset="0.533" stop-color="#999999"/><stop offset="0.600" stop-color="#666666"/><stop offset="0.667" stop-color="#333333"/><stop offset="0.733" stop-color="#1a1a1a"/><stop offset="0.800" stop-color="#1a1a1a"/><stop offset="0.867" stop-color="#1a1a1a"/><stop offset="0.933" stop-color="#1a1a1a"/><stop offset="1.000" stop-color="#000000"/></linearGradient><rect x="138.59" y="206.49" width="49.12" height="2.64" fill="url(#h163)"/><rect x="143.50" y="178.60" width="39.30" height="25.40" fill="none" stroke="#000000" stroke-width="1.60"/></g></g><clipPath id="c164"><rect x="190.30" y="178.60" width="39.30" height="25.40"/></clipPath><g clip-path="url(#c164)"><g filter="url(#par)" shape-rendering="crispEdges"><linearGradient id="h165" gradientUnits="userSpaceOnUse" x1="191.53" y1="0" x2="228.37" y2="0"><stop offset="0.000" stop-color="#000000"/><stop offset="0.067" stop-color="#1a1a1a"/><stop offset="0.133" stop-color="#1a1a1a"/><stop offset="0.200" stop-color="#1a1a1a"/><stop offset="0.267" stop-color="#1a1a1a"/><stop offset="0.333" stop-color="#1a1a1a"/><stop offset="0.400" stop-color="#4c4c4c"/><stop offset="0.467" stop-color="#666666"/><stop offset="0.533" stop-color="#808080"/><stop offset="0.600" stop-color="#666666"/><stop offset="0.667" stop-color="#333333"/><stop offset="0.733" stop-color="#1a1a1a"/><stop offset="0.800" stop-color="#1a1a1a"/><stop offset="0.867" stop-color="#1a1a1a"/><stop offset="0.933" stop-color="#1a1a1a"/><stop offset="1.000" stop-color="#000000"/></linearGradient><rect x="185.39" y="173.47" width="49.12" height="2.64" fill="url(#h165)"/><linearGradient id="h166" gradientUnits="userSpaceOnUse" x1="191.53" y1="0" x2="228.37" y2="0"><stop offset="0.000" stop-color="#000000"/><stop offset="0.067" stop-color="#1a1a1a"/><stop offset="0.133" stop-color="#1a1a1a"/><stop offset="0.200" stop-color="#1a1a1a"/><stop offset="0.267" stop-color="#1a1a1a"/><stop offset="0.333" stop-color="#1a1a1a"/><stop offset="0.400" stop-color="#4c4c4c"/><stop offset="0.467" stop-color="#666666"/><stop offset="0.533" stop-color="#808080"/><stop offset="0.600" stop-color="#666666"/><stop offset="0.667" stop-color="#333333"/><stop offset="0.733" stop-color="#1a1a1a"/><stop offset="0.800" stop-color="#1a1a1a"/><stop offset="0.867" stop-color="#1a1a1a"/><stop offset="0.933" stop-color="#1a1a1a"/><stop offset="1.000" stop-color="#000000"/></linearGradient><rect x="185.39" y="176.01" width="49.12" height="2.64" fill="url(#h166)"/><linearGradient id="h167" gradientUnits="userSpaceOnUse" x1="191.53" y1="0" x2="228.37" y2="0"><stop offset="0.000" stop-color="#000000"/><stop offset="0.067" stop-color="#1a1a1a"/><stop offset="0.133" stop-color="#1a1a1a"/><stop offset="0.200" stop-color="#1a1a1a"/><stop offset="0.267" stop-color="#1a1a1a"/><stop offset="0.333" stop-color="#1a1a1a"/><stop offset="0.400" stop-color="#4c4c4c"/><stop offset="0.467" stop-color="#666666"/><stop offset="0.533" stop-color="#808080"/><stop offset="0.600" stop-color="#666666"/><stop offset="0.667" stop-color="#333333"/><stop offset="0.733" stop-color="#1a1a1a"/><stop offset="0.800" stop-color="#1a1a1a"/><stop offset="0.867" stop-color="#1a1a1a"/><stop offset="0.933" stop-color="#1a1a1a"/><stop offset="1.000" stop-color="#000000"/></linearGradient><rect x="185.39" y="178.55" width="49.12" height="2.64" fill="url(#h167)"/><linearGradient id="h168" gradientUnits="userSpaceOnUse" x1="191.53" y1="0" x2="228.37" y2="0"><stop offset="0.000" stop-color="#000000"/><stop offset="0.067" stop-color="#1a1a1a"/><stop offset="0.133" stop-color="#333333"/><stop offset="0.200" stop-color="#333333"/><stop offset="0.267" stop-color="#1a1a1a"/><stop offset="0.333" stop-color="#333333"/><stop offset="0.400" stop-color="#666666"/><stop offset="0.467" stop-color="#999999"/><stop offset="0.533" stop-color="#999999"/><stop offset="0.600" stop-color="#666666"/><stop offset="0.667" stop-color="#4c4c4c"/><stop offset="0.733" stop-color="#1a1a1a"/><stop offset="0.800" stop-color="#1a1a1a"/><stop offset="0.867" stop-color="#1a1a1a"/><stop offset="0.933" stop-color="#1a1a1a"/><stop offset="1.000" stop-color="#000000"/></linearGradient><rect x="185.39" y="181.09" width="49.12" height="2.64" fill="url(#h168)"/><linearGradient id="h169" gradientUnits="userSpaceOnUse" x1="191.53" y1="0" x2="228.37" y2="0"><stop offset="0.000" stop-color="#000000"/><stop offset="0.067" stop-color="#4c4c4c"/><stop offset="0.133" stop-color="#666666"/><stop offset="0.200" stop-color="#4c4c4c"/><stop offset="0.267" stop-color="#1a1a1a"/><stop offset="0.333" stop-color="#333333"/><stop offset="0.400" stop-color="#666666"/><stop offset="0.467" stop-color="#808080"/><stop offset="0.533" stop-color="#808080"/><stop offset="0.600" stop-color="#666666"/><stop offset="0.667" stop-color="#4c4c4c"/><stop offset="0.733" stop-color="#333333"/><stop offset="0.800" stop-color="#1a1a1a"/><stop offset="0.867" stop-color="#1a1a1a"/><stop offset="0.933" stop-color="#1a1a1a"/><stop offset="1.000" stop-color="#000000"/></linearGradient><rect x="185.39" y="183.63" width="49.12" height="2.64" fill="url(#h169)"/><linearGradient id="h170" gradientUnits="userSpaceOnUse" x1="191.53" y1="0" x2="228.37" y2="0"><stop offset="0.000" stop-color="#000000"/><stop offset="0.067" stop-color="#1a1a1a"/><stop offset="0.133" stop-color="#333333"/><stop offset="0.200" stop-color="#333333"/><stop offset="0.267" stop-color="#1a1a1a"/><stop offset="0.333" stop-color="#4c4c4c"/><stop offset="0.400" stop-color="#666666"/><stop offset="0.467" stop-color="#808080"/><stop offset="0.533" stop-color="#808080"/><stop offset="0.600" stop-color="#666666"/><stop offset="0.667" stop-color="#4c4c4c"/><stop offset="0.733" stop-color="#333333"/><stop offset="0.800" stop-color="#1a1a1a"/><stop offset="0.867" stop-color="#1a1a1a"/><stop offset="0.933" stop-color="#1a1a1a"/><stop offset="1.000" stop-color="#000000"/></linearGradient><rect x="185.39" y="186.17" width="49.12" height="2.64" fill="url(#h170)"/><linearGradient id="h171" gradientUnits="userSpaceOnUse" x1="191.53" y1="0" x2="228.37" y2="0"><stop offset="0.000" stop-color="#000000"/><stop offset="0.067" stop-color="#1a1a1a"/><stop offset="0.133" stop-color="#1a1a1a"/><stop offset="0.200" stop-color="#1a1a1a"/><stop offset="0.267" stop-color="#333333"/><stop offset="0.333" stop-color="#4c4c4c"/><stop offset="0.400" stop-color="#666666"/><stop offset="0.467" stop-color="#808080"/><stop offset="0.533" stop-color="#808080"/><stop offset="0.600" stop-color="#666666"/><stop offset="0.667" stop-color="#4c4c4c"/><stop offset="0.733" stop-color="#333333"/><stop offset="0.800" stop-color="#1a1a1a"/><stop offset="0.867" stop-color="#1a1a1a"/><stop offset="0.933" stop-color="#1a1a1a"/><stop offset="1.000" stop-color="#000000"/></linearGradient><rect x="185.39" y="188.71" width="49.12" height="2.64" fill="url(#h171)"/><linearGradient id="h172" gradientUnits="userSpaceOnUse" x1="191.53" y1="0" x2="228.37" y2="0"><stop offset="0.000" stop-color="#000000"/><stop offset="0.067" stop-color="#333333"/><stop offset="0.133" stop-color="#666666"/><stop offset="0.200" stop-color="#4c4c4c"/><stop offset="0.267" stop-color="#333333"/><stop offset="0.333" stop-color="#4c4c4c"/><stop offset="0.400" stop-color="#666666"/><stop offset="0.467" stop-color="#666666"/><stop offset="0.533" stop-color="#666666"/><stop offset="0.600" stop-color="#666666"/><stop offset="0.667" stop-color="#4c4c4c"/><stop offset="0.733" stop-color="#333333"/><stop offset="0.800" stop-color="#1a1a1a"/><stop offset="0.867" stop-color="#1a1a1a"/><stop offset="0.933" stop-color="#1a1a1a"/><stop offset="1.000" stop-color="#000000"/></linearGradient><rect x="185.39" y="191.25" width="49.12" height="2.64" fill="url(#h172)"/><linearGradient id="h173" gradientUnits="userSpaceOnUse" x1="191.53" y1="0" x2="228.37" y2="0"><stop offset="0.000" stop-color="#000000"/><stop offset="0.067" stop-color="#4c4c4c"/><stop offset="0.133" stop-color="#808080"/><stop offset="0.200" stop-color="#808080"/><stop offset="0.267" stop-color="#4c4c4c"/><stop offset="0.333" stop-color="#4c4c4c"/><stop offset="0.400" stop-color="#666666"/><stop offset="0.467" stop-color="#808080"/><stop offset="0.533" stop-color="#808080"/><stop offset="0.600" stop-color="#666666"/><stop offset="0.667" stop-color="#4c4c4c"/><stop offset="0.733" stop-color="#333333"/><stop offset="0.800" stop-color="#1a1a1a"/><stop offset="0.867" stop-color="#1a1a1a"/><stop offset="0.933" stop-color="#1a1a1a"/><stop offset="1.000" stop-color="#000000"/></linearGradient><rect x="185.39" y="193.79" width="49.12" height="2.64" fill="url(#h173)"/><linearGradient id="h174" gradientUnits="userSpaceOnUse" x1="191.53" y1="0" x2="228.37" y2="0"><stop offset="0.000" stop-color="#000000"/><stop offset="0.067" stop-color="#333333"/><stop offset="0.133" stop-color="#666666"/><stop offset="0.200" stop-color="#4c4c4c"/><stop offset="0.267" stop-color="#333333"/><stop offset="0.333" stop-color="#4c4c4c"/><stop offset="0.400" stop-color="#666666"/><stop offset="0.467" stop-color="#999999"/><stop offset="0.533" stop-color="#b2b2b2"/><stop offset="0.600" stop-color="#808080"/><stop offset="0.667" stop-color="#4c4c4c"/><stop offset="0.733" stop-color="#333333"/><stop offset="0.800" stop-color="#1a1a1a"/><stop offset="0.867" stop-color="#1a1a1a"/><stop offset="0.933" stop-color="#1a1a1a"/><stop offset="1.000" stop-color="#000000"/></linearGradient><rect x="185.39" y="196.33" width="49.12" height="2.64" fill="url(#h174)"/><linearGradient id="h175" gradientUnits="userSpaceOnUse" x1="191.53" y1="0" x2="228.37" y2="0"><stop offset="0.000" stop-color="#000000"/><stop offset="0.067" stop-color="#1a1a1a"/><stop offset="0.133" stop-color="#1a1a1a"/><stop offset="0.200" stop-color="#1a1a1a"/><stop offset="0.267" stop-color="#1a1a1a"/><stop offset="0.333" stop-color="#4c4c4c"/><stop offset="0.400" stop-color="#666666"/><stop offset="0.467" stop-color="#999999"/><stop offset="0.533" stop-color="#b2b2b2"/><stop offset="0.600" stop-color="#808080"/><stop offset="0.667" stop-color="#4c4c4c"/><stop offset="0.733" stop-color="#1a1a1a"/><stop offset="0.800" stop-color="#1a1a1a"/><stop offset="0.867" stop-color="#1a1a1a"/><stop offset="0.933" stop-color="#1a1a1a"/><stop offset="1.000" stop-color="#000000"/></linearGradient><rect x="185.39" y="198.87" width="49.12" height="2.64" fill="url(#h175)"/><linearGradient id="h176" gradientUnits="userSpaceOnUse" x1="191.53" y1="0" x2="228.37" y2="0"><stop offset="0.000" stop-color="#000000"/><stop offset="0.067" stop-color="#1a1a1a"/><stop offset="0.133" stop-color="#1a1a1a"/><stop offset="0.200" stop-color="#1a1a1a"/><stop offset="0.267" stop-color="#1a1a1a"/><stop offset="0.333" stop-color="#333333"/><stop offset="0.400" stop-color="#4c4c4c"/><stop offset="0.467" stop-color="#666666"/><stop offset="0.533" stop-color="#666666"/><stop offset="0.600" stop-color="#4c4c4c"/><stop offset="0.667" stop-color="#333333"/><stop offset="0.733" stop-color="#1a1a1a"/><stop offset="0.800" stop-color="#1a1a1a"/><stop offset="0.867" stop-color="#1a1a1a"/><stop offset="0.933" stop-color="#1a1a1a"/><stop offset="1.000" stop-color="#000000"/></linearGradient><rect x="185.39" y="201.41" width="49.12" height="2.64" fill="url(#h176)"/><linearGradient id="h177" gradientUnits="userSpaceOnUse" x1="191.53" y1="0" x2="228.37" y2="0"><stop offset="0.000" stop-color="#000000"/><stop offset="0.067" stop-color="#1a1a1a"/><stop offset="0.133" stop-color="#1a1a1a"/><stop offset="0.200" stop-color="#1a1a1a"/><stop offset="0.267" stop-color="#1a1a1a"/><stop offset="0.333" stop-color="#333333"/><stop offset="0.400" stop-color="#4c4c4c"/><stop offset="0.467" stop-color="#666666"/><stop offset="0.533" stop-color="#666666"/><stop offset="0.600" stop-color="#4c4c4c"/><stop offset="0.667" stop-color="#333333"/><stop offset="0.733" stop-color="#1a1a1a"/><stop offset="0.800" stop-color="#1a1a1a"/><stop offset="0.867" stop-color="#1a1a1a"/><stop offset="0.933" stop-color="#1a1a1a"/><stop offset="1.000" stop-color="#000000"/></linearGradient><rect x="185.39" y="203.95" width="49.12" height="2.64" fill="url(#h177)"/><linearGradient id="h178" gradientUnits="userSpaceOnUse" x1="191.53" y1="0" x2="228.37" y2="0"><stop offset="0.000" stop-color="#000000"/><stop offset="0.067" stop-color="#1a1a1a"/><stop offset="0.133" stop-color="#1a1a1a"/><stop offset="0.200" stop-color="#1a1a1a"/><stop offset="0.267" stop-color="#1a1a1a"/><stop offset="0.333" stop-color="#333333"/><stop offset="0.400" stop-color="#4c4c4c"/><stop offset="0.467" stop-color="#666666"/><stop offset="0.533" stop-color="#666666"/><stop offset="0.600" stop-color="#4c4c4c"/><stop offset="0.667" stop-color="#333333"/><stop offset="0.733" stop-color="#1a1a1a"/><stop offset="0.800" stop-color="#1a1a1a"/><stop offset="0.867" stop-color="#1a1a1a"/><stop offset="0.933" stop-color="#1a1a1a"/><stop offset="1.000" stop-color="#000000"/></linearGradient><rect x="185.39" y="206.49" width="49.12" height="2.64" fill="url(#h178)"/><rect x="190.30" y="178.60" width="39.30" height="25.40" fill="none" stroke="#000000" stroke-width="1.60"/></g></g><clipPath id="c179"><rect x="143.50" y="211.90" width="39.30" height="24.90"/></clipPath><g clip-path="url(#c179)"><g filter="url(#par)" shape-rendering="crispEdges"><linearGradient id="h180" gradientUnits="userSpaceOnUse" x1="144.73" y1="0" x2="181.57" y2="0"><stop offset="0.000" stop-color="#000000"/><stop offset="0.067" stop-color="#1a1a1a"/><stop offset="0.133" stop-color="#1a1a1a"/><stop offset="0.200" stop-color="#1a1a1a"/><stop offset="0.267" stop-color="#1a1a1a"/><stop offset="0.333" stop-color="#333333"/><stop offset="0.400" stop-color="#4c4c4c"/><stop offset="0.467" stop-color="#666666"/><stop offset="0.533" stop-color="#666666"/><stop offset="0.600" stop-color="#4c4c4c"/><stop offset="0.667" stop-color="#333333"/><stop offset="0.733" stop-color="#1a1a1a"/><stop offset="0.800" stop-color="#1a1a1a"/><stop offset="0.867" stop-color="#1a1a1a"/><stop offset="0.933" stop-color="#1a1a1a"/><stop offset="1.000" stop-color="#000000"/></linearGradient><rect x="138.59" y="206.87" width="49.12" height="2.59" fill="url(#h180)"/><linearGradient id="h181" gradientUnits="userSpaceOnUse" x1="144.73" y1="0" x2="181.57" y2="0"><stop offset="0.000" stop-color="#000000"/><stop offset="0.067" stop-color="#1a1a1a"/><stop offset="0.133" stop-color="#1a1a1a"/><stop offset="0.200" stop-color="#1a1a1a"/><stop offset="0.267" stop-color="#1a1a1a"/><stop offset="0.333" stop-color="#333333"/><stop offset="0.400" stop-color="#4c4c4c"/><stop offset="0.467" stop-color="#666666"/><stop offset="0.533" stop-color="#666666"/><stop offset="0.600" stop-color="#4c4c4c"/><stop offset="0.667" stop-color="#333333"/><stop offset="0.733" stop-color="#1a1a1a"/><stop offset="0.800" stop-color="#1a1a1a"/><stop offset="0.867" stop-color="#1a1a1a"/><stop offset="0.933" stop-color="#1a1a1a"/><stop offset="1.000" stop-color="#000000"/></linearGradient><rect x="138.59" y="209.36" width="49.12" height="2.59" fill="url(#h181)"/><linearGradient id="h182" gradientUnits="userSpaceOnUse" x1="144.73" y1="0" x2="181.57" y2="0"><stop offset="0.000" stop-color="#000000"/><stop offset="0.067" stop-color="#1a1a1a"/><stop offset="0.133" stop-color="#1a1a1a"/><stop offset="0.200" stop-color="#1a1a1a"/><stop offset="0.267" stop-color="#1a1a1a"/><stop offset="0.333" stop-color="#333333"/><stop offset="0.400" stop-color="#4c4c4c"/><stop offset="0.467" stop-color="#666666"/><stop offset="0.533" stop-color="#666666"/><stop offset="0.600" stop-color="#4c4c4c"/><stop offset="0.667" stop-color="#333333"/><stop offset="0.733" stop-color="#1a1a1a"/><stop offset="0.800" stop-color="#1a1a1a"/><stop offset="0.867" stop-color="#1a1a1a"/><stop offset="0.933" stop-color="#1a1a1a"/><stop offset="1.000" stop-color="#000000"/></linearGradient><rect x="138.59" y="211.85" width="49.12" height="2.59" fill="url(#h182)"/><linearGradient id="h183" gradientUnits="userSpaceOnUse" x1="144.73" y1="0" x2="181.57" y2="0"><stop offset="0.000" stop-color="#000000"/><stop offset="0.067" stop-color="#1a1a1a"/><stop offset="0.133" stop-color="#1a1a1a"/><stop offset="0.200" stop-color="#1a1a1a"/><stop offset="0.267" stop-color="#333333"/><stop offset="0.333" stop-color="#666666"/><stop offset="0.400" stop-color="#999999"/><stop offset="0.467" stop-color="#e6e6e6"/><stop offset="0.533" stop-color="#cccccc"/><stop offset="0.600" stop-color="#808080"/><stop offset="0.667" stop-color="#4c4c4c"/><stop offset="0.733" stop-color="#333333"/><stop offset="0.800" stop-color="#1a1a1a"/><stop offset="0.867" stop-color="#1a1a1a"/><stop offset="0.933" stop-color="#1a1a1a"/><stop offset="1.000" stop-color="#000000"/></linearGradient><rect x="138.59" y="214.34" width="49.12" height="2.59" fill="url(#h183)"/><linearGradient id="h184" gradientUnits="userSpaceOnUse" x1="144.73" y1="0" x2="181.57" y2="0"><stop offset="0.000" stop-color="#000000"/><stop offset="0.067" stop-color="#1a1a1a"/><stop offset="0.133" stop-color="#1a1a1a"/><stop offset="0.200" stop-color="#333333"/><stop offset="0.267" stop-color="#4c4c4c"/><stop offset="0.333" stop-color="#4c4c4c"/><stop offset="0.400" stop-color="#666666"/><stop offset="0.467" stop-color="#808080"/><stop offset="0.533" stop-color="#808080"/><stop offset="0.600" stop-color="#666666"/><stop offset="0.667" stop-color="#4c4c4c"/><stop offset="0.733" stop-color="#4c4c4c"/><stop offset="0.800" stop-color="#333333"/><stop offset="0.867" stop-color="#333333"/><stop offset="0.933" stop-color="#1a1a1a"/><stop offset="1.000" stop-color="#000000"/></linearGradient><rect x="138.59" y="216.83" width="49.12" height="2.59" fill="url(#h184)"/><linearGradient id="h185" gradientUnits="userSpaceOnUse" x1="144.73" y1="0" x2="181.57" y2="0"><stop offset="0.000" stop-color="#000000"/><stop offset="0.067" stop-color="#1a1a1a"/><stop offset="0.133" stop-color="#1a1a1a"/><stop offset="0.200" stop-color="#4c4c4c"/><stop offset="0.267" stop-color="#666666"/><stop offset="0.333" stop-color="#666666"/><stop offset="0.400" stop-color="#666666"/><stop offset="0.467" stop-color="#666666"/><stop offset="0.533" stop-color="#808080"/><stop offset="0.600" stop-color="#808080"/><stop offset="0.667" stop-color="#666666"/><stop offset="0.733" stop-color="#4c4c4c"/><stop offset="0.800" stop-color="#4c4c4c"/><stop offset="0.867" stop-color="#333333"/><stop offset="0.933" stop-color="#1a1a1a"/><stop offset="1.000" stop-color="#000000"/></linearGradient><rect x="138.59" y="219.32" width="49.12" height="2.59" fill="url(#h185)"/><linearGradient id="h186" gradientUnits="userSpaceOnUse" x1="144.73" y1="0" x2="181.57" y2="0"><stop offset="0.000" stop-color="#000000"/><stop offset="0.067" stop-color="#1a1a1a"/><stop offset="0.133" stop-color="#333333"/><stop offset="0.200" stop-color="#666666"/><stop offset="0.267" stop-color="#666666"/><stop offset="0.333" stop-color="#666666"/><stop offset="0.400" stop-color="#666666"/><stop offset="0.467" stop-color="#666666"/><stop offset="0.533" stop-color="#666666"/><stop offset="0.600" stop-color="#666666"/><stop offset="0.667" stop-color="#666666"/><stop offset="0.733" stop-color="#4c4c4c"/><stop offset="0.800" stop-color="#4c4c4c"/><stop offset="0.867" stop-color="#333333"/><stop offset="0.933" stop-color="#1a1a1a"/><stop offset="1.000" stop-color="#000000"/></linearGradient><rect x="138.59" y="221.81" width="49.12" height="2.59" fill="url(#h186)"/><linearGradient id="h187" gradientUnits="userSpaceOnUse" x1="144.73" y1="0" x2="181.57" y2="0"><stop offset="0.000" stop-color="#000000"/><stop offset="0.067" stop-color="#1a1a1a"/><stop offset="0.133" stop-color="#333333"/><stop offset="0.200" stop-color="#666666"/><stop offset="0.267" stop-color="#666666"/><stop offset="0.333" stop-color="#666666"/><stop offset="0.400" stop-color="#666666"/><stop offset="0.467" stop-color="#666666"/><stop offset="0.533" stop-color="#666666"/><stop offset="0.600" stop-color="#666666"/><stop offset="0.667" stop-color="#4c4c4c"/><stop offset="0.733" stop-color="#4c4c4c"/><stop offset="0.800" stop-color="#333333"/><stop offset="0.867" stop-color="#333333"/><stop offset="0.933" stop-color="#1a1a1a"/><stop offset="1.000" stop-color="#000000"/></linearGradient><rect x="138.59" y="224.30" width="49.12" height="2.59" fill="url(#h187)"/><linearGradient id="h188" gradientUnits="userSpaceOnUse" x1="144.73" y1="0" x2="181.57" y2="0"><stop offset="0.000" stop-color="#000000"/><stop offset="0.067" stop-color="#1a1a1a"/><stop offset="0.133" stop-color="#1a1a1a"/><stop offset="0.200" stop-color="#4c4c4c"/><stop offset="0.267" stop-color="#666666"/><stop offset="0.333" stop-color="#666666"/><stop offset="0.400" stop-color="#666666"/><stop offset="0.467" stop-color="#666666"/><stop offset="0.533" stop-color="#666666"/><stop offset="0.600" stop-color="#666666"/><stop offset="0.667" stop-color="#4c4c4c"/><stop offset="0.733" stop-color="#4c4c4c"/><stop offset="0.800" stop-color="#333333"/><stop offset="0.867" stop-color="#1a1a1a"/><stop offset="0.933" stop-color="#1a1a1a"/><stop offset="1.000" stop-color="#000000"/></linearGradient><rect x="138.59" y="226.79" width="49.12" height="2.59" fill="url(#h188)"/><linearGradient id="h189" gradientUnits="userSpaceOnUse" x1="144.73" y1="0" x2="181.57" y2="0"><stop offset="0.000" stop-color="#000000"/><stop offset="0.067" stop-color="#1a1a1a"/><stop offset="0.133" stop-color="#1a1a1a"/><stop offset="0.200" stop-color="#333333"/><stop offset="0.267" stop-color="#333333"/><stop offset="0.333" stop-color="#4c4c4c"/><stop offset="0.400" stop-color="#666666"/><stop offset="0.467" stop-color="#666666"/><stop offset="0.533" stop-color="#666666"/><stop offset="0.600" stop-color="#808080"/><stop offset="0.667" stop-color="#666666"/><stop offset="0.733" stop-color="#4c4c4c"/><stop offset="0.800" stop-color="#333333"/><stop offset="0.867" stop-color="#1a1a1a"/><stop offset="0.933" stop-color="#1a1a1a"/><stop offset="1.000" stop-color="#000000"/></linearGradient><rect x="138.59" y="229.28" width="49.12" height="2.59" fill="url(#h189)"/><linearGradient id="h190" gradientUnits="userSpaceOnUse" x1="144.73" y1="0" x2="181.57" y2="0"><stop offset="0.000" stop-color="#000000"/><stop offset="0.067" stop-color="#1a1a1a"/><stop offset="0.133" stop-color="#1a1a1a"/><stop offset="0.200" stop-color="#1a1a1a"/><stop offset="0.267" stop-color="#1a1a1a"/><stop offset="0.333" stop-color="#333333"/><stop offset="0.400" stop-color="#4c4c4c"/><stop offset="0.467" stop-color="#666666"/><stop offset="0.533" stop-color="#b2b2b2"/><stop offset="0.600" stop-color="#e6e6e6"/><stop offset="0.667" stop-color="#999999"/><stop offset="0.733" stop-color="#4c4c4c"/><stop offset="0.800" stop-color="#333333"/><stop offset="0.867" stop-color="#1a1a1a"/><stop offset="0.933" stop-color="#1a1a1a"/><stop offset="1.000" stop-color="#000000"/></linearGradient><rect x="138.59" y="231.77" width="49.12" height="2.59" fill="url(#h190)"/><linearGradient id="h191" gradientUnits="userSpaceOnUse" x1="144.73" y1="0" x2="181.57" y2="0"><stop offset="0.000" stop-color="#000000"/><stop offset="0.067" stop-color="#1a1a1a"/><stop offset="0.133" stop-color="#1a1a1a"/><stop offset="0.200" stop-color="#1a1a1a"/><stop offset="0.267" stop-color="#1a1a1a"/><stop offset="0.333" stop-color="#1a1a1a"/><stop offset="0.400" stop-color="#333333"/><stop offset="0.467" stop-color="#4c4c4c"/><stop offset="0.533" stop-color="#666666"/><stop offset="0.600" stop-color="#666666"/><stop offset="0.667" stop-color="#4c4c4c"/><stop offset="0.733" stop-color="#333333"/><stop offset="0.800" stop-color="#1a1a1a"/><stop offset="0.867" stop-color="#1a1a1a"/><stop offset="0.933" stop-color="#1a1a1a"/><stop offset="1.000" stop-color="#000000"/></linearGradient><rect x="138.59" y="234.26" width="49.12" height="2.59" fill="url(#h191)"/><linearGradient id="h192" gradientUnits="userSpaceOnUse" x1="144.73" y1="0" x2="181.57" y2="0"><stop offset="0.000" stop-color="#000000"/><stop offset="0.067" stop-color="#1a1a1a"/><stop offset="0.133" stop-color="#1a1a1a"/><stop offset="0.200" stop-color="#1a1a1a"/><stop offset="0.267" stop-color="#1a1a1a"/><stop offset="0.333" stop-color="#1a1a1a"/><stop offset="0.400" stop-color="#333333"/><stop offset="0.467" stop-color="#4c4c4c"/><stop offset="0.533" stop-color="#666666"/><stop offset="0.600" stop-color="#666666"/><stop offset="0.667" stop-color="#4c4c4c"/><stop offset="0.733" stop-color="#333333"/><stop offset="0.800" stop-color="#1a1a1a"/><stop offset="0.867" stop-color="#1a1a1a"/><stop offset="0.933" stop-color="#1a1a1a"/><stop offset="1.000" stop-color="#000000"/></linearGradient><rect x="138.59" y="236.75" width="49.12" height="2.59" fill="url(#h192)"/><linearGradient id="h193" gradientUnits="userSpaceOnUse" x1="144.73" y1="0" x2="181.57" y2="0"><stop offset="0.000" stop-color="#000000"/><stop offset="0.067" stop-color="#1a1a1a"/><stop offset="0.133" stop-color="#1a1a1a"/><stop offset="0.200" stop-color="#1a1a1a"/><stop offset="0.267" stop-color="#1a1a1a"/><stop offset="0.333" stop-color="#1a1a1a"/><stop offset="0.400" stop-color="#333333"/><stop offset="0.467" stop-color="#4c4c4c"/><stop offset="0.533" stop-color="#666666"/><stop offset="0.600" stop-color="#666666"/><stop offset="0.667" stop-color="#4c4c4c"/><stop offset="0.733" stop-color="#333333"/><stop offset="0.800" stop-color="#1a1a1a"/><stop offset="0.867" stop-color="#1a1a1a"/><stop offset="0.933" stop-color="#1a1a1a"/><stop offset="1.000" stop-color="#000000"/></linearGradient><rect x="138.59" y="239.24" width="49.12" height="2.59" fill="url(#h193)"/><rect x="143.50" y="211.90" width="39.30" height="24.90" fill="none" stroke="#000000" stroke-width="1.60"/></g></g><clipPath id="c194"><rect x="190.30" y="211.90" width="39.30" height="24.90"/></clipPath><g clip-path="url(#c194)"><g filter="url(#par)" shape-rendering="crispEdges"><linearGradient id="h195" gradientUnits="userSpaceOnUse" x1="191.53" y1="0" x2="228.37" y2="0"><stop offset="0.000" stop-color="#000000"/><stop offset="0.067" stop-color="#1a1a1a"/><stop offset="0.133" stop-color="#1a1a1a"/><stop offset="0.200" stop-color="#1a1a1a"/><stop offset="0.267" stop-color="#1a1a1a"/><stop offset="0.333" stop-color="#333333"/><stop offset="0.400" stop-color="#4c4c4c"/><stop offset="0.467" stop-color="#4c4c4c"/><stop offset="0.533" stop-color="#4c4c4c"/><stop offset="0.600" stop-color="#333333"/><stop offset="0.667" stop-color="#1a1a1a"/><stop offset="0.733" stop-color="#1a1a1a"/><stop offset="0.800" stop-color="#1a1a1a"/><stop offset="0.867" stop-color="#1a1a1a"/><stop offset="0.933" stop-color="#1a1a1a"/><stop offset="1.000" stop-color="#000000"/></linearGradient><rect x="185.39" y="206.87" width="49.12" height="2.59" fill="url(#h195)"/><linearGradient id="h196" gradientUnits="userSpaceOnUse" x1="191.53" y1="0" x2="228.37" y2="0"><stop offset="0.000" stop-color="#000000"/><stop offset="0.067" stop-color="#1a1a1a"/><stop offset="0.133" stop-color="#1a1a1a"/><stop offset="0.200" stop-color="#1a1a1a"/><stop offset="0.267" stop-color="#1a1a1a"/><stop offset="0.333" stop-color="#333333"/><stop offset="0.400" stop-color="#4c4c4c"/><stop offset="0.467" stop-color="#4c4c4c"/><stop offset="0.533" stop-color="#4c4c4c"/><stop offset="0.600" stop-color="#333333"/><stop offset="0.667" stop-color="#1a1a1a"/><stop offset="0.733" stop-color="#1a1a1a"/><stop offset="0.800" stop-color="#1a1a1a"/><stop offset="0.867" stop-color="#1a1a1a"/><stop offset="0.933" stop-color="#1a1a1a"/><stop offset="1.000" stop-color="#000000"/></linearGradient><rect x="185.39" y="209.36" width="49.12" height="2.59" fill="url(#h196)"/><linearGradient id="h197" gradientUnits="userSpaceOnUse" x1="191.53" y1="0" x2="228.37" y2="0"><stop offset="0.000" stop-color="#000000"/><stop offset="0.067" stop-color="#1a1a1a"/><stop offset="0.133" stop-color="#1a1a1a"/><stop offset="0.200" stop-color="#1a1a1a"/><stop offset="0.267" stop-color="#1a1a1a"/><stop offset="0.333" stop-color="#333333"/><stop offset="0.400" stop-color="#4c4c4c"/><stop offset="0.467" stop-color="#4c4c4c"/><stop offset="0.533" stop-color="#4c4c4c"/><stop offset="0.600" stop-color="#333333"/><stop offset="0.667" stop-color="#1a1a1a"/><stop offset="0.733" stop-color="#1a1a1a"/><stop offset="0.800" stop-color="#1a1a1a"/><stop offset="0.867" stop-color="#1a1a1a"/><stop offset="0.933" stop-color="#1a1a1a"/><stop offset="1.000" stop-color="#000000"/></linearGradient><rect x="185.39" y="211.85" width="49.12" height="2.59" fill="url(#h197)"/><linearGradient id="h198" gradientUnits="userSpaceOnUse" x1="191.53" y1="0" x2="228.37" y2="0"><stop offset="0.000" stop-color="#000000"/><stop offset="0.067" stop-color="#1a1a1a"/><stop offset="0.133" stop-color="#1a1a1a"/><stop offset="0.200" stop-color="#1a1a1a"/><stop offset="0.267" stop-color="#1a1a1a"/><stop offset="0.333" stop-color="#4c4c4c"/><stop offset="0.400" stop-color="#808080"/><stop offset="0.467" stop-color="#999999"/><stop offset="0.533" stop-color="#999999"/><stop offset="0.600" stop-color="#666666"/><stop offset="0.667" stop-color="#333333"/><stop offset="0.733" stop-color="#1a1a1a"/><stop offset="0.800" stop-color="#1a1a1a"/><stop offset="0.867" stop-color="#1a1a1a"/><stop offset="0.933" stop-color="#1a1a1a"/><stop offset="1.000" stop-color="#000000"/></linearGradient><rect x="185.39" y="214.34" width="49.12" height="2.59" fill="url(#h198)"/><linearGradient id="h199" gradientUnits="userSpaceOnUse" x1="191.53" y1="0" x2="228.37" y2="0"><stop offset="0.000" stop-color="#000000"/><stop offset="0.067" stop-color="#1a1a1a"/><stop offset="0.133" stop-color="#1a1a1a"/><stop offset="0.200" stop-color="#1a1a1a"/><stop offset="0.267" stop-color="#333333"/><stop offset="0.333" stop-color="#333333"/><stop offset="0.400" stop-color="#4c4c4c"/><stop offset="0.467" stop-color="#4c4c4c"/><stop offset="0.533" stop-color="#4c4c4c"/><stop offset="0.600" stop-color="#4c4c4c"/><stop offset="0.667" stop-color="#333333"/><stop offset="0.733" stop-color="#1a1a1a"/><stop offset="0.800" stop-color="#1a1a1a"/><stop offset="0.867" stop-color="#1a1a1a"/><stop offset="0.933" stop-color="#1a1a1a"/><stop offset="1.000" stop-color="#000000"/></linearGradient><rect x="185.39" y="216.83" width="49.12" height="2.59" fill="url(#h199)"/><linearGradient id="h200" gradientUnits="userSpaceOnUse" x1="191.53" y1="0" x2="228.37" y2="0"><stop offset="0.000" stop-color="#000000"/><stop offset="0.067" stop-color="#1a1a1a"/><stop offset="0.133" stop-color="#1a1a1a"/><stop offset="0.200" stop-color="#333333"/><stop offset="0.267" stop-color="#4c4c4c"/><stop offset="0.333" stop-color="#333333"/><stop offset="0.400" stop-color="#4c4c4c"/><stop offset="0.467" stop-color="#666666"/><stop offset="0.533" stop-color="#666666"/><stop offset="0.600" stop-color="#666666"/><stop offset="0.667" stop-color="#4c4c4c"/><stop offset="0.733" stop-color="#333333"/><stop offset="0.800" stop-color="#1a1a1a"/><stop offset="0.867" stop-color="#1a1a1a"/><stop offset="0.933" stop-color="#1a1a1a"/><stop offset="1.000" stop-color="#000000"/></linearGradient><rect x="185.39" y="219.32" width="49.12" height="2.59" fill="url(#h200)"/><linearGradient id="h201" gradientUnits="userSpaceOnUse" x1="191.53" y1="0" x2="228.37" y2="0"><stop offset="0.000" stop-color="#000000"/><stop offset="0.067" stop-color="#1a1a1a"/><stop offset="0.133" stop-color="#333333"/><stop offset="0.200" stop-color="#4c4c4c"/><stop offset="0.267" stop-color="#333333"/><stop offset="0.333" stop-color="#333333"/><stop offset="0.400" stop-color="#4c4c4c"/><stop offset="0.467" stop-color="#666666"/><stop offset="0.533" stop-color="#666666"/><stop offset="0.600" stop-color="#4c4c4c"/><stop offset="0.667" stop-color="#4c4c4c"/><stop offset="0.733" stop-color="#333333"/><stop offset="0.800" stop-color="#1a1a1a"/><stop offset="0.867" stop-color="#1a1a1a"/><stop offset="0.933" stop-color="#1a1a1a"/><stop offset="1.000" stop-color="#000000"/></linearGradient><rect x="185.39" y="221.81" width="49.12" height="2.59" fill="url(#h201)"/><linearGradient id="h202" gradientUnits="userSpaceOnUse" x1="191.53" y1="0" x2="228.37" y2="0"><stop offset="0.000" stop-color="#000000"/><stop offset="0.067" stop-color="#1a1a1a"/><stop offset="0.133" stop-color="#333333"/><stop offset="0.200" stop-color="#4c4c4c"/><stop offset="0.267" stop-color="#333333"/><stop offset="0.333" stop-color="#333333"/><stop offset="0.400" stop-color="#4c4c4c"/><stop offset="0.467" stop-color="#4c4c4c"/><stop offset="0.533" stop-color="#4c4c4c"/><stop offset="0.600" stop-color="#4c4c4c"/><stop offset="0.667" stop-color="#4c4c4c"/><stop offset="0.733" stop-color="#333333"/><stop offset="0.800" stop-color="#1a1a1a"/><stop offset="0.867" stop-color="#1a1a1a"/><stop offset="0.933" stop-color="#1a1a1a"/><stop offset="1.000" stop-color="#000000"/></linearGradient><rect x="185.39" y="224.30" width="49.12" height="2.59" fill="url(#h202)"/><linearGradient id="h203" gradientUnits="userSpaceOnUse" x1="191.53" y1="0" x2="228.37" y2="0"><stop offset="0.000" stop-color="#000000"/><stop offset="0.067" stop-color="#1a1a1a"/><stop offset="0.133" stop-color="#333333"/><stop offset="0.200" stop-color="#4c4c4c"/><stop offset="0.267" stop-color="#333333"/><stop offset="0.333" stop-color="#1a1a1a"/><stop offset="0.400" stop-color="#333333"/><stop offset="0.467" stop-color="#333333"/><stop offset="0.533" stop-color="#333333"/><stop offset="0.600" stop-color="#333333"/><stop offset="0.667" stop-color="#333333"/><stop offset="0.733" stop-color="#1a1a1a"/><stop offset="0.800" stop-color="#1a1a1a"/><stop offset="0.867" stop-color="#1a1a1a"/><stop offset="0.933" stop-color="#1a1a1a"/><stop offset="1.000" stop-color="#000000"/></linearGradient><rect x="185.39" y="226.79" width="49.12" height="2.59" fill="url(#h203)"/><linearGradient id="h204" gradientUnits="userSpaceOnUse" x1="191.53" y1="0" x2="228.37" y2="0"><stop offset="0.000" stop-color="#000000"/><stop offset="0.067" stop-color="#1a1a1a"/><stop offset="0.133" stop-color="#1a1a1a"/><stop offset="0.200" stop-color="#333333"/><stop offset="0.267" stop-color="#4c4c4c"/><stop offset="0.333" stop-color="#4c4c4c"/><stop offset="0.400" stop-color="#4c4c4c"/><stop offset="0.467" stop-color="#4c4c4c"/><stop offset="0.533" stop-color="#4c4c4c"/><stop offset="0.600" stop-color="#4c4c4c"/><stop offset="0.667" stop-color="#4c4c4c"/><stop offset="0.733" stop-color="#333333"/><stop offset="0.800" stop-color="#1a1a1a"/><stop offset="0.867" stop-color="#1a1a1a"/><stop offset="0.933" stop-color="#1a1a1a"/><stop offset="1.000" stop-color="#000000"/></linearGradient><rect x="185.39" y="229.28" width="49.12" height="2.59" fill="url(#h204)"/><linearGradient id="h205" gradientUnits="userSpaceOnUse" x1="191.53" y1="0" x2="228.37" y2="0"><stop offset="0.000" stop-color="#000000"/><stop offset="0.067" stop-color="#1a1a1a"/><stop offset="0.133" stop-color="#1a1a1a"/><stop offset="0.200" stop-color="#1a1a1a"/><stop offset="0.267" stop-color="#333333"/><stop offset="0.333" stop-color="#333333"/><stop offset="0.400" stop-color="#4c4c4c"/><stop offset="0.467" stop-color="#666666"/><stop offset="0.533" stop-color="#999999"/><stop offset="0.600" stop-color="#b2b2b2"/><stop offset="0.667" stop-color="#666666"/><stop offset="0.733" stop-color="#333333"/><stop offset="0.800" stop-color="#1a1a1a"/><stop offset="0.867" stop-color="#1a1a1a"/><stop offset="0.933" stop-color="#1a1a1a"/><stop offset="1.000" stop-color="#000000"/></linearGradient><rect x="185.39" y="231.77" width="49.12" height="2.59" fill="url(#h205)"/><linearGradient id="h206" gradientUnits="userSpaceOnUse" x1="191.53" y1="0" x2="228.37" y2="0"><stop offset="0.000" stop-color="#000000"/><stop offset="0.067" stop-color="#1a1a1a"/><stop offset="0.133" stop-color="#1a1a1a"/><stop offset="0.200" stop-color="#1a1a1a"/><stop offset="0.267" stop-color="#1a1a1a"/><stop offset="0.333" stop-color="#1a1a1a"/><stop offset="0.400" stop-color="#333333"/><stop offset="0.467" stop-color="#4c4c4c"/><stop offset="0.533" stop-color="#666666"/><stop offset="0.600" stop-color="#666666"/><stop offset="0.667" stop-color="#4c4c4c"/><stop offset="0.733" stop-color="#1a1a1a"/><stop offset="0.800" stop-color="#1a1a1a"/><stop offset="0.867" stop-color="#1a1a1a"/><stop offset="0.933" stop-color="#1a1a1a"/><stop offset="1.000" stop-color="#000000"/></linearGradient><rect x="185.39" y="234.26" width="49.12" height="2.59" fill="url(#h206)"/><linearGradient id="h207" gradientUnits="userSpaceOnUse" x1="191.53" y1="0" x2="228.37" y2="0"><stop offset="0.000" stop-color="#000000"/><stop offset="0.067" stop-color="#1a1a1a"/><stop offset="0.133" stop-color="#1a1a1a"/><stop offset="0.200" stop-color="#1a1a1a"/><stop offset="0.267" stop-color="#1a1a1a"/><stop offset="0.333" stop-color="#1a1a1a"/><stop offset="0.400" stop-color="#333333"/><stop offset="0.467" stop-color="#4c4c4c"/><stop offset="0.533" stop-color="#666666"/><stop offset="0.600" stop-color="#666666"/><stop offset="0.667" stop-color="#4c4c4c"/><stop offset="0.733" stop-color="#1a1a1a"/><stop offset="0.800" stop-color="#1a1a1a"/><stop offset="0.867" stop-color="#1a1a1a"/><stop offset="0.933" stop-color="#1a1a1a"/><stop offset="1.000" stop-color="#000000"/></linearGradient><rect x="185.39" y="236.75" width="49.12" height="2.59" fill="url(#h207)"/><linearGradient id="h208" gradientUnits="userSpaceOnUse" x1="191.53" y1="0" x2="228.37" y2="0"><stop offset="0.000" stop-color="#000000"/><stop offset="0.067" stop-color="#1a1a1a"/><stop offset="0.133" stop-color="#1a1a1a"/><stop offset="0.200" stop-color="#1a1a1a"/><stop offset="0.267" stop-color="#1a1a1a"/><stop offset="0.333" stop-color="#1a1a1a"/><stop offset="0.400" stop-color="#333333"/><stop offset="0.467" stop-color="#4c4c4c"/><stop offset="0.533" stop-color="#666666"/><stop offset="0.600" stop-color="#666666"/><stop offset="0.667" stop-color="#4c4c4c"/><stop offset="0.733" stop-color="#1a1a1a"/><stop offset="0.800" stop-color="#1a1a1a"/><stop offset="0.867" stop-color="#1a1a1a"/><stop offset="0.933" stop-color="#1a1a1a"/><stop offset="1.000" stop-color="#000000"/></linearGradient><rect x="185.39" y="239.24" width="49.12" height="2.59" fill="url(#h208)"/><rect x="190.30" y="211.90" width="39.30" height="24.90" fill="none" stroke="#000000" stroke-width="1.60"/></g></g><clipPath id="c209"><rect x="270.80" y="178.60" width="39.30" height="25.40"/></clipPath><g clip-path="url(#c209)"><g filter="url(#par)" shape-rendering="crispEdges"><linearGradient id="h210" gradientUnits="userSpaceOnUse" x1="272.03" y1="0" x2="308.87" y2="0"><stop offset="0.000" stop-color="#808080"/><stop offset="0.067" stop-color="#666666"/><stop offset="0.133" stop-color="#4c4c4c"/><stop offset="0.200" stop-color="#4c4c4c"/><stop offset="0.267" stop-color="#666666"/><stop offset="0.333" stop-color="#666666"/><stop offset="0.400" stop-color="#808080"/><stop offset="0.467" stop-color="#808080"/><stop offset="0.533" stop-color="#808080"/><stop offset="0.600" stop-color="#808080"/><stop offset="0.667" stop-color="#808080"/><stop offset="0.733" stop-color="#808080"/><stop offset="0.800" stop-color="#808080"/><stop offset="0.867" stop-color="#666666"/><stop offset="0.933" stop-color="#666666"/><stop offset="1.000" stop-color="#666666"/></linearGradient><rect x="265.89" y="173.47" width="49.12" height="2.64" fill="url(#h210)"/><linearGradient id="h211" gradientUnits="userSpaceOnUse" x1="272.03" y1="0" x2="308.87" y2="0"><stop offset="0.000" stop-color="#808080"/><stop offset="0.067" stop-color="#666666"/><stop offset="0.133" stop-color="#4c4c4c"/><stop offset="0.200" stop-color="#4c4c4c"/><stop offset="0.267" stop-color="#666666"/><stop offset="0.333" stop-color="#666666"/><stop offset="0.400" stop-color="#808080"/><stop offset="0.467" stop-color="#808080"/><stop offset="0.533" stop-color="#808080"/><stop offset="0.600" stop-color="#808080"/><stop offset="0.667" stop-color="#808080"/><stop offset="0.733" stop-color="#808080"/><stop offset="0.800" stop-color="#808080"/><stop offset="0.867" stop-color="#666666"/><stop offset="0.933" stop-color="#666666"/><stop offset="1.000" stop-color="#666666"/></linearGradient><rect x="265.89" y="176.01" width="49.12" height="2.64" fill="url(#h211)"/><linearGradient id="h212" gradientUnits="userSpaceOnUse" x1="272.03" y1="0" x2="308.87" y2="0"><stop offset="0.000" stop-color="#808080"/><stop offset="0.067" stop-color="#666666"/><stop offset="0.133" stop-color="#4c4c4c"/><stop offset="0.200" stop-color="#4c4c4c"/><stop offset="0.267" stop-color="#666666"/><stop offset="0.333" stop-color="#666666"/><stop offset="0.400" stop-color="#808080"/><stop offset="0.467" stop-color="#808080"/><stop offset="0.533" stop-color="#808080"/><stop offset="0.600" stop-color="#808080"/><stop offset="0.667" stop-color="#808080"/><stop offset="0.733" stop-color="#808080"/><stop offset="0.800" stop-color="#808080"/><stop offset="0.867" stop-color="#666666"/><stop offset="0.933" stop-color="#666666"/><stop offset="1.000" stop-color="#666666"/></linearGradient><rect x="265.89" y="178.55" width="49.12" height="2.64" fill="url(#h212)"/><linearGradient id="h213" gradientUnits="userSpaceOnUse" x1="272.03" y1="0" x2="308.87" y2="0"><stop offset="0.000" stop-color="#a6a6a6"/><stop offset="0.067" stop-color="#b2b2b2"/><stop offset="0.133" stop-color="#a6a6a6"/><stop offset="0.200" stop-color="#a6a6a6"/><stop offset="0.267" stop-color="#a6a6a6"/><stop offset="0.333" stop-color="#a6a6a6"/><stop offset="0.400" stop-color="#a6a6a6"/><stop offset="0.467" stop-color="#b2b2b2"/><stop offset="0.533" stop-color="#cccccc"/><stop offset="0.600" stop-color="#cccccc"/><stop offset="0.667" stop-color="#cccccc"/><stop offset="0.733" stop-color="#b2b2b2"/><stop offset="0.800" stop-color="#a6a6a6"/><stop offset="0.867" stop-color="#a6a6a6"/><stop offset="0.933" stop-color="#b2b2b2"/><stop offset="1.000" stop-color="#b2b2b2"/></linearGradient><rect x="265.89" y="181.09" width="49.12" height="2.64" fill="url(#h213)"/><linearGradient id="h214" gradientUnits="userSpaceOnUse" x1="272.03" y1="0" x2="308.87" y2="0"><stop offset="0.000" stop-color="#cccccc"/><stop offset="0.067" stop-color="#cccccc"/><stop offset="0.133" stop-color="#a6a6a6"/><stop offset="0.200" stop-color="#a6a6a6"/><stop offset="0.267" stop-color="#a6a6a6"/><stop offset="0.333" stop-color="#808080"/><stop offset="0.400" stop-color="#a6a6a6"/><stop offset="0.467" stop-color="#a6a6a6"/><stop offset="0.533" stop-color="#a6a6a6"/><stop offset="0.600" stop-color="#a6a6a6"/><stop offset="0.667" stop-color="#a6a6a6"/><stop offset="0.733" stop-color="#808080"/><stop offset="0.800" stop-color="#a6a6a6"/><stop offset="0.867" stop-color="#b2b2b2"/><stop offset="0.933" stop-color="#cccccc"/><stop offset="1.000" stop-color="#cccccc"/></linearGradient><rect x="265.89" y="183.63" width="49.12" height="2.64" fill="url(#h214)"/><linearGradient id="h215" gradientUnits="userSpaceOnUse" x1="272.03" y1="0" x2="308.87" y2="0"><stop offset="0.000" stop-color="#b2b2b2"/><stop offset="0.067" stop-color="#a6a6a6"/><stop offset="0.133" stop-color="#a6a6a6"/><stop offset="0.200" stop-color="#808080"/><stop offset="0.267" stop-color="#a6a6a6"/><stop offset="0.333" stop-color="#cccccc"/><stop offset="0.400" stop-color="#e6e6e6"/><stop offset="0.467" stop-color="#e6e6e6"/><stop offset="0.533" stop-color="#e6e6e6"/><stop offset="0.600" stop-color="#e6e6e6"/><stop offset="0.667" stop-color="#e6e6e6"/><stop offset="0.733" stop-color="#cccccc"/><stop offset="0.800" stop-color="#cccccc"/><stop offset="0.867" stop-color="#b2b2b2"/><stop offset="0.933" stop-color="#a6a6a6"/><stop offset="1.000" stop-color="#a6a6a6"/></linearGradient><rect x="265.89" y="186.17" width="49.12" height="2.64" fill="url(#h215)"/><linearGradient id="h216" gradientUnits="userSpaceOnUse" x1="272.03" y1="0" x2="308.87" y2="0"><stop offset="0.000" stop-color="#a6a6a6"/><stop offset="0.067" stop-color="#a6a6a6"/><stop offset="0.133" stop-color="#808080"/><stop offset="0.200" stop-color="#808080"/><stop offset="0.267" stop-color="#b2b2b2"/><stop offset="0.333" stop-color="#e6e6e6"/><stop offset="0.400" stop-color="#e6e6e6"/><stop offset="0.467" stop-color="#e6e6e6"/><stop offset="0.533" stop-color="#ffffff"/><stop offset="0.600" stop-color="#e6e6e6"/><stop offset="0.667" stop-color="#e6e6e6"/><stop offset="0.733" stop-color="#cccccc"/><stop offset="0.800" stop-color="#cccccc"/><stop offset="0.867" stop-color="#b2b2b2"/><stop offset="0.933" stop-color="#b2b2b2"/><stop offset="1.000" stop-color="#b2b2b2"/></linearGradient><rect x="265.89" y="188.71" width="49.12" height="2.64" fill="url(#h216)"/><linearGradient id="h217" gradientUnits="userSpaceOnUse" x1="272.03" y1="0" x2="308.87" y2="0"><stop offset="0.000" stop-color="#e6e6e6"/><stop offset="0.067" stop-color="#e6e6e6"/><stop offset="0.133" stop-color="#a6a6a6"/><stop offset="0.200" stop-color="#a6a6a6"/><stop offset="0.267" stop-color="#808080"/><stop offset="0.333" stop-color="#808080"/><stop offset="0.400" stop-color="#808080"/><stop offset="0.467" stop-color="#a6a6a6"/><stop offset="0.533" stop-color="#cccccc"/><stop offset="0.600" stop-color="#e6e6e6"/><stop offset="0.667" stop-color="#e6e6e6"/><stop offset="0.733" stop-color="#cccccc"/><stop offset="0.800" stop-color="#cccccc"/><stop offset="0.867" stop-color="#cccccc"/><stop offset="0.933" stop-color="#cccccc"/><stop offset="1.000" stop-color="#cccccc"/></linearGradient><rect x="265.89" y="191.25" width="49.12" height="2.64" fill="url(#h217)"/><linearGradient id="h218" gradientUnits="userSpaceOnUse" x1="272.03" y1="0" x2="308.87" y2="0"><stop offset="0.000" stop-color="#e6e6e6"/><stop offset="0.067" stop-color="#cccccc"/><stop offset="0.133" stop-color="#b2b2b2"/><stop offset="0.200" stop-color="#b2b2b2"/><stop offset="0.267" stop-color="#a6a6a6"/><stop offset="0.333" stop-color="#a6a6a6"/><stop offset="0.400" stop-color="#a6a6a6"/><stop offset="0.467" stop-color="#b2b2b2"/><stop offset="0.533" stop-color="#e6e6e6"/><stop offset="0.600" stop-color="#e6e6e6"/><stop offset="0.667" stop-color="#cccccc"/><stop offset="0.733" stop-color="#cccccc"/><stop offset="0.800" stop-color="#cccccc"/><stop offset="0.867" stop-color="#cccccc"/><stop offset="0.933" stop-color="#b2b2b2"/><stop offset="1.000" stop-color="#b2b2b2"/></linearGradient><rect x="265.89" y="193.79" width="49.12" height="2.64" fill="url(#h218)"/><linearGradient id="h219" gradientUnits="userSpaceOnUse" x1="272.03" y1="0" x2="308.87" y2="0"><stop offset="0.000" stop-color="#a6a6a6"/><stop offset="0.067" stop-color="#b2b2b2"/><stop offset="0.133" stop-color="#cccccc"/><stop offset="0.200" stop-color="#e6e6e6"/><stop offset="0.267" stop-color="#e6e6e6"/><stop offset="0.333" stop-color="#cccccc"/><stop offset="0.400" stop-color="#cccccc"/><stop offset="0.467" stop-color="#cccccc"/><stop offset="0.533" stop-color="#e6e6e6"/><stop offset="0.600" stop-color="#e6e6e6"/><stop offset="0.667" stop-color="#cccccc"/><stop offset="0.733" stop-color="#cccccc"/><stop offset="0.800" stop-color="#b2b2b2"/><stop offset="0.867" stop-color="#b2b2b2"/><stop offset="0.933" stop-color="#b2b2b2"/><stop offset="1.000" stop-color="#a6a6a6"/></linearGradient><rect x="265.89" y="196.33" width="49.12" height="2.64" fill="url(#h219)"/><linearGradient id="h220" gradientUnits="userSpaceOnUse" x1="272.03" y1="0" x2="308.87" y2="0"><stop offset="0.000" stop-color="#808080"/><stop offset="0.067" stop-color="#808080"/><stop offset="0.133" stop-color="#808080"/><stop offset="0.200" stop-color="#a6a6a6"/><stop offset="0.267" stop-color="#b2b2b2"/><stop offset="0.333" stop-color="#b2b2b2"/><stop offset="0.400" stop-color="#b2b2b2"/><stop offset="0.467" stop-color="#b2b2b2"/><stop offset="0.533" stop-color="#b2b2b2"/><stop offset="0.600" stop-color="#b2b2b2"/><stop offset="0.667" stop-color="#b2b2b2"/><stop offset="0.733" stop-color="#a6a6a6"/><stop offset="0.800" stop-color="#a6a6a6"/><stop offset="0.867" stop-color="#a6a6a6"/><stop offset="0.933" stop-color="#a6a6a6"/><stop offset="1.000" stop-color="#a6a6a6"/></linearGradient><rect x="265.89" y="198.87" width="49.12" height="2.64" fill="url(#h220)"/><linearGradient id="h221" gradientUnits="userSpaceOnUse" x1="272.03" y1="0" x2="308.87" y2="0"><stop offset="0.000" stop-color="#666666"/><stop offset="0.067" stop-color="#666666"/><stop offset="0.133" stop-color="#666666"/><stop offset="0.200" stop-color="#666666"/><stop offset="0.267" stop-color="#666666"/><stop offset="0.333" stop-color="#808080"/><stop offset="0.400" stop-color="#808080"/><stop offset="0.467" stop-color="#808080"/><stop offset="0.533" stop-color="#808080"/><stop offset="0.600" stop-color="#808080"/><stop offset="0.667" stop-color="#808080"/><stop offset="0.733" stop-color="#808080"/><stop offset="0.800" stop-color="#808080"/><stop offset="0.867" stop-color="#808080"/><stop offset="0.933" stop-color="#808080"/><stop offset="1.000" stop-color="#808080"/></linearGradient><rect x="265.89" y="201.41" width="49.12" height="2.64" fill="url(#h221)"/><linearGradient id="h222" gradientUnits="userSpaceOnUse" x1="272.03" y1="0" x2="308.87" y2="0"><stop offset="0.000" stop-color="#666666"/><stop offset="0.067" stop-color="#666666"/><stop offset="0.133" stop-color="#666666"/><stop offset="0.200" stop-color="#666666"/><stop offset="0.267" stop-color="#666666"/><stop offset="0.333" stop-color="#808080"/><stop offset="0.400" stop-color="#808080"/><stop offset="0.467" stop-color="#808080"/><stop offset="0.533" stop-color="#808080"/><stop offset="0.600" stop-color="#808080"/><stop offset="0.667" stop-color="#808080"/><stop offset="0.733" stop-color="#808080"/><stop offset="0.800" stop-color="#808080"/><stop offset="0.867" stop-color="#808080"/><stop offset="0.933" stop-color="#808080"/><stop offset="1.000" stop-color="#808080"/></linearGradient><rect x="265.89" y="203.95" width="49.12" height="2.64" fill="url(#h222)"/><linearGradient id="h223" gradientUnits="userSpaceOnUse" x1="272.03" y1="0" x2="308.87" y2="0"><stop offset="0.000" stop-color="#666666"/><stop offset="0.067" stop-color="#666666"/><stop offset="0.133" stop-color="#666666"/><stop offset="0.200" stop-color="#666666"/><stop offset="0.267" stop-color="#666666"/><stop offset="0.333" stop-color="#808080"/><stop offset="0.400" stop-color="#808080"/><stop offset="0.467" stop-color="#808080"/><stop offset="0.533" stop-color="#808080"/><stop offset="0.600" stop-color="#808080"/><stop offset="0.667" stop-color="#808080"/><stop offset="0.733" stop-color="#808080"/><stop offset="0.800" stop-color="#808080"/><stop offset="0.867" stop-color="#808080"/><stop offset="0.933" stop-color="#808080"/><stop offset="1.000" stop-color="#808080"/></linearGradient><rect x="265.89" y="206.49" width="49.12" height="2.64" fill="url(#h223)"/></g></g><clipPath id="c224"><rect x="270.80" y="211.90" width="39.30" height="24.90"/></clipPath><g clip-path="url(#c224)"><g filter="url(#par)" shape-rendering="crispEdges"><rect x="265.89" y="206.87" width="49.12" height="2.59" fill="#666666"/><rect x="265.89" y="209.36" width="49.12" height="2.59" fill="#666666"/><rect x="265.89" y="211.85" width="49.12" height="2.59" fill="#666666"/><linearGradient id="h225" gradientUnits="userSpaceOnUse" x1="272.03" y1="0" x2="308.87" y2="0"><stop offset="0.000" stop-color="#8c8c8c"/><stop offset="0.067" stop-color="#8c8c8c"/><stop offset="0.133" stop-color="#a6a6a6"/><stop offset="0.200" stop-color="#a6a6a6"/><stop offset="0.267" stop-color="#a6a6a6"/><stop offset="0.333" stop-color="#a6a6a6"/><stop offset="0.400" stop-color="#a6a6a6"/><stop offset="0.467" stop-color="#a6a6a6"/><stop offset="0.533" stop-color="#b2b2b2"/><stop offset="0.600" stop-color="#b2b2b2"/><stop offset="0.667" stop-color="#b2b2b2"/><stop offset="0.733" stop-color="#b2b2b2"/><stop offset="0.800" stop-color="#b2b2b2"/><stop offset="0.867" stop-color="#a6a6a6"/><stop offset="0.933" stop-color="#a6a6a6"/><stop offset="1.000" stop-color="#a6a6a6"/></linearGradient><rect x="265.89" y="214.34" width="49.12" height="2.59" fill="url(#h225)"/><linearGradient id="h226" gradientUnits="userSpaceOnUse" x1="272.03" y1="0" x2="308.87" y2="0"><stop offset="0.000" stop-color="#cccccc"/><stop offset="0.067" stop-color="#cccccc"/><stop offset="0.133" stop-color="#8c8c8c"/><stop offset="0.200" stop-color="#8c8c8c"/><stop offset="0.267" stop-color="#8c8c8c"/><stop offset="0.333" stop-color="#a6a6a6"/><stop offset="0.400" stop-color="#a6a6a6"/><stop offset="0.467" stop-color="#a6a6a6"/><stop offset="0.533" stop-color="#cccccc"/><stop offset="0.600" stop-color="#cccccc"/><stop offset="0.667" stop-color="#a6a6a6"/><stop offset="0.733" stop-color="#a6a6a6"/><stop offset="0.800" stop-color="#a6a6a6"/><stop offset="0.867" stop-color="#a6a6a6"/><stop offset="0.933" stop-color="#a6a6a6"/><stop offset="1.000" stop-color="#a6a6a6"/></linearGradient><rect x="265.89" y="216.83" width="49.12" height="2.59" fill="url(#h226)"/><linearGradient id="h227" gradientUnits="userSpaceOnUse" x1="272.03" y1="0" x2="308.87" y2="0"><stop offset="0.000" stop-color="#cccccc"/><stop offset="0.067" stop-color="#cccccc"/><stop offset="0.133" stop-color="#8c8c8c"/><stop offset="0.200" stop-color="#8c8c8c"/><stop offset="0.267" stop-color="#8c8c8c"/><stop offset="0.333" stop-color="#a6a6a6"/><stop offset="0.400" stop-color="#cccccc"/><stop offset="0.467" stop-color="#cccccc"/><stop offset="0.533" stop-color="#cccccc"/><stop offset="0.600" stop-color="#cccccc"/><stop offset="0.667" stop-color="#b2b2b2"/><stop offset="0.733" stop-color="#a6a6a6"/><stop offset="0.800" stop-color="#a6a6a6"/><stop offset="0.867" stop-color="#a6a6a6"/><stop offset="0.933" stop-color="#a6a6a6"/><stop offset="1.000" stop-color="#a6a6a6"/></linearGradient><rect x="265.89" y="219.32" width="49.12" height="2.59" fill="url(#h227)"/><linearGradient id="h228" gradientUnits="userSpaceOnUse" x1="272.03" y1="0" x2="308.87" y2="0"><stop offset="0.000" stop-color="#e6e6e6"/><stop offset="0.067" stop-color="#e6e6e6"/><stop offset="0.133" stop-color="#a6a6a6"/><stop offset="0.200" stop-color="#8c8c8c"/><stop offset="0.267" stop-color="#8c8c8c"/><stop offset="0.333" stop-color="#a6a6a6"/><stop offset="0.400" stop-color="#e6e6e6"/><stop offset="0.467" stop-color="#e6e6e6"/><stop offset="0.533" stop-color="#ffffff"/><stop offset="0.600" stop-color="#ffffff"/><stop offset="0.667" stop-color="#cccccc"/><stop offset="0.733" stop-color="#a6a6a6"/><stop offset="0.800" stop-color="#a6a6a6"/><stop offset="0.867" stop-color="#a6a6a6"/><stop offset="0.933" stop-color="#a6a6a6"/><stop offset="1.000" stop-color="#a6a6a6"/></linearGradient><rect x="265.89" y="221.81" width="49.12" height="2.59" fill="url(#h228)"/><linearGradient id="h229" gradientUnits="userSpaceOnUse" x1="272.03" y1="0" x2="308.87" y2="0"><stop offset="0.000" stop-color="#e6e6e6"/><stop offset="0.067" stop-color="#e6e6e6"/><stop offset="0.133" stop-color="#a6a6a6"/><stop offset="0.200" stop-color="#8c8c8c"/><stop offset="0.267" stop-color="#8c8c8c"/><stop offset="0.333" stop-color="#a6a6a6"/><stop offset="0.400" stop-color="#a6a6a6"/><stop offset="0.467" stop-color="#cccccc"/><stop offset="0.533" stop-color="#e6e6e6"/><stop offset="0.600" stop-color="#cccccc"/><stop offset="0.667" stop-color="#b2b2b2"/><stop offset="0.733" stop-color="#a6a6a6"/><stop offset="0.800" stop-color="#a6a6a6"/><stop offset="0.867" stop-color="#a6a6a6"/><stop offset="0.933" stop-color="#a6a6a6"/><stop offset="1.000" stop-color="#a6a6a6"/></linearGradient><rect x="265.89" y="224.30" width="49.12" height="2.59" fill="url(#h229)"/><linearGradient id="h230" gradientUnits="userSpaceOnUse" x1="272.03" y1="0" x2="308.87" y2="0"><stop offset="0.000" stop-color="#cccccc"/><stop offset="0.067" stop-color="#cccccc"/><stop offset="0.133" stop-color="#a6a6a6"/><stop offset="0.200" stop-color="#8c8c8c"/><stop offset="0.267" stop-color="#8c8c8c"/><stop offset="0.333" stop-color="#a6a6a6"/><stop offset="0.400" stop-color="#a6a6a6"/><stop offset="0.467" stop-color="#b2b2b2"/><stop offset="0.533" stop-color="#cccccc"/><stop offset="0.600" stop-color="#cccccc"/><stop offset="0.667" stop-color="#a6a6a6"/><stop offset="0.733" stop-color="#a6a6a6"/><stop offset="0.800" stop-color="#a6a6a6"/><stop offset="0.867" stop-color="#8c8c8c"/><stop offset="0.933" stop-color="#8c8c8c"/><stop offset="1.000" stop-color="#a6a6a6"/></linearGradient><rect x="265.89" y="226.79" width="49.12" height="2.59" fill="url(#h230)"/><linearGradient id="h231" gradientUnits="userSpaceOnUse" x1="272.03" y1="0" x2="308.87" y2="0"><stop offset="0.000" stop-color="#b2b2b2"/><stop offset="0.067" stop-color="#a6a6a6"/><stop offset="0.133" stop-color="#cccccc"/><stop offset="0.200" stop-color="#cccccc"/><stop offset="0.267" stop-color="#cccccc"/><stop offset="0.333" stop-color="#cccccc"/><stop offset="0.400" stop-color="#cccccc"/><stop offset="0.467" stop-color="#cccccc"/><stop offset="0.533" stop-color="#cccccc"/><stop offset="0.600" stop-color="#a6a6a6"/><stop offset="0.667" stop-color="#a6a6a6"/><stop offset="0.733" stop-color="#a6a6a6"/><stop offset="0.800" stop-color="#a6a6a6"/><stop offset="0.867" stop-color="#a6a6a6"/><stop offset="0.933" stop-color="#a6a6a6"/><stop offset="1.000" stop-color="#a6a6a6"/></linearGradient><rect x="265.89" y="229.28" width="49.12" height="2.59" fill="url(#h231)"/><linearGradient id="h232" gradientUnits="userSpaceOnUse" x1="272.03" y1="0" x2="308.87" y2="0"><stop offset="0.000" stop-color="#a6a6a6"/><stop offset="0.067" stop-color="#a6a6a6"/><stop offset="0.133" stop-color="#a6a6a6"/><stop offset="0.200" stop-color="#a6a6a6"/><stop offset="0.267" stop-color="#b2b2b2"/><stop offset="0.333" stop-color="#b2b2b2"/><stop offset="0.400" stop-color="#b2b2b2"/><stop offset="0.467" stop-color="#b2b2b2"/><stop offset="0.533" stop-color="#b2b2b2"/><stop offset="0.600" stop-color="#b2b2b2"/><stop offset="0.667" stop-color="#a6a6a6"/><stop offset="0.733" stop-color="#a6a6a6"/><stop offset="0.800" stop-color="#a6a6a6"/><stop offset="0.867" stop-color="#a6a6a6"/><stop offset="0.933" stop-color="#a6a6a6"/><stop offset="1.000" stop-color="#a6a6a6"/></linearGradient><rect x="265.89" y="231.77" width="49.12" height="2.59" fill="url(#h232)"/><linearGradient id="h233" gradientUnits="userSpaceOnUse" x1="272.03" y1="0" x2="308.87" y2="0"><stop offset="0.000" stop-color="#666666"/><stop offset="0.067" stop-color="#666666"/><stop offset="0.133" stop-color="#666666"/><stop offset="0.200" stop-color="#666666"/><stop offset="0.267" stop-color="#666666"/><stop offset="0.333" stop-color="#666666"/><stop offset="0.400" stop-color="#666666"/><stop offset="0.467" stop-color="#666666"/><stop offset="0.533" stop-color="#8c8c8c"/><stop offset="0.600" stop-color="#8c8c8c"/><stop offset="0.667" stop-color="#8c8c8c"/><stop offset="0.733" stop-color="#8c8c8c"/><stop offset="0.800" stop-color="#8c8c8c"/><stop offset="0.867" stop-color="#8c8c8c"/><stop offset="0.933" stop-color="#666666"/><stop offset="1.000" stop-color="#666666"/></linearGradient><rect x="265.89" y="234.26" width="49.12" height="2.59" fill="url(#h233)"/><linearGradient id="h234" gradientUnits="userSpaceOnUse" x1="272.03" y1="0" x2="308.87" y2="0"><stop offset="0.000" stop-color="#666666"/><stop offset="0.067" stop-color="#666666"/><stop offset="0.133" stop-color="#666666"/><stop offset="0.200" stop-color="#666666"/><stop offset="0.267" stop-color="#666666"/><stop offset="0.333" stop-color="#666666"/><stop offset="0.400" stop-color="#666666"/><stop offset="0.467" stop-color="#666666"/><stop offset="0.533" stop-color="#8c8c8c"/><stop offset="0.600" stop-color="#8c8c8c"/><stop offset="0.667" stop-color="#8c8c8c"/><stop offset="0.733" stop-color="#8c8c8c"/><stop offset="0.800" stop-color="#8c8c8c"/><stop offset="0.867" stop-color="#8c8c8c"/><stop offset="0.933" stop-color="#666666"/><stop offset="1.000" stop-color="#666666"/></linearGradient><rect x="265.89" y="236.75" width="49.12" height="2.59" fill="url(#h234)"/><linearGradient id="h235" gradientUnits="userSpaceOnUse" x1="272.03" y1="0" x2="308.87" y2="0"><stop offset="0.000" stop-color="#666666"/><stop offset="0.067" stop-color="#666666"/><stop offset="0.133" stop-color="#666666"/><stop offset="0.200" stop-color="#666666"/><stop offset="0.267" stop-color="#666666"/><stop offset="0.333" stop-color="#666666"/><stop offset="0.400" stop-color="#666666"/><stop offset="0.467" stop-color="#666666"/><stop offset="0.533" stop-color="#8c8c8c"/><stop offset="0.600" stop-color="#8c8c8c"/><stop offset="0.667" stop-color="#8c8c8c"/><stop offset="0.733" stop-color="#8c8c8c"/><stop offset="0.800" stop-color="#8c8c8c"/><stop offset="0.867" stop-color="#8c8c8c"/><stop offset="0.933" stop-color="#666666"/><stop offset="1.000" stop-color="#666666"/></linearGradient><rect x="265.89" y="239.24" width="49.12" height="2.59" fill="url(#h235)"/></g></g><text x="142.60" y="180.18" font-size="2.70" text-anchor="end" dominant-baseline="central" fill="#222" >Dist</text><text x="142.60" y="203.28" font-size="2.70" text-anchor="end" dominant-baseline="central" fill="#222" >Prox</text><text x="270.00" y="180.18" font-size="2.70" text-anchor="end" dominant-baseline="central" fill="#222" >Dist</text><text x="270.00" y="203.28" font-size="2.70" text-anchor="end" dominant-baseline="central" fill="#222" >Prox</text><text x="142.60" y="213.48" font-size="2.70" text-anchor="end" dominant-baseline="central" fill="#222" >Dist</text><text x="142.60" y="236.08" font-size="2.70" text-anchor="end" dominant-baseline="central" fill="#222" >Prox</text><text x="270.00" y="213.48" font-size="2.70" text-anchor="end" dominant-baseline="central" fill="#222" >Dist</text><text x="270.00" y="236.08" font-size="2.70" text-anchor="end" dominant-baseline="central" fill="#222" >Prox</text><text x="143.50" y="240.48" font-size="2.70" text-anchor="middle" dominant-baseline="central" fill="#333" >Post</text><text x="153.32" y="240.48" font-size="2.70" text-anchor="middle" dominant-baseline="central" fill="#333" >Left</text><text x="163.15" y="240.48" font-size="2.70" text-anchor="middle" dominant-baseline="central" fill="#333" >Ant</text><text x="172.97" y="240.48" font-size="2.70" text-anchor="middle" dominant-baseline="central" fill="#333" >Right</text><text x="182.80" y="240.48" font-size="2.70" text-anchor="middle" dominant-baseline="central" fill="#333" >Post</text><text x="190.30" y="240.48" font-size="2.70" text-anchor="middle" dominant-baseline="central" fill="#333" >Post</text><text x="200.12" y="240.48" font-size="2.70" text-anchor="middle" dominant-baseline="central" fill="#333" >Left</text><text x="209.95" y="240.48" font-size="2.70" text-anchor="middle" dominant-baseline="central" fill="#333" >Ant</text><text x="219.78" y="240.48" font-size="2.70" text-anchor="middle" dominant-baseline="central" fill="#333" >Right</text><text x="229.60" y="240.48" font-size="2.70" text-anchor="middle" dominant-baseline="central" fill="#333" >Post</text><text x="270.80" y="240.48" font-size="2.70" text-anchor="middle" dominant-baseline="central" fill="#333" >Post</text><text x="280.62" y="240.48" font-size="2.70" text-anchor="middle" dominant-baseline="central" fill="#333" >Left</text><text x="290.45" y="240.48" font-size="2.70" text-anchor="middle" dominant-baseline="central" fill="#333" >Ant</text><text x="300.28" y="240.48" font-size="2.70" text-anchor="middle" dominant-baseline="central" fill="#333" >Right</text><text x="310.10" y="240.48" font-size="2.70" text-anchor="middle" dominant-baseline="central" fill="#333" >Post</text><text x="136.25" y="207.70" font-size="5.00" text-anchor="middle" dominant-baseline="central" fill="#9c9c9c" transform="rotate(-90 136.25 207.70)" >Longitudinal direction</text><text x="263.15" y="207.70" font-size="5.00" text-anchor="middle" dominant-baseline="central" fill="#9c9c9c" transform="rotate(-90 263.15 207.70)" >Longitudinal direction</text><text x="193.00" y="248.60" font-size="4.80" text-anchor="middle" dominant-baseline="central" fill="#999" >Circumferential direction</text><text x="294.50" y="248.60" font-size="4.80" text-anchor="middle" dominant-baseline="central" fill="#999" >Circumferential direction</text><linearGradient id="g236" x1="0" y1="0" x2="0" y2="1"><stop offset="0.000" stop-color="#f5f223"/><stop offset="0.062" stop-color="#f6e327"/><stop offset="0.125" stop-color="#f7cc2c"/><stop offset="0.188" stop-color="#f4b831"/><stop offset="0.250" stop-color="#d3be34"/><stop offset="0.312" stop-color="#acc73b"/><stop offset="0.375" stop-color="#87c44e"/><stop offset="0.438" stop-color="#5cbe71"/><stop offset="0.500" stop-color="#2fb69f"/><stop offset="0.562" stop-color="#1db2bf"/><stop offset="0.625" stop-color="#14aad5"/><stop offset="0.688" stop-color="#149edc"/><stop offset="0.750" stop-color="#218edb"/><stop offset="0.812" stop-color="#317ed4"/><stop offset="0.875" stop-color="#436cc8"/><stop offset="0.938" stop-color="#4d56b0"/><stop offset="1.000" stop-color="#2d2d96"/></linearGradient><rect x="241.20" y="177.80" width="2.30" height="63.90" fill="url(#g236)" stroke="#666" stroke-width="0.15"/><text x="239.60" y="183.30" font-size="4.00" text-anchor="end" dominant-baseline="central" fill="#383838" >1</text><text x="239.60" y="195.20" font-size="4.00" text-anchor="end" dominant-baseline="central" fill="#383838" >0.8</text><text x="239.60" y="207.10" font-size="4.00" text-anchor="end" dominant-baseline="central" fill="#383838" >0.6</text><text x="239.60" y="218.90" font-size="4.00" text-anchor="end" dominant-baseline="central" fill="#383838" >0.4</text><text x="239.60" y="230.80" font-size="4.00" text-anchor="end" dominant-baseline="central" fill="#383838" >0.2</text><text x="239.60" y="242.70" font-size="4.00" text-anchor="end" dominant-baseline="central" fill="#383838" >0</text><text x="247.02" y="209.80" font-size="3.30" text-anchor="middle" dominant-baseline="central" fill="#444" transform="rotate(-90 247.02 209.80)" >mm</text><linearGradient id="g237" x1="0" y1="0" x2="0" y2="1"><stop offset="0.000" stop-color="#f5f223"/><stop offset="0.062" stop-color="#f6e327"/><stop offset="0.125" stop-color="#f7cc2c"/><stop offset="0.188" stop-color="#f4b831"/><stop offset="0.250" stop-color="#d3be34"/><stop offset="0.312" stop-color="#acc73b"/><stop offset="0.375" stop-color="#87c44e"/><stop offset="0.438" stop-color="#5cbe71"/><stop offset="0.500" stop-color="#2fb69f"/><stop offset="0.562" stop-color="#1db2bf"/><stop offset="0.625" stop-color="#14aad5"/><stop offset="0.688" stop-color="#149edc"/><stop offset="0.750" stop-color="#218edb"/><stop offset="0.812" stop-color="#317ed4"/><stop offset="0.875" stop-color="#436cc8"/><stop offset="0.938" stop-color="#4d56b0"/><stop offset="1.000" stop-color="#2d2d96"/></linearGradient><rect x="319.90" y="177.70" width="2.30" height="62.90" fill="url(#g237)" stroke="#666" stroke-width="0.15"/><text x="318.80" y="183.40" font-size="4.00" text-anchor="end" dominant-baseline="central" fill="#383838" >0.15</text><text x="318.80" y="203.00" font-size="4.00" text-anchor="end" dominant-baseline="central" fill="#383838" >0.1</text><text x="318.80" y="223.70" font-size="4.00" text-anchor="end" dominant-baseline="central" fill="#383838" >0.05</text><text x="318.80" y="241.90" font-size="4.00" text-anchor="end" dominant-baseline="central" fill="#383838" >0</text><text x="326.00" y="209.60" font-size="4.00" text-anchor="middle" dominant-baseline="central" fill="#444" transform="rotate(-90 326.00 209.60)" >RI</text></svg></body></html>
